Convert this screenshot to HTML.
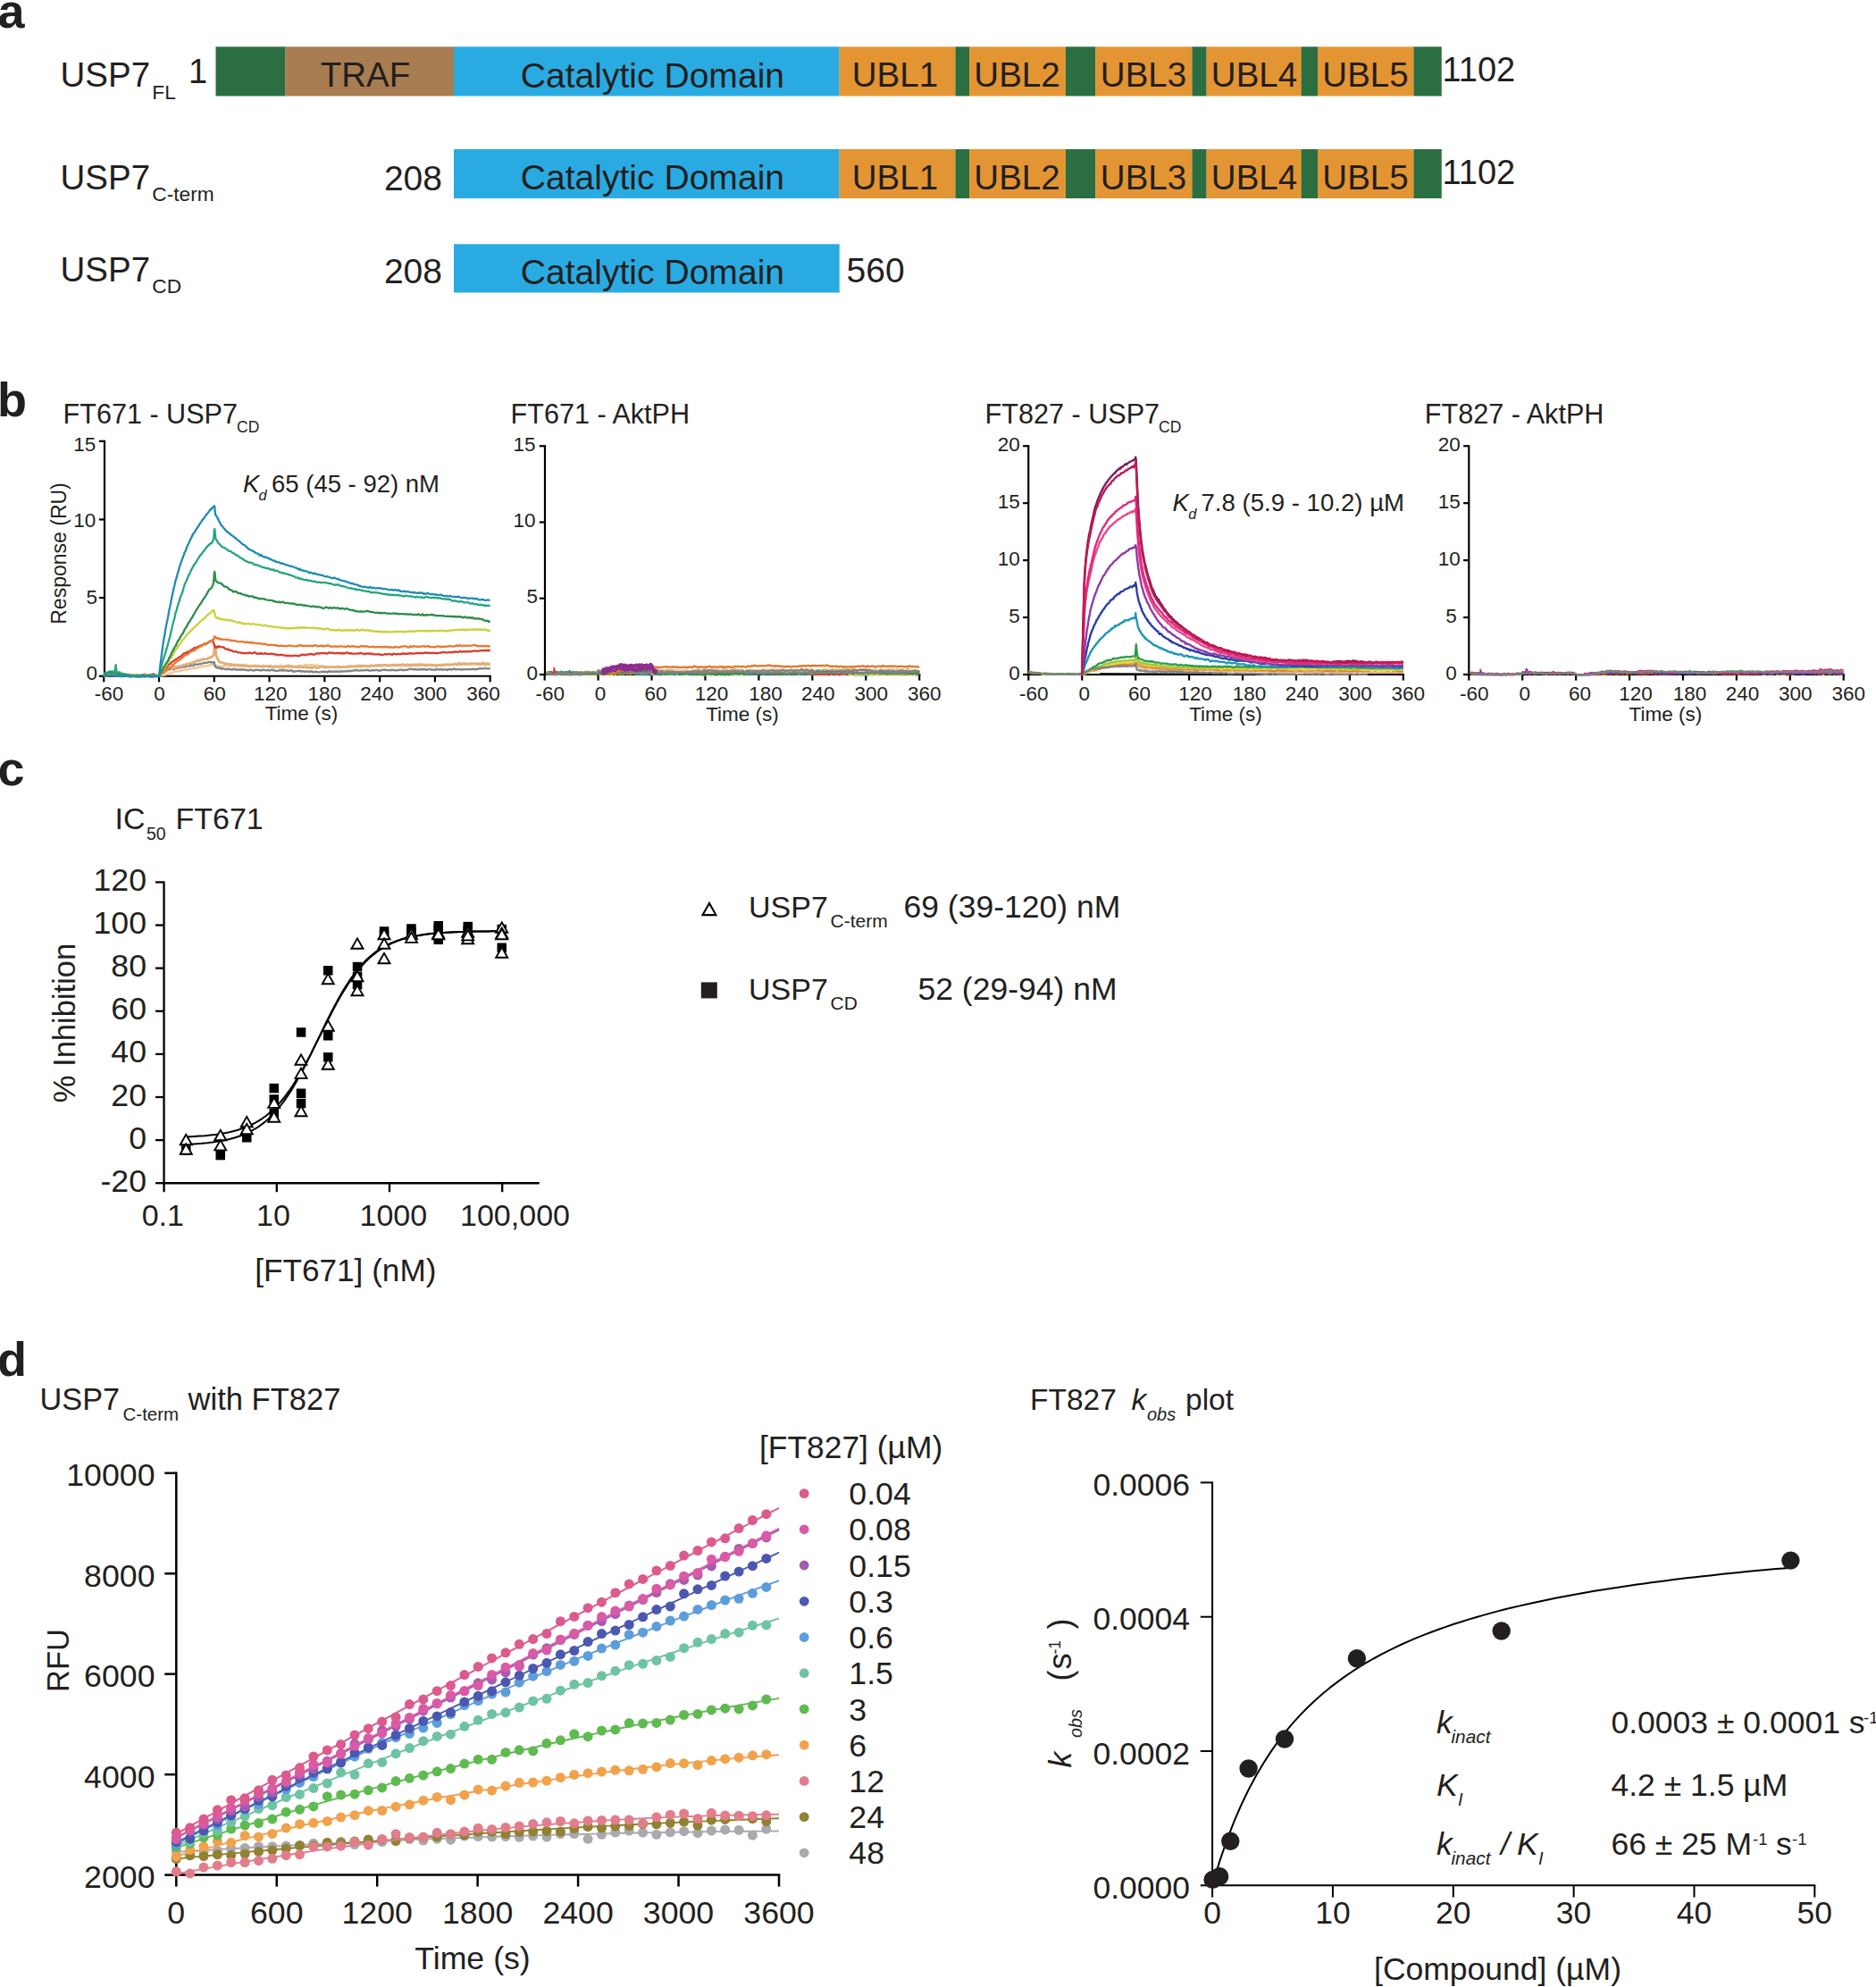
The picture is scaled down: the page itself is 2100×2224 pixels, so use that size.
<!DOCTYPE html>
<html lang="en"><head><meta charset="utf-8"><title>USP7 inhibitor figure</title>
<style>
html,body{margin:0;padding:0;background:#fff;}
body{width:2100px;height:2224px;overflow:hidden;}
svg{display:block;}
svg text{font-family:"Liberation Sans",sans-serif;fill:#231f20;}
</style></head><body>
<svg width="2100" height="2224" viewBox="0 0 2100 2224">
<rect width="2100" height="2224" fill="#fff"/>
<text x="-2.5" y="31.0" font-size="54" font-weight="bold">a</text>
<rect x="241.50" y="52.30" width="77.90" height="55.20" fill="#2b6e41"/>
<rect x="319.20" y="52.30" width="189.00" height="55.20" fill="#a87d51"/>
<rect x="508.00" y="52.30" width="431.70" height="55.20" fill="#29abe2"/>
<rect x="939.50" y="52.30" width="130.20" height="55.20" fill="#e39534"/>
<rect x="1069.50" y="52.30" width="15.70" height="55.20" fill="#2b6e41"/>
<rect x="1085.00" y="52.30" width="108.20" height="55.20" fill="#e39534"/>
<rect x="1193.00" y="52.30" width="33.45" height="55.20" fill="#2b6e41"/>
<rect x="1226.25" y="52.30" width="108.45" height="55.20" fill="#e39534"/>
<rect x="1334.50" y="52.30" width="16.20" height="55.20" fill="#2b6e41"/>
<rect x="1350.50" y="52.30" width="106.45" height="55.20" fill="#e39534"/>
<rect x="1456.75" y="52.30" width="18.45" height="55.20" fill="#2b6e41"/>
<rect x="1475.00" y="52.30" width="107.70" height="55.20" fill="#e39534"/>
<rect x="1582.50" y="52.30" width="31.25" height="55.20" fill="#2b6e41"/>
<text x="1001.9" y="97.0" font-size="38.5" text-anchor="middle">UBL1</text>
<text x="1138.5" y="97.0" font-size="38.5" text-anchor="middle">UBL2</text>
<text x="1280.0" y="97.0" font-size="38.5" text-anchor="middle">UBL3</text>
<text x="1404.0" y="97.0" font-size="38.5" text-anchor="middle">UBL4</text>
<text x="1528.5" y="97.0" font-size="38.5" text-anchor="middle">UBL5</text>
<text x="730.4" y="97.5" font-size="39.1" text-anchor="middle">Catalytic Domain</text>
<text x="409.0" y="97.0" font-size="38.5" text-anchor="middle">TRAF</text>
<text x="67.5" y="97.0" font-size="38.5">USP7</text>
<text x="170.3" y="110.5" font-size="22.7">FL</text>
<text x="211.0" y="92.7" font-size="38">1</text>
<text x="1614.5" y="91.3" font-size="38">1102</text>
<rect x="508.00" y="167.00" width="431.70" height="55.00" fill="#29abe2"/>
<rect x="939.50" y="167.00" width="130.20" height="55.00" fill="#e39534"/>
<rect x="1069.50" y="167.00" width="15.70" height="55.00" fill="#2b6e41"/>
<rect x="1085.00" y="167.00" width="108.20" height="55.00" fill="#e39534"/>
<rect x="1193.00" y="167.00" width="33.45" height="55.00" fill="#2b6e41"/>
<rect x="1226.25" y="167.00" width="108.45" height="55.00" fill="#e39534"/>
<rect x="1334.50" y="167.00" width="16.20" height="55.00" fill="#2b6e41"/>
<rect x="1350.50" y="167.00" width="106.45" height="55.00" fill="#e39534"/>
<rect x="1456.75" y="167.00" width="18.45" height="55.00" fill="#2b6e41"/>
<rect x="1475.00" y="167.00" width="107.70" height="55.00" fill="#e39534"/>
<rect x="1582.50" y="167.00" width="31.25" height="55.00" fill="#2b6e41"/>
<text x="1001.9" y="211.8" font-size="38.5" text-anchor="middle">UBL1</text>
<text x="1138.5" y="211.8" font-size="38.5" text-anchor="middle">UBL2</text>
<text x="1280.0" y="211.8" font-size="38.5" text-anchor="middle">UBL3</text>
<text x="1404.0" y="211.8" font-size="38.5" text-anchor="middle">UBL4</text>
<text x="1528.5" y="211.8" font-size="38.5" text-anchor="middle">UBL5</text>
<text x="730.4" y="212.3" font-size="39.1" text-anchor="middle">Catalytic Domain</text>
<text x="67.5" y="211.7" font-size="38.5">USP7</text>
<text x="170.3" y="224.8" font-size="22.7">C-term</text>
<text x="495.0" y="212.5" font-size="39" text-anchor="end">208</text>
<text x="1614.5" y="206.0" font-size="38">1102</text>
<rect x="508.00" y="273.25" width="431.70" height="54.25" fill="#29abe2"/>
<text x="730.4" y="317.8" font-size="39.1" text-anchor="middle">Catalytic Domain</text>
<text x="67.5" y="315.0" font-size="38.5">USP7</text>
<text x="170.3" y="327.8" font-size="22.7">CD</text>
<text x="495.0" y="317.0" font-size="39" text-anchor="end">208</text>
<text x="947.5" y="316.0" font-size="39">560</text>
<text x="-3.0" y="466.0" font-size="54" font-weight="bold">b</text>
<line x1="117.00" y1="492.65" x2="117.00" y2="757.85" stroke="#000" stroke-width="2.2" stroke-linecap="butt"/>
<line x1="115.90" y1="756.75" x2="549.85" y2="756.75" stroke="#000" stroke-width="2.2" stroke-linecap="butt"/>
<line x1="110.80" y1="756.75" x2="117.00" y2="756.75" stroke="#000" stroke-width="2.2" stroke-linecap="butt"/>
<text x="108.9" y="760.9" font-size="22.5" text-anchor="end">0</text>
<line x1="110.80" y1="669.10" x2="117.00" y2="669.10" stroke="#000" stroke-width="2.2" stroke-linecap="butt"/>
<text x="108.9" y="675.6" font-size="22.5" text-anchor="end">5</text>
<line x1="110.80" y1="581.45" x2="117.00" y2="581.45" stroke="#000" stroke-width="2.2" stroke-linecap="butt"/>
<text x="107.3" y="590.3" font-size="22.5" text-anchor="end">10</text>
<line x1="110.80" y1="493.80" x2="117.00" y2="493.80" stroke="#000" stroke-width="2.2" stroke-linecap="butt"/>
<text x="107.3" y="505.0" font-size="22.5" text-anchor="end">15</text>
<line x1="116.22" y1="756.75" x2="116.22" y2="763.35" stroke="#000" stroke-width="2.2" stroke-linecap="butt"/>
<text x="122.0" y="783.9" font-size="22.5" text-anchor="middle">-60</text>
<line x1="178.00" y1="756.75" x2="178.00" y2="763.35" stroke="#000" stroke-width="2.2" stroke-linecap="butt"/>
<text x="178.4" y="783.9" font-size="22.5" text-anchor="middle">0</text>
<line x1="239.78" y1="756.75" x2="239.78" y2="763.35" stroke="#000" stroke-width="2.2" stroke-linecap="butt"/>
<text x="240.3" y="783.9" font-size="22.5" text-anchor="middle">60</text>
<line x1="301.56" y1="756.75" x2="301.56" y2="763.35" stroke="#000" stroke-width="2.2" stroke-linecap="butt"/>
<text x="302.8" y="783.9" font-size="22.5" text-anchor="middle">120</text>
<line x1="363.34" y1="756.75" x2="363.34" y2="763.35" stroke="#000" stroke-width="2.2" stroke-linecap="butt"/>
<text x="363.2" y="783.9" font-size="22.5" text-anchor="middle">180</text>
<line x1="425.12" y1="756.75" x2="425.12" y2="763.35" stroke="#000" stroke-width="2.2" stroke-linecap="butt"/>
<text x="422.1" y="783.9" font-size="22.5" text-anchor="middle">240</text>
<line x1="486.90" y1="756.75" x2="486.90" y2="763.35" stroke="#000" stroke-width="2.2" stroke-linecap="butt"/>
<text x="481.6" y="783.9" font-size="22.5" text-anchor="middle">300</text>
<line x1="548.68" y1="756.75" x2="548.68" y2="763.35" stroke="#000" stroke-width="2.2" stroke-linecap="butt"/>
<text x="541.0" y="783.9" font-size="22.5" text-anchor="middle">360</text>
<text x="337.5" y="806.0" font-size="22.5" text-anchor="middle">Time (s)</text>
<text x="70.5" y="474.2" font-size="30.6">FT671 - USP7</text>
<text x="265.0" y="484.0" font-size="17.5">CD</text>
<path d="M116.2 755.5l1-.2 1.1-.8 1 .9 1-.7 1.1-.3 1 1 1-.7 1.1-.4 1-.7 1 1 1-.4 1.1 .5 1-.5 1-.5 1.1 .4 1 1.2 1-.1 1.1 .2 1-.2 1 .4 1-1.2 1.1 .8 1-.7 1 1 1.1 0 1 .2 1-.1 1.1 0 1 .1 1 .4 1 .3 1.1-.4 1-.2 1 .2 1.1 .6 1-.6 1 .5 1 .6 1.1-.6 1 .6 1-.9 1.1 .5 1 .4 1 0 1.1-.1 1 .2 1 .2 1-.9 1.1 .9 1 .1 1 .1 1.1-.4 1 .1 1-.1 1.1 .4 1-.7 1 .4 1-.2 1.1-.2 1 0 1-.4 1.1-.5 1 .3 1-.8 1 0 1.1 .1 1 0 1-.8 1.1 0 1-.4 1-.8 1.1 0 1-.8 1 .7 1-.6 1.1-1.6 1 .3 1 0 1.1-.4 1 .6 1-.3 1.1-1 1 .9 1-1.1 1 .8 1.1-1.5 1 .1 1 .1 1.1-.4 1-.2 1 .3 1 0 1.1-.6 1-.5 1 .4 1.1-.6 1-.9 1 .6 1.1-.2 1 .4 1-1.4 1 .5 1.1-.2 1 .1 1-1 1.1 .1 1-.3 1 0 1.1 .1 1-.7 1-.2 1 .2 1.1-.1 1-.4 1 0 1.1-.8 1-.3 1 .9 .5 .2 .6-.5 .5 .4 .5 .2 .5 .2 .5-.2 .5 .2 .5 0 .6-.1 .5 1.2 .5-1 .5 0 .5 .2 .5 .2 .5 .4 .6 .1 1.5-.6 1.5 .5 1.6-1.1 1.5 .4 1.6 .2 1.5-.4 1.6 .3 1.5 .2 1.6-.6 1.5 .5 1.5 .1 1.6-.2 1.5 .1 1.6 0 1.5 .4 1.6 0 1.5-.3 1.6 .2 1.5-.1 1.5 .7 1.6-.3 1.5 .2 1.6-.3 1.5-.1 1.6 .4 1.5-.2 1.6 .1 1.5-.2 1.5 .2 1.6 .2 1.5 .1 1.6 0 1.5-.5 1.6-.1 1.5 .5 1.6 .4 1.5-.2 1.5-.2 1.6 .9 1.5-.4 1.6-.8 1.5 .7 1.6 .4 1.5-.2 1.6 .6 1.5-.6 1.5 0 1.6 0 1.5-.1 1.6-.1 1.5-.5 1.6 .1 1.5 .1 1.6-.3 1.5 .5 1.6-.8 1.5-1 1.5 0 1.6 .1 1.5 .4 1.6-.5 1.5-1 1.6 .8 1.5-.1 1.6-.5 1.5-.2 1.5 .4 1.6-.2 1.5 .9 1.6-.7 1.5 .7 1.6-.1 1.5 1 1.6-.6 1.5 .4 1.5 0 1.6 .6 1.5 .4 1.6-.3 1.5-.2 1.6 .4 1.5 .2 1.6 .1 1.5-.7 1.5 .5 1.6 .4 1.5-1 1.6 .4 1.5-.2 1.6 .6 1.5-.6 1.6-.3 1.5-.3 1.5 0 1.6-.4 1.5 .3 1.6 .1 1.5 .3 1.6-1.1 1.5 .2 1.6-.7 1.5 .1 1.5 .9 1.6-.5 1.5-.1 1.6 0 1.5 .7 1.6-.2 1.5 0 1.6-.6 1.5 .4 1.5 .3 1.6 0 1.5-.3 1.6 .4 1.5-.1 1.6-.3 1.5-.4 1.6 .2 1.5 .1 1.5 .4 1.6-.1 1.5 .3 1.6-.7 1.5 .1 1.6 .2 1.5-1.1 1.6 1 1.5-.5 1.5 .4 1.6-.1 1.5 .6 1.6-.5 1.5-.2 1.6 1.1 1.5-1.3 1.6 .9 1.5-.3 1.5 .1 1.6-.5 1.5 .1 1.6 .4 1.5 0 1.6-.4 1.5 .3 1.6 0 1.5-.1 1.5-.6 1.6 .9 1.5-.1 1.6-.7 1.5 .4 1.6 .2 1.5-.8 1.6 .4 1.5 .1 1.5 .1 1.6-1.1 1.5 .6 1.6-.7 1.5 .3 1.6 .4 1.5-.8 1.6 .4 1.5-.3 1.5 .7 1.6-.1 1.5-.3 1.6 0 1.5-.7 1.6 .1 1.5 .6 1.6-.5 1.5 .9 1.5-.8 1.6-.2 1.5 .5 1.6 0 1.5-.5 1.6 .2 1.5-.7 1.6 1 1.5-.5 1.5-.4 1.6 .1 1.5 .4 1.6 .4 1.5-.1 1.6-.2 1.5 .3 1.6 0 1.5 .3 1.5 .1 1.6-.6 1.5 .3 1.6 1.3" fill="none" stroke="#f2c797" stroke-width="2.3" stroke-linejoin="round" />
<path d="M116.2 755.4l1 .8 1.1-.6 1-.6 1 1.2 1.1-.7 1 .4 1-.7 1.1 .7 1 .1 1-.7 1 .1 1.1 .6 1 .7 1-.1 1.1-.8 1 .1 1 .7 1.1-.9 1 .2 1 .4 1-.1 1.1-.1 1 .4 1-.5 1.1 .4 1 0 1-.4 1.1 .2 1 .7 1-.5 1 .4 1.1-.4 1-.1 1 .7 1.1-.8 1-.3 1 .6 1 .5 1.1-.3 1-.1 1-.1 1.1 0 1 .5 1-.1 1.1-.4 1-.8 1 1 1 .1 1.1-.2 1-.3 1 .5 1.1 .8 1-.5 1 .1 1.1 0 1 0 1-.2 1-.5 1.1 .2 1 .1 1-1.8 1.1-1.9 1-1.6 1-.7 1-.3 1.1-1 1-.2 1 .1 1.1 .5 1-.8 1 .3 1.1-.3 1-.3 1-.3 1-.4 1.1 1.1 1-1.3 1 .3 1.1-.4 1 .1 1-1 1.1 .4 1-.5 1 .4 1-.8 1.1 .1 1 .2 1-.4 1.1-.1 1-.1 1-1 1 .2 1.1 .1 1 .2 1-1.1 1.1 .2 1-.1 1 0 1.1-1.1 1 0 1 .3 1-.1 1.1-.2 1-.3 1-.3 1.1 .3 1-.4 1-.5 1.1-.5 1 0 1 0 1 .2 1.1-.6 1-.2 1-.1 1.1-.2 1 .5 1 .1 .5-.6 .6 .6 .5-.4 .5 .2 .5 2.2 .5 2.1 .5 1 .5 .2 .6 .2 .5 .5 .5-.1 .5 .1 .5-.3 .5 .5 .5 0 .6-.4 1.5 1.6 1.5-.8 1.6 .5 1.5 .3 1.6 .4 1.5-.7 1.6 .4 1.5 .3 1.6 .3 1.5-.7 1.5-.1 1.6 1 1.5-.3 1.6 0 1.5-.2 1.6 .5 1.5-.8 1.6 .8 1.5 .2 1.5 .2 1.6 .2 1.5-.7 1.6 .3 1.5 .4 1.6 .1 1.5-.7 1.6 0 1.5 .2 1.5 .2 1.6 .3 1.5-.6 1.6-.1 1.5 .4 1.6 .2 1.5-.6 1.6 .8 1.5-.4 1.5-.5 1.6 .7 1.5 .1 1.6 .7 1.5-.4 1.6-.3 1.5-.7 1.6 1.1 1.5-1.2 1.5 .8 1.6 .1 1.5-.2 1.6 .7 1.5-.5 1.6-.4 1.5 1.4 1.6-.3 1.5 .2 1.6-.4 1.5 .1 1.5-.5 1.6 1.1 1.5-.7 1.6 .7 1.5-.3 1.6 .2 1.5-.2 1.6 .6 1.5-.7 1.5 .1 1.6 .9 1.5-.4 1.6-.3 1.5 .6 1.6 0 1.5-.2 1.6-.3 1.5-.1 1.5 .5 1.6-.5 1.5 .9 1.6-1.5 1.5 .8 1.6-.6 1.5 .6 1.6-.1 1.5-.3 1.5 0 1.6 .6 1.5-.4 1.6-.2 1.5 0 1.6-.1 1.5 0 1.6-.1 1.5-.5 1.5 .2 1.6-.1 1.5 .1 1.6-.8 1.5 .4 1.6-.7 1.5 .6 1.6 .2 1.5-.3 1.5-.1 1.6 0 1.5-.1 1.6 0 1.5-.4 1.6 .7 1.5 .1 1.6 0 1.5-.8 1.5 .5 1.6-.1 1.5-.4 1.6 .5 1.5 .5 1.6-.6 1.5-.3 1.6-.4 1.5 .3 1.5 .4 1.6 0 1.5 0 1.6 .1 1.5-.7 1.6 .5 1.5 0 1.6 .3 1.5 0 1.5-.5 1.6-.4 1.5 .5 1.6-.2 1.5 .2 1.6-.1 1.5-.1 1.6-.7 1.5-.5 1.5 .3 1.6 .3 1.5 .3 1.6-.6 1.5 .7 1.6 .1 1.5-.9 1.6 .9 1.5-.8 1.5 .4 1.6-.3 1.5 .9 1.6-.7 1.5 0 1.6-.1 1.5 .8 1.6-.4 1.5 .5 1.5-1.1 1.6 .5 1.5 .1 1.6-.4 1.5 .4 1.6-.2 1.5 .2 1.6-.4 1.5 1 1.5-1.2 1.6 .3 1.5 .4 1.6-.8 1.5-.3 1.6 1 1.5-.3 1.6-.1 1.5-.2 1.5 .8 1.6-.6 1.5 .3 1.6-.4 1.5 .4 1.6-.2 1.5 0 1.6 0 1.5-.3 1.5-.1 1.6 .5 1.5-.3 1.6-.2 1.5-.4 1.6-.3 1.5 .5 1.6-.3 1.5-.4 1.5 .2 1.6 .3 1.5-.1 1.6 .2" fill="none" stroke="#808285" stroke-width="2.3" stroke-linejoin="round" />
<path d="M116.2 756.2l1-.9 1.1-.2 1 .2 1-.5 1.1 .8 1-.9 1 .4 1.1 0 1 .3 1 .2 1-.4 1.1-.4 1 .2 1-.1 1.1 .5 1-.1 1 .2 1.1 .5 1-.3 1 .3 1-.3 1.1 .4 1 .1 1-.1 1.1-.1 1 .5 1 0 1.1 0 1-.2 1 .7 1 .1 1.1-1.4 1 1 1-.1 1.1 .8 1-.6 1-.1 1 .1 1.1-.1 1-.1 1-.3 1.1-.2 1 .7 1 0 1.1-.7 1 .1 1 .3 1 .1 1.1-.2 1-.3 1-.3 1.1-.1 1 0 1 .6 1.1-.7 1 .5 1 .3 1 .1 1.1 0 1 .1 1-1.9 1.1-1.9 1-2.5 1 .1 1-1.2 1.1 .7 1-.8 1-.6 1.1-.5 1 .6 1-.9 1.1-.3 1 .5 1-.2 1-.2 1.1 .4 1-1.7 1 .4 1.1 .4 1-.9 1-.2 1.1 0 1-.3 1-.6 1 .3 1.1-.1 1-1.2 1 .2 1.1-.1 1-1 1 1.1 1-.8 1.1-.9 1-.2 1-.3 1.1-.1 1-.3 1-.4 1.1-.4 1-.7 1-.5 1-.2 1.1-.6 1 .8 1-.8 1.1 .1 1-1.2 1 .5 1.1-.5 1 0 1 .1 1-.1 1.1-.8 1-.4 1 .1 1.1-1.2 1 .1 1-.9 .5-.2 .6-.5 .5-.4 .5-7.2 .5-4 .5 1.6 .5 3.3 .5 4 .6 3.4 .5 1.1 .5 1.5 .5 1 .5 .6 .5 .5 .5 1.6 .6 .3 1.5 .2 1.5 .3 1.6 .6 1.5 .6 1.6 0 1.5 .3 1.6 .6 1.5-.6 1.6 1.1 1.5-.3 1.5 .1 1.6 0 1.5-.1 1.6 .7 1.5-.1 1.6-.1 1.5-.3 1.6 1 1.5-.4 1.5 .2 1.6 .5 1.5-.4 1.6 .6 1.5-.3 1.6 0 1.5-.6 1.6 1.1 1.5-.5 1.5 .2 1.6 .1 1.5 .1 1.6-.6 1.5 .7 1.6-.4 1.5 .3 1.6-.3 1.5 0 1.5 .8 1.6-.2 1.5-.3 1.6 0 1.5 .5 1.6-.6 1.5-.2 1.6 .4 1.5-.1 1.5 .5 1.6-.8 1.5-.2 1.6-.3 1.5 1 1.6-.6 1.5 .9 1.6-.2 1.5 .2 1.6 .6 1.5-.2 1.5-.1 1.6 .1 1.5 .2 1.6-.1 1.5-.2 1.6-.1 1.5 1.2 1.6-.6 1.5-.2 1.5 .9 1.6-1 1.5-.3 1.6 .9 1.5 .3 1.6-.6 1.5-.7 1.6-.5 1.5 .8 1.5 .1 1.6 .3 1.5-.6 1.6 .5 1.5-.4 1.6-.3 1.5 .3 1.6 .3 1.5-.5 1.5-.3 1.6 0 1.5 1 1.6-.8 1.5 0 1.6 .2 1.5 .3 1.6-.2 1.5 .1 1.5-1.1 1.6 .6 1.5 .2 1.6-.3 1.5-.4 1.6 .5 1.5-.3 1.6 0 1.5 .4 1.5-.8 1.6 .4 1.5-.4 1.6-.1 1.5 .5 1.6 .1 1.5-.2 1.6-1.1 1.5 .7 1.5 0 1.6-.8 1.5 .7 1.6-1 1.5 .8 1.6-.5 1.5 0 1.6-.1 1.5-.3 1.5 0 1.6 .7 1.5-.1 1.6-.4 1.5-.3 1.6 .3 1.5 .1 1.6 .4 1.5-.9 1.5 .1 1.6 .4 1.5-.3 1.6-.6 1.5 .7 1.6 0 1.5-.6 1.6 .9 1.5-.5 1.5-.1 1.6 .1 1.5-.1 1.6 0 1.5-.2 1.6 .2 1.5-.3 1.6 0 1.5 .3 1.5 .2 1.6 .7 1.5-1.1 1.6 .4 1.5 0 1.6-.2 1.5 .6 1.6 .1 1.5-.5 1.5 1.5 1.6-1.5 1.5 .2 1.6 .5 1.5-.3 1.6-.7 1.5 .6 1.6-.7 1.5 .1 1.5 0 1.6 0 1.5-.1 1.6 0 1.5-.4 1.6-.3 1.5 .9 1.6-1.3 1.5-.3 1.5 1.2 1.6-1 1.5 .4 1.6-.3 1.5 .3 1.6 .3 1.5-.6 1.6 .1 1.5-.1 1.5 .5 1.6-.3 1.5-.4 1.6 .9 1.5-.7 1.6 .7 1.5-.9 1.6-.5 1.5 1.3 1.5-.4 1.6-.3 1.5 .6 1.6-.7" fill="none" stroke="#e3ad78" stroke-width="2.8" stroke-linejoin="round" />
<path d="M116.2 756.9l1-1 1.1-.3 1 .6 1 0 1.1-.5 1 .3 1-.3 1.1-.3 1 .4 1-.3 1 1.2 1.1-1.2 1 .5 1 .2 1.1-.2 1 .4 1 0 1.1 .3 1-.4 1 .2 1-.1 1.1-.6 1 .3 1 .5 1.1-.6 1-.2 1 .4 1.1 0 1 0 1 .3 1-.7 1.1 .2 1 .1 1 0 1.1 0 1-.7 1 .6 1 .4 1.1-.7 1-.3 1 0 1.1 .3 1 .4 1-1.4 1.1 1 1-.5 1 .1 1 .1 1.1-.1 1 .2 1-.1 1.1-.2 1-.2 1-.9 1.1 1.4 1-.2 1 .5 1 .4 1.1 .3 1-.1 1-1.1 1.1-1.4 1-2.3 1-.4 1-1.9 1.1-.5 1-1 1-1.1 1.1-.7 1-1.4 1-1.1 1.1-.3 1-1.2 1-1.2 1-.4 1.1-.4 1-1.3 1-.4 1.1-.6 1-.3 1-1.3 1.1-.3 1-1.1 1 .1 1-1 1.1-1.6 1-.8 1-.1 1.1-.6 1 .3 1-1.5 1-.2 1.1 0 1-.9 1-.5 1.1-1.1 1-.3 1-1.3 1.1-.1 1 0 1-.6 1 .1 1.1-1.2 1 0 1-.6 1.1-.5 1-.3 1-.3 1.1-.8 1-.5 1 .8 1-1.2 1.1-.6 1-.5 1-.9 1.1-.7 1-.1 1-.1 .5 .1 .6 1.6 .5 1.8 .5 1.1 .5 1.7 .5 1.3 .5-.9 .5 .7 .6-.4 .5 .7 .5-1.1 .5 .9 .5-.9 .5-.6 .5 .5 .6 .2 1.5 .5 1.5 .1 1.6 .1 1.5 1.8 1.6 .3 1.5-.1 1.6 1.3 1.5 0 1.6 .6 1.5 .9 1.5 .1 1.6-.2 1.5 1 1.6 .1 1.5 .1 1.6 .6 1.5 0 1.6-.2 1.5 .3 1.5-.1 1.6-.2 1.5-.3 1.6 .6 1.5 .3 1.6-1.3 1.5 .7 1.6 1.1 1.5-.5 1.5 .5 1.6-.8 1.5 .8 1.6-.2 1.5-.7 1.6 .9 1.5-.1 1.6 0 1.5-.1 1.5 .1 1.6 0 1.5 .9 1.6-.3 1.5 1 1.6-.5 1.5 .3 1.6-.6 1.5 .7 1.5 .3 1.6 .1 1.5 .3 1.6 0 1.5 .1 1.6-.2 1.5 .2 1.6-.2 1.5-.4 1.6 .7 1.5-.2 1.5 .1 1.6-1.3 1.5-.1 1.6 .3 1.5 0 1.6 .1 1.5-.9 1.6 .2 1.5-.3 1.5-.1 1.6 .9 1.5-.6 1.6-.6 1.5-.5 1.6 .4 1.5-.5 1.6 .1 1.5 .2 1.5-.6 1.6 .6 1.5 .1 1.6-1.1 1.5 .1 1.6 .5 1.5-.4 1.6 .7 1.5-.1 1.5-.2 1.6 0 1.5-.1 1.6 .7 1.5-.8 1.6 .8 1.5-.4 1.6-.9 1.5 .6 1.5 .6 1.6-.3 1.5 .4 1.6 .1 1.5 0 1.6-.1 1.5-.1 1.6-.2 1.5-.5 1.5 .6 1.6 .2 1.5 .5 1.6-.8 1.5 .4 1.6-.4 1.5 .6 1.6-.5 1.5 .9 1.5 0 1.6 0 1.5 .1 1.6-.2 1.5 .1 1.6 .8 1.5-.3 1.6-.1 1.5-.5 1.5 .3 1.6-.4 1.5 0 1.6 .1 1.5 .8 1.6-1.5 1.5 .5 1.6 .3 1.5-.3 1.5 .2 1.6-.2 1.5 .2 1.6-1.1 1.5 .8 1.6-.3 1.5 .3 1.6-.6 1.5-.2 1.5 .3 1.6 .3 1.5-.4 1.6 .1 1.5-.4 1.6 .1 1.5-.1 1.6 .1 1.5 0 1.5-.2 1.6-.5 1.5 .4 1.6-.2 1.5 .3 1.6-.1 1.5 .2 1.6-.4 1.5 .2 1.5 .5 1.6-.5 1.5 .1 1.6-.4 1.5-.1 1.6-.6 1.5 .4 1.6 .2 1.5-.1 1.5-.1 1.6 0 1.5-.4 1.6 .3 1.5-.4 1.6-.3 1.5 .5 1.6-.3 1.5-.6 1.5 .3 1.6 .3 1.5-.4 1.6 .2 1.5 .1 1.6-.6 1.5 .5 1.6-.2 1.5-.2 1.5-.5 1.6 0 1.5 .4 1.6-.3 1.5 0 1.6-.5 1.5 0 1.6 .3 1.5-.7 1.5 .7 1.6-.5 1.5 .5 1.6-1.2" fill="none" stroke="#d83b2d" stroke-width="2.3" stroke-linejoin="round" />
<path d="M116.2 757.6l1-1 1.1 .2 1-.4 1-.3 1.1-.2 1-.9 1 .7 1.1-.1 1-.1 1-.6 1 .4 1.1-.2 1-.4 1 0 1.1 .6 1-.9 1 .5 1.1-.2 1 .3 1-.4 1 .7 1.1 .2 1-.3 1-.3 1.1 .6 1-.3 1-.2 1.1 1.1 1-.9 1 .1 1 .6 1.1-.1 1 .2 1-.4 1.1 .5 1-.4 1-.3 1 1.1 1.1-.7 1 .1 1 .2 1.1-.3 1 .2 1 .5 1.1-.4 1-.2 1 .3 1 .2 1.1-1.3 1 .3 1 .1 1.1 .4 1 .7 1-.6 1.1-.1 1 .4 1 .1 1 0 1.1 0 1 .2 1-.6 1.1-.6 1-1.8 1-.2 1-.5 1.1-.6 1-.6 1-1 1.1-1.5 1-.1 1-1 1.1-.5 1-1.3 1-.3 1-1.9 1.1-.2 1-1.3 1-.7 1.1-1.3 1-.5 1-.9 1.1 0 1-1 1-.8 1-.9 1.1-.8 1-1.4 1-.4 1.1-.7 1-.4 1-.6 1-.5 1.1-1.5 1-.3 1-.8 1.1-.4 1-.2 1-.9 1.1 .2 1-1.6 1-.3 1-.7 1.1-.5 1-.8 1-.3 1.1-.6 1-.3 1-.8 1.1-.7 1-.8 1-.1 1-.2 1.1-.4 1-1.1 1-.3 1.1-.8 1-.7 1 .3 .5-1 .6-.4 .5 .1 .5-2 .5-1.5 .5 .7 .5 .5 .5-.1 .6 .9 .5 .4 .5-.4 .5 .4 .5 .1 .5-.4 .5 .2 .6 1.2 1.5-.7 1.5 .6 1.6 .1 1.5 0 1.6-.2 1.5 .5 1.6 .4 1.5 0 1.6 .9 1.5-.6 1.5 .3 1.6 .7 1.5 .3 1.6 .1 1.5 .1 1.6-.3 1.5 .4 1.6 .4 1.5 0 1.5-.3 1.6 .7 1.5 .4 1.6-.9 1.5 1.3 1.6-.3 1.5 0 1.6 .4 1.5 .3 1.5-.4 1.6 .6 1.5 0 1.6 .4 1.5-.5 1.6 1 1.5 .3 1.6 0 1.5-.1 1.5 .2 1.6 0 1.5 .4 1.6-.3 1.5 .8 1.6 0 1.5-.2 1.6 .3 1.5 .1 1.5 0 1.6 .1 1.5-.3 1.6-.1 1.5-.2 1.6 .4 1.5 .3 1.6 .1 1.5 0 1.6 .1 1.5-.8 1.5-.5 1.6 .6 1.5-.1 1.6 .8 1.5-.8 1.6 .2 1.5-.2 1.6 .3 1.5 0 1.5 .1 1.6 0 1.5-.9 1.6 .5 1.5 .8 1.6-.4 1.5 .1 1.6-.8 1.5 1.4 1.5-.8 1.6 0 1.5-.5 1.6 .2 1.5 .7 1.6 .5 1.5-.1 1.6-.1 1.5-.1 1.5 .2 1.6 .2 1.5-.6 1.6 .1 1.5 .2 1.6 .1 1.5 .1 1.6 .1 1.5-1.2 1.5 1 1.6 .1 1.5-.7 1.6 .6 1.5-.2 1.6 .5 1.5-.2 1.6 .5 1.5-.8 1.5-.6 1.6 .7 1.5-.1 1.6-.2 1.5 0 1.6 .8 1.5 0 1.6-.1 1.5-.5 1.5 .9 1.6-.1 1.5-.1 1.6 0 1.5 0 1.6 .2 1.5-.5 1.6 .7 1.5-1 1.5 .7 1.6-.2 1.5 .7 1.6-.6 1.5 .5 1.6 .1 1.5-.9 1.6 .2 1.5 .4 1.5 .2 1.6-1 1.5 .2 1.6-.4 1.5-.1 1.6-.1 1.5 1.1 1.6 .3 1.5-1.4 1.5 .9 1.6-1 1.5 .2 1.6 .2 1.5 0 1.6 .6 1.5-.6 1.6 .1 1.5-.2 1.5-.5 1.6 .9 1.5-.4 1.6-.4 1.5 .9 1.6 .1 1.5 0 1.6 .1 1.5 .2 1.5-.8 1.6-.3 1.5 .3 1.6 .4 1.5 0 1.6-.3 1.5 .3 1.6-.3 1.5 0 1.5-.5 1.6 0 1.5 .1 1.6 .3 1.5-.3 1.6-.5 1.5-.5 1.6 .8 1.5-1.2 1.5 1 1.6-.1 1.5-.3 1.6 .4 1.5-.3 1.6 0 1.5 .2 1.6-.1 1.5-.3 1.5-.2 1.6-.3 1.5 .7 1.6 .7 1.5-.3 1.6 .4 1.5-.5 1.6 .3 1.5-.3 1.5 .3 1.6 0 1.5 .3 1.6-.6" fill="none" stroke="#e6792f" stroke-width="2.3" stroke-linejoin="round" />
<path d="M116.2 757.5l1-1.1 1.1-.9 1 .4 1-1.1 1.1 .7 1-.5 1-.3 1.1 .4 1-1.2 1 .7 1-.1 1.1-.3 1-4.9 1 4.9 1.1-.9 1 .7 1 .2 1.1-.2 1 .3 1 .4 1 0 1.1-.2 1-.4 1 .6 1.1 0 1 1.1 1-.6 1.1 0 1-.5 1 .1 1 .6 1.1-.1 1 .3 1 .3 1.1-.3 1 .2 1-.2 1-.1 1.1 .3 1-.4 1 .8 1.1-.4 1 0 1 .7 1.1-.8 1 0 1-.4 1 .6 1.1-.2 1 0 1 .8 1.1-.6 1 .6 1-.6 1.1 0 1 .3 1 .5 1-.4 1.1 .3 1-.1 1-1.2 1.1-1.4 1-2.7 1-.7 1-1.3 1.1-1.5 1-2 1-.7 1.1-1.9 1-1.4 1-2.8 1.1-1.2 1-1.4 1-1.8 1-1.6 1.1-1.7 1-1.7 1-2.3 1.1-.8 1-1.5 1-1.8 1.1-1.9 1-1.1 1-.9 1-1.8 1.1-1.3 1-.9 1-1.5 1.1-1.6 1-.9 1-1.9 1-.7 1.1-.8 1-1.3 1-.7 1.1-1.2 1-1.5 1-.7 1.1-.3 1-1.2 1-1.6 1-.4 1.1-1.2 1-1.4 1-.5 1.1-.9 1-.9 1-1.4 1.1-.3 1-.7 1-1.3 1-1.4 1.1-.5 1-1.2 1-.8 1.1-.3 1-1.4 1-.8 .5-.3 .6-.6 .5 0 .5 1.7 .5 1.5 .5 2.4 .5 1.2 .5 1.6 .6 0 .5 .6 .5-.7 .5 .8 .5-.2 .5 .9 .5-.4 .6 0 1.5 .6 1.5 .3 1.6 .2 1.5 .2 1.6 .3 1.5 .3 1.6-.5 1.5 .6 1.6 .4 1.5 .2 1.5 1 1.6 .5 1.5 .4 1.6-.7 1.5 1 1.6 0 1.5 1.1 1.6-.3 1.5 0 1.5 .4 1.6-.4 1.5 .7 1.6 0 1.5-.3 1.6 0 1.5 .6 1.6 .4 1.5 0 1.5-.4 1.6 1 1.5 .1 1.6 .2 1.5-.6 1.6 .4 1.5 .7 1.6 .2 1.5-.1 1.5 .4 1.6 .4 1.5 .2 1.6-.1 1.5 .4 1.6 0 1.5 .3 1.6 .3 1.5-.2 1.5 .1 1.6 1 1.5-.8 1.6 .4 1.5 .2 1.6-.6 1.5 .1 1.6-.1 1.5 .3 1.6-.9 1.5 .4 1.5 .3 1.6-1 1.5 .9 1.6-.9 1.5 .6 1.6 .1 1.5 0 1.6 .2 1.5 0 1.5-.4 1.6 .3 1.5 .6 1.6-.5 1.5 .8 1.6-.5 1.5 .5 1.6 .2 1.5-.3 1.5 1.3 1.6-1.3 1.5-.1 1.6 .9 1.5 .4 1.6 .5 1.5-.5 1.6 .6 1.5 .1 1.5 .2 1.6-.8 1.5 .2 1.6 .8 1.5-.5 1.6 .5 1.5-.9 1.6 .7 1.5-.4 1.5-.2 1.6 .2 1.5 .4 1.6-.3 1.5 .3 1.6-1 1.5 .1 1.6 1 1.5-.2 1.5-1.1 1.6 .6 1.5 .4 1.6-.3 1.5 .3 1.6 0 1.5 .6 1.6-.6 1.5 .7 1.5 .7 1.6-.3 1.5 .3 1.6-.2 1.5 .2 1.6 .1 1.5 .4 1.6-.3 1.5 .3 1.5-.8 1.6 1 1.5-.3 1.6 .1 1.5 .1 1.6-.5 1.5 0 1.6 0 1.5-.5 1.5 .7 1.6-.4 1.5 .1 1.6 0 1.5 .5 1.6-.1 1.5-.7 1.6 .6 1.5-.8 1.5-.2 1.6 .7 1.5-.4 1.6 .1 1.5-.5 1.6-.3 1.5 .4 1.6-.1 1.5-.1 1.5 .7 1.6-.4 1.5-.3 1.6 .4 1.5-.8 1.6 .9 1.5-.3 1.6-.2 1.5-.2 1.5 .5 1.6-.2 1.5-.4 1.6 .1 1.5-.2 1.6 .4 1.5 .1 1.6 .5 1.5-.6 1.5-.3 1.6 .3 1.5-.4 1.6-.5 1.5 .4 1.6-.6 1.5 0 1.6 .2 1.5-.3 1.5-.1 1.6 .7 1.5-1.1 1.6 1.2 1.5-.8 1.6 .2 1.5 0 1.6-.3 1.5 .1 1.5-.1 1.6-.1 1.5 .3 1.6-.4 1.5 .4 1.6-.6 1.5 .7 1.6-.4 1.5 .5 1.5-.3 1.6 1.2 1.5-.3 1.6 .9" fill="none" stroke="#c9d13d" stroke-width="2.3" stroke-linejoin="round" />
<path d="M116.2 756.8l1-3.4 1.1 .2 1 .5 1-.4 1.1-.6 1 .1 1-.5 1.1 1 1-1.4 1 0 1 1.3 1.1-.4 1 .3 1 .1 1.1-.3 1 .7 1 .4 1.1-.3 1 .1 1 .9 1 0 1.1 .9 1-.7 1-.2 1.1 .8 1 .5 1 .9 1.1-.5 1 .8 1-.9 1-.3 1.1 .2 1 .5 1-.1 1.1 .4 1-.3 1 0 1 0 1.1 .5 1-.7 1-.1 1.1 .4 1-.5 1-.2 1.1 1 1-1.2 1 .5 1 .2 1.1-.5 1 .3 1-.2 1.1 .2 1-.2 1 .2 1.1-.2 1 .1 1 .1 1-.3 1.1 .2 1-.1 1-1.7 1.1-1.8 1-1.9 1-1.4 1-2.4 1.1-1.7 1-2.1 1-1.4 1.1-1.8 1-1.2 1-2.9 1.1-1.2 1-2.4 1-2.4 1-1.9 1.1-2 1-2.1 1-1.1 1.1-2.5 1-2.3 1-1.8 1.1-.8 1-2.7 1-1.5 1-1.3 1.1-1.6 1-2.2 1-2.3 1.1-1.4 1-1.2 1-2.2 1-2.1 1.1-1.3 1-1.6 1-2.1 1.1-.9 1-2.6 1-1.1 1.1-2.2 1-1.8 1-1.5 1-1.5 1.1-1.7 1-2 1-.8 1.1-1.7 1-2 1-1.7 1.1-1.2 1-1.4 1-2 1-1.2 1.1-2.5 1-1.4 1-1.8 1.1-.1 1-1.4 1-1.8 .5-.8 .6-1.8 .5-3.4 .5-8 .5-2.2 .5 5 .5 4.6 .5 .6 .6 .8 .5 .6 .5 .3 .5 0 .5 .6 .5-.1 .5 .4 .6 .1 1.5 .2 1.5 1.4 1.6 1.8 1.5 .6 1.6 .3 1.5 1 1.6 2 1.5 .2 1.6 .9 1.5 1.5 1.5-.4 1.6-.1 1.5 1.6 1.6 .3 1.5 0 1.6 1 1.5 .5 1.6 .1 1.5 1.1 1.5-.3 1.6 1.1 1.5-.1 1.6 0 1.5 .1 1.6 1.3 1.5-.1 1.6 .4 1.5 1.1 1.5-.3 1.6 .2 1.5 .2 1.6-.2 1.5 .9 1.6 .4 1.5 .2 1.6 .3 1.5 0 1.5-.1 1.6 1.2 1.5-.2 1.6 1.1 1.5 0 1.6-.4 1.5 1 1.6-.7 1.5-.1 1.5 1 1.6 .1 1.5 0 1.6 .4 1.5 .1 1.6 .4 1.5-.3 1.6 .4 1.5 .4 1.6 1 1.5-.3 1.5-.1 1.6 0 1.5 .8 1.6-.3 1.5 .2 1.6 .7 1.5-.2 1.6 .5 1.5 .5 1.5-.2 1.6-.3 1.5 .5 1.6 .3 1.5-.2 1.6 .2 1.5 .3 1.6 .8 1.5 .4 1.5-.2 1.6-1.1 1.5 .4 1.6 .9 1.5-.8 1.6 .9 1.5-.5 1.6-.2 1.5 .5 1.5-.3 1.6 .1 1.5 1 1.6-.5 1.5-.1 1.6 .5 1.5 .4 1.6-.8 1.5 .7 1.5 .7 1.6 .5 1.5 .1 1.6 0 1.5 1 1.6 0 1.5 .3 1.6 .3 1.5-.1 1.5-.1 1.6 .2 1.5 .1 1.6-.7 1.5-.2 1.6 .4 1.5 .7 1.6-.1 1.5 .4 1.5 .5 1.6 .1 1.5 0 1.6-.2 1.5 .8 1.6-.6 1.5 .5 1.6-.3 1.5 .2 1.5 .4 1.6 .1 1.5 0 1.6 .1 1.5-.1 1.6-.3 1.5 .5 1.6-.3 1.5 .3 1.5 .5 1.6-.3 1.5 0 1.6 0 1.5 .4 1.6-.4 1.5 .6 1.6-.1 1.5-.2 1.5 .2 1.6 .4 1.5 .2 1.6-.2 1.5 .2 1.6-1 1.5 1.2 1.6 .2 1.5-1.2 1.5 1.4 1.6-.3 1.5-.3 1.6 .2 1.5 0 1.6-.4 1.5-.2 1.6 .9 1.5 0 1.5 .3 1.6 .2 1.5 0 1.6-.1 1.5 .3 1.6-.2 1.5 .4 1.6 .3 1.5-.2 1.5 .1 1.6 .1 1.5 .1 1.6-.2 1.5 .7 1.6-.6 1.5 .6 1.6-.1 1.5-.3 1.5 .2 1.6 1.1 1.5-.7 1.6-.2 1.5 .9 1.6 0 1.5-.5 1.6 1 1.5-.9 1.5 1.3 1.6-.1 1.5 .1 1.6 .2 1.5-.1 1.6 .4 1.5 .4 1.6 .4 1.5 1.1 1.5 .1 1.6-.2 1.5 1.3 1.6-.5" fill="none" stroke="#2d8c4c" stroke-width="2.3" stroke-linejoin="round" />
<path d="M116.2 757.3l1-3.1 1.1-1.2 1-.4 1 .1 1.1-.5 1-.7 1 .1 1.1 0 1-.1 1 .5 1-.6 1.1 1 1-8.2 1 8.1 1.1 .6 1-.3 1-.4 1.1 1 1 .6 1 0 1 0 1.1 .5 1 .3 1 .8 1.1-.4 1 .2 1 0 1.1 .1 1 .4 1 1 1 0 1.1 0 1-.4 1 .4 1.1-.7 1 .4 1-.1 1-.1 1.1 .1 1 .6 1-1.4 1.1 .3 1 0 1 .7 1.1 .4 1-.2 1-.1 1-.8 1.1 0 1-.2 1-.3 1.1 .6 1 0 1 .3 1.1 0 1 .3 1-.2 1 .2 1.1 .1 1 .1 1-4.1 1.1-4.1 1-4.1 1-3.8 1-3.4 1.1-3.6 1-3.4 1-3.3 1.1-3.3 1-3.8 1-4.1 1.1-3.3 1-5.2 1-4 1-4.5 1.1-3.8 1-3.9 1-4.9 1.1-2.9 1-4.1 1-3.1 1.1-3.3 1-3.6 1-2.6 1-2 1.1-3.6 1-3.9 1-3.2 1.1-2 1-2.3 1-2.2 1-3 1.1-1.4 1-2.3 1-2.5 1.1-1.9 1-1.7 1-2.3 1.1-.9 1-1.6 1-1.9 1-1.7 1.1-1.4 1-2.3 1-.5 1.1-1.8 1-1 1-1.6 1.1-1.1 1-1.2 1-2 1-.5 1.1-1.9 1-.4 1-1.2 1.1-1.3 1 .4 1-1.4 .5-1.4 .6-1.3 .5-2.4 .5-8.3 .5-1.5 .5 4.9 .5 5 .5 2.1 .6 .6 .5 .3 .5 1.3 .5 1.2 .5 .4 .5 .6 .5 .3 .6 .4 1.5 2.1 1.5 1.1 1.6 .5 1.5 1 1.6 .7 1.5 1.8 1.6 .6 1.5 .1 1.6 1.6 1.5 .5 1.5 1.1 1.6 1.3 1.5 .2 1.6 1.5 1.5 1.1 1.6 .8 1.5 .7 1.6 1.5 1.5 .5 1.5 .9 1.6 1 1.5-.4 1.6 .5 1.5 .7 1.6 1.6 1.5-.2 1.6 .4 1.5 1 1.5 0 1.6 1.1 1.5 .4 1.6 .4 1.5 .4 1.6 .5 1.5-.2 1.6 1.1 1.5 .3 1.5 .5 1.6-.5 1.5 1.6 1.6-.1 1.5 0 1.6 1.6 1.5 .3 1.6 .3 1.5 .8 1.5-.4 1.6 1 1.5 0 1.6 .7 1.5 .7 1.6 .1 1.5 1 1.6 .1 1.5 1.4 1.6 .3 1.5-.2 1.5 1.6 1.6-.5 1.5 .8 1.6 .4 1.5 .4 1.6-.3 1.5 1.3 1.6-.6 1.5 .5 1.5 .5 1.6 .2 1.5-.1 1.6 .7 1.5 .5 1.6-.4 1.5 .6 1.6 0 1.5 .1 1.5-.1 1.6-.1 1.5 .7 1.6 .3 1.5 0 1.6 .4 1.5 1 1.6-.1 1.5 .5 1.5-.4 1.6 .1 1.5 .7 1.6 .8 1.5-.3 1.6 1 1.5-.1 1.6 .9 1.5 .5 1.5 .4 1.6-.2 1.5 .7 1.6 0 1.5 .9 1.6-.3 1.5 .8 1.6-.4 1.5 .4 1.5 .7 1.6 .2 1.5 .2 1.6 .2 1.5 .5 1.6-.2 1.5 .7 1.6 .8 1.5-.6 1.5 .4 1.6-.1 1.5 .3 1.6 .3 1.5 .3 1.6 .1 1.5 .5 1.6 .4 1.5 0 1.5 0 1.6 .9 1.5-.5 1.6 .4 1.5-.2 1.6 .5 1.5-.2 1.6 .3 1.5-.4 1.5 .7 1.6 .1 1.5 .1 1.6 .8 1.5-.2 1.6-.7 1.5 .5 1.6 .3 1.5-.2 1.5 .5 1.6 .2 1.5 .2 1.6 .6 1.5-.9 1.6 .5 1.5 0 1.6 .2 1.5 .1 1.5 .7 1.6-.8 1.5-.7 1.6 .5 1.5 .5 1.6 .3 1.5-.3 1.6 0 1.5 .3 1.5-.2 1.6 .8 1.5-.5 1.6 .5 1.5 .5 1.6 .1 1.5 0 1.6 .1 1.5 .5 1.5 .1 1.6-.4 1.5 1.7 1.6 .4 1.5-.5 1.6 .7 1.5-.1 1.6 .8 1.5-.3 1.5-.2 1.6 .3 1.5 1.1 1.6-.1 1.5-.2 1.6 0 1.5 1.2 1.6 .2 1.5-.5 1.5 .8 1.6 .4 1.5-.5 1.6 1.2 1.5-.1 1.6-.3 1.5 .8 1.6-.3 1.5 .9 1.5-.4 1.6 .3 1.5-.2 1.6 .9" fill="none" stroke="#27a480" stroke-width="2.3" stroke-linejoin="round" />
<path d="M116.2 756.7l1-.5 1.1-.2 1 .1 1 .6 1.1-.7 1 .1 1 0 1.1 0 1-.1 1-.4 1 1 1.1-.2 1-.6 1 1.1 1.1-.5 1 .4 1-.3 1.1-.1 1 .8 1-.3 1 .2 1.1-.4 1 .2 1-.8 1.1 .8 1-.8 1 .7 1.1-.2 1 .1 1 .1 1 .4 1.1-.5 1 0 1 .1 1.1-.1 1 .5 1-.2 1 .2 1.1 .4 1-.7 1 .4 1.1-.2 1-.8 1 .8 1.1 0 1-.3 1 0 1-.2 1.1 .8 1-.8 1 .7 1.1 .3 1 0 1-.7 1.1 .1 1-.2 1 .4 1-.2 1.1-.1 1 .1 1-9.1 1.1-8.6 1-8 1-6.9 1-7.5 1.1-5.7 1-6.2 1-5.7 1.1-4.9 1-5.1 1-5.8 1.1-4.9 1-5 1-5.5 1-4.6 1.1-4.9 1-3.8 1-4.7 1.1-3.4 1-4 1-3 1.1-4.5 1-2.9 1-3.2 1-2.1 1.1-3.5 1-2.4 1-3.2 1.1-1.5 1-3.2 1-2.6 1-1.6 1.1-2.8 1-1.8 1-2.4 1.1-2.1 1-2.1 1-1.3 1.1-1.3 1-2 1-1.3 1-2 1.1-1 1-2.2 1-1.2 1.1-1.6 1-1.8 1-.9 1.1-1.4 1-1.8 1-1.2 1-1.3 1.1-1.2 1-1.2 1-1.6 1.1-1.5 1 .2 1-2.1 .5-.2 .6-.8 .5-.3 .5-.6 .5 .7 .5 7.2 .5 2.6 .5 .2 .6 .6 .5 1.1 .5 .8 .5 1.7 .5 .1 .5 1.5 .5 1 .6 .8 1.5 3.4 1.5 1.2 1.6 2.2 1.5 1.6 1.6 1.7 1.5 1.5 1.6 .7 1.5 1.6 1.6 1 1.5 1.2 1.5 1 1.6 1.5 1.5 1.4 1.6 .8 1.5 1.7 1.6 1.4 1.5 1.2 1.6 .4 1.5 1.7 1.5 1.3 1.6 1.6 1.5 .8 1.6 .5 1.5 .9 1.6 .5 1.5 1.7 1.6 .4 1.5 .5 1.5 2 1.6-1 1.5 1.9 1.6 .7 1.5-.1 1.6 .8 1.5 .4 1.6 .8 1.5 .7 1.5 .7 1.6 .9 1.5 0 1.6 1.5 1.5-.1 1.6 .2 1.5 1.2 1.6-.2 1.5 .5 1.5 .8 1.6 .6 1.5 .3 1.6 .5 1.5 .8 1.6-.2 1.5 .7 1.6 .7 1.5 .4 1.6 .6 1.5 1.4 1.5-.9 1.6 1.9 1.5-.1 1.6 .9 1.5-.2 1.6 .5 1.5 .5 1.6 1.5 1.5-.9 1.5 .6 1.6 1.2 1.5-.9 1.6 1 1.5 .6 1.6-.1 1.5 .7 1.6 .1 1.5 .6 1.5 .6 1.6 .5 1.5-.4 1.6 .7 1.5 .6 1.6 .4 1.5 .4 1.6-.7 1.5 1 1.5 .5 1.6-.1 1.5 1.2 1.6 .6 1.5 .2 1.6 .2 1.5 .6 1.6 .6 1.5 .3 1.5 .7 1.6 .7 1.5-.1 1.6 .8 1.5 .5 1.6 .2 1.5 .4 1.6 1 1.5 .2 1.5 .6 1.6 .2 1.5-.2 1.6 .5 1.5 .4 1.6 .3 1.5-.7 1.6 .8 1.5-.1 1.5 .2 1.6 .5 1.5-.4 1.6 .3 1.5-.3 1.6 .4 1.5 .8 1.6-.3 1.5 .2 1.5 .2 1.6 .6 1.5 .4 1.6-.4 1.5 0 1.6 .8 1.5-.9 1.6 .6 1.5 .6 1.5-.7 1.6 1.5 1.5 0 1.6 .2 1.5-.6 1.6 .9 1.5-.4 1.6 .4 1.5 .5 1.5-.1 1.6 .6 1.5-.5 1.6 .8 1.5 .1 1.6-.4 1.5 .6 1.6-.7 1.5 .3 1.5 1.2 1.6-.5 1.5 .2 1.6-.6 1.5 1 1.6 .2 1.5 0 1.6 .1 1.5 .4 1.5-.2 1.6 .4 1.5 .3 1.6-.6 1.5 .6 1.6 .7 1.5 .3 1.6-.2 1.5 .5 1.5 .2 1.6-.7 1.5 .6 1.6 .4 1.5-.1 1.6 .4 1.5 0 1.6-.5 1.5 .8 1.5 .4 1.6 .3 1.5-.4 1.6 .4 1.5 0 1.6 .8 1.5-.3 1.6 0 1.5 0 1.5 .3 1.6 .3 1.5-.4 1.6 .7 1.5 .8 1.6-.1 1.5-.3 1.6 .1 1.5 .7 1.5 .1 1.6-.4 1.5 .2 1.6 .1" fill="none" stroke="#1f8bb2" stroke-width="2.3" stroke-linejoin="round" />
<text x="74.3" y="619.5" font-size="23" text-anchor="middle" transform="rotate(-90 74.3 619.5)">Response (RU)</text>
<text x="272.0" y="551.3" font-size="27.5" font-style="italic">K</text>
<text x="289.6" y="560.0" font-size="16.5" font-style="italic">d</text>
<text x="304.0" y="551.3" font-size="27.5">65 (45 - 92) nM</text>
<line x1="610.00" y1="498.15" x2="610.00" y2="756.10" stroke="#000" stroke-width="2.2" stroke-linecap="butt"/>
<line x1="608.90" y1="755.00" x2="1030.35" y2="755.00" stroke="#000" stroke-width="2.2" stroke-linecap="butt"/>
<line x1="603.80" y1="755.00" x2="610.00" y2="755.00" stroke="#000" stroke-width="2.2" stroke-linecap="butt"/>
<text x="602.1" y="760.6" font-size="22.5" text-anchor="end">0</text>
<line x1="603.80" y1="669.75" x2="610.00" y2="669.75" stroke="#000" stroke-width="2.2" stroke-linecap="butt"/>
<text x="602.1" y="675.4" font-size="22.5" text-anchor="end">5</text>
<line x1="603.80" y1="584.50" x2="610.00" y2="584.50" stroke="#000" stroke-width="2.2" stroke-linecap="butt"/>
<text x="599.6" y="590.1" font-size="22.5" text-anchor="end">10</text>
<line x1="603.80" y1="499.25" x2="610.00" y2="499.25" stroke="#000" stroke-width="2.2" stroke-linecap="butt"/>
<text x="599.6" y="504.9" font-size="22.5" text-anchor="end">15</text>
<line x1="609.67" y1="755.00" x2="609.67" y2="761.60" stroke="#000" stroke-width="2.2" stroke-linecap="butt"/>
<text x="615.7" y="783.9" font-size="22.5" text-anchor="middle">-60</text>
<line x1="669.60" y1="755.00" x2="669.60" y2="761.60" stroke="#000" stroke-width="2.2" stroke-linecap="butt"/>
<text x="672.1" y="783.9" font-size="22.5" text-anchor="middle">0</text>
<line x1="729.53" y1="755.00" x2="729.53" y2="761.60" stroke="#000" stroke-width="2.2" stroke-linecap="butt"/>
<text x="733.9" y="783.9" font-size="22.5" text-anchor="middle">60</text>
<line x1="789.46" y1="755.00" x2="789.46" y2="761.60" stroke="#000" stroke-width="2.2" stroke-linecap="butt"/>
<text x="796.5" y="783.9" font-size="22.5" text-anchor="middle">120</text>
<line x1="849.39" y1="755.00" x2="849.39" y2="761.60" stroke="#000" stroke-width="2.2" stroke-linecap="butt"/>
<text x="856.9" y="783.9" font-size="22.5" text-anchor="middle">180</text>
<line x1="909.32" y1="755.00" x2="909.32" y2="761.60" stroke="#000" stroke-width="2.2" stroke-linecap="butt"/>
<text x="915.8" y="783.9" font-size="22.5" text-anchor="middle">240</text>
<line x1="969.25" y1="755.00" x2="969.25" y2="761.60" stroke="#000" stroke-width="2.2" stroke-linecap="butt"/>
<text x="975.2" y="783.9" font-size="22.5" text-anchor="middle">300</text>
<line x1="1029.18" y1="755.00" x2="1029.18" y2="761.60" stroke="#000" stroke-width="2.2" stroke-linecap="butt"/>
<text x="1034.7" y="783.9" font-size="22.5" text-anchor="middle">360</text>
<text x="831.0" y="806.5" font-size="22.5" text-anchor="middle">Time (s)</text>
<text x="571.5" y="474.2" font-size="30.6">FT671 - AktPH</text>
<path d="M611.7 754.1l1 .3 1-.2 1-.5 1-.5 1 .1 1 .2 1 .5 1-.5 1-.1 1-1.1 1 1.6 1-1.4 1 .4 1-.6 1 1.2 .9-.9 1-.5 1 .2 1-.4 1 .2 1 .1 1 .8 1-.5 1 .2 1-.2 1-1.7 1 1.8 1-.4 1 .1 1 0 1 .1 1 1.6 1-1 1 .9 1 .1 1-1.3 1 .7 1 .7 1 .1 1-.7 1 1.1 1-1.7 1 .4 1-.1 1-.2 1 .2 1-.3 1 .9 1-.3 1 .5 1-1.5 1 .8 1-.2 1 .6 1-.2 1-.1 1 .2 1-.1 1.5-1.2 1.5 .8 1.5-.5 1.5 .1 1.5 .3 1.5-.1 1.5-.6 1.5 .4 1.5 .6 1.5-.1 1.5-.1 1.5 .3 1.5-1.2 1.5 .7 1.5-.8 1.5 1.3 1.5 0 1.5-1.5 1.5 2 1.5-.3 1.5 .2 1.5-.3 1.5-.2 1.5-.2 1.5 0 1.5 1 1.5-.2 1.5 1 1.4-.9 1.5 1.2 1.5-1.5 1.5 1.6 1.5-1 1.5 .3 1.5 .6 1.5-1.6 1.5 1.3 1.5-1.5 1.5 1.1 1.5 .7 1.5 .1 1.5 0 1.5-.5 1.5 .4 1.5-.2 1.5 .1 1.5-.6 1.5 .2 1.5-1.8 1.5 1.8 1.5-.4 1.5-.2 1.5 .3 1.5-.3 1.5 .9 1.5-.1 1.5 .2 1.5 .2 1.5-1.2 1.5 .5 1.5 .7 1.5-.5 1.5-.8 1.5 .8 1.5-.4 1.5 0 1.5 .1 1.5 .6 1.5-.2 1.5-.2 1.5-.8 1.5 .6 1.5 .8 1.5-1.4 1.5 .6 1.5-.1 1.5 0 1.5-.8 1.5 .7 1.5 .1 1.5-.6 1.5 .6 1.5 .6 1.5 .3 1.5-.8 1.4-.7 1.5 1.5 1.5 0 1.5 0 1.5-.5 1.5 .2 1.5 .3 1.5 0 1.5-.8 1.5 .8 1.5-.8 1.5 .8 1.5 0 1.5-.6 1.5 .3 1.5 .3 1.5-.9 1.5 .3 1.5-.6 1.5 1.2 1.5-1.2 1.5 .6 1.5-1.1 1.5 1.7 1.5-.2 1.5-.3 1.5 .4 1.5-1 1.5 .2 1.5 .9 1.5-.5 1.5-.5 1.5 .1 1.5 .6 1.5-.6 1.5 .1 1.5 .2 1.5-.3 1.5 .5 1.5-.9 1.5 .7 1.5-.9 1.5 1.5 1.5-.8 1.5-.1 1.5-.1 1.5 .5 1.5-.9 1.5 .5 1.5 .1 1.5-.6 1.5 0 1.5 .3 1.5 .3 1.5 0 1.5-.5 1.5 .3 1.4 .7 1.5-.7 1.5 1 1.5-.6 1.5 0 1.5-.1 1.5 .3 1.5 .2 1.5-1.3 1.5 1.5 1.5-.4 1.5-.6 1.5 .8 1.5-.3 1.5-.7 1.5 .3 1.5 .4 1.5 .1 1.5-.3 1.5-1.4 1.5 1.5 1.5-.3 1.5-.8 1.5 1.2 1.5-.3 1.5-.1 1.5-.2 1.5 .4 1.5-1.3 1.5 .9 1.5-.2 1.5 .4 1.5-.9 1.5 1.7 1.5 .1 1.5-.7 1.5 .4 1.5-.3 1.5 .1 1.5-.1 1.5 .6 1.5-.3 1.5-.2 1.5 .5 1.5-.1 1.5-.2 1.5-.6 1.5 .5 1.5 .4 1.5 0 1.5 0 1.5 0 1.5-.3 1.5 .3 1.5-.1 1.5 .1 1.5 0 1.4 0 1.5 0 1.5-.1 1.5-.6 1.5-.3 1.5 .8 1.5-1.2 1.5 .7 1.5-.7 1.5 1.3 1.5-1 1.5 .2 1.5-.3 1.5-.2 1.5-.4 1.5 .3 1.5 .5 1.5-.4 1.5 .5 1.5-.1 1.5-1.9 1.5 1.2 1.5-.7 1.5 .2 1.5-.2 1.5 1.4 1.5-1.3 1.5-.5 1.5 .2 1.5 .6 1.5-.4 1.5 1 1.5-1.2 1.5 1.3 1.5 .6 1.5-.8 1.5 .6 1.5-.8 1.5 .3 1.5 .4 1.5-.2" fill="none" stroke="#1f8bb2" stroke-width="2.2" stroke-linejoin="round" />
<path d="M611.7 751.9l1 1.3 1 .7 1-.7 1-1.3 1 .7 1 .3 1-.3 1-.1 1-.3 1 .4 1-.6 1 .9 1-.3 1 .3 1-.3 .9-1.1 1 2 1-.1 1-.5 1-.9 1 .5 1 .5 1-.4 1 .7 1-.1 1-.2 1-.6 1 .5 1-.2 1-.6 1 .9 1-.8 1 1.2 1-1.6 1 2 1 .4 1-1.2 1 .3 1-.5 1 0 1 1.3 1-.8 1-1.3 1 1.6 1-1.1 1 .9 1 .3 1 .4 1-.2 1 .5 1-1.6 1 .9 1 .3 1-.8 1 1.1 1-.8 1-.1 1-.6 1.5 .4 1.5-.5 1.5 .8 1.5-.4 1.5-.3 1.5 .5 1.5-.4 1.5 1.9 1.5-1.7 1.5 .1 1.5 .4 1.5-.7 1.5-.5 1.5 .7 1.5-.1 1.5 .7 1.5 .1 1.5-.3 1.5 .6 1.5-.6 1.5-.5 1.5 .5 1.5 0 1.5 .2 1.5-1.1 1.5 .5 1.5-.2 1.5-.2 1.4-.5 1.5 1 1.5-.4 1.5-.9 1.5 .8 1.5-.5 1.5-1.2 1.5 2 1.5-.7 1.5-.3 1.5-.4 1.5 1.5 1.5 .7 1.5-.1 1.5-.5 1.5 .8 1.5-1.9 1.5 1.6 1.5-1.2 1.5 .4 1.5 .3 1.5-.2 1.5 .9 1.5-.5 1.5-.4 1.5 .2 1.5-.2 1.5 .1 1.5-.5 1.5 1.1 1.5-.5 1.5-.4 1.5 .7 1.5 .2 1.5-.7 1.5 0 1.5 .9 1.5 .2 1.5-.6 1.5-.2 1.5 1 1.5 .2 1.5-.6 1.5-1 1.5 1.7 1.5 .2 1.5 .4 1.5-1 1.5 .8 1.5 .3 1.5 0 1.5 0 1.5-.2 1.5-.4 1.5-.5 1.5 .7 1.5-1 1.4 .8 1.5-1.2 1.5 0 1.5-.3 1.5 .8 1.5-.5 1.5-.5 1.5-.8 1.5 .5 1.5-.2 1.5 .3 1.5-.2 1.5 .6 1.5-.6 1.5 .7 1.5 .4 1.5-.6 1.5 .2 1.5 .8 1.5-.6 1.5 1.1 1.5-.8 1.5 1.2 1.5-1.2 1.5 .9 1.5-.7 1.5-.1 1.5 .1 1.5 .8 1.5-.7 1.5-.2 1.5-.4 1.5 .3 1.5 .1 1.5-1 1.5 .7 1.5-.5 1.5 1.7 1.5-.6 1.5-.3 1.5 .3 1.5 0 1.5-.6 1.5-.3 1.5 .9 1.5 .6 1.5 .5 1.5-.2 1.5-1.4 1.5 1.4 1.5 .2 1.5-.3 1.5-.8 1.5 .8 1.5-1.1 1.5 .8 1.5 .2 1.4-.2 1.5-.2 1.5 0 1.5 .2 1.5-1 1.5-.4 1.5 .3 1.5 .3 1.5-.8 1.5 .2 1.5 .2 1.5-.6 1.5-.3 1.5 1 1.5 .1 1.5-1.1 1.5 .6 1.5-1 1.5 .6 1.5 .2 1.5 .5 1.5 .2 1.5-1.1 1.5 .4 1.5 .4 1.5 .1 1.5-.2 1.5 .4 1.5-.3 1.5 .4 1.5-.8 1.5 .5 1.5 .7 1.5 0 1.5-.9 1.5 .4 1.5 .1 1.5 1.1 1.5-.7 1.5 .2 1.5-.5 1.5-.2 1.5-.1 1.5-.1 1.5 1.3 1.5-1.4 1.5 1 1.5-1.3 1.5 0 1.5 1.4 1.5-.8 1.5 .1 1.5 .1 1.5-.4 1.5 .2 1.5 1.4 1.5-1.1 1.4 0 1.5-.4 1.5-.6 1.5 .2 1.5 .4 1.5 .1 1.5-.1 1.5 1.5 1.5-.8 1.5-.9 1.5 .1 1.5-.1 1.5 .3 1.5-.4 1.5 .3 1.5-.1 1.5 .8 1.5-.1 1.5-.4 1.5 .3 1.5-1.4 1.5 .6 1.5 .4 1.5-.8 1.5 .2 1.5 1.2 1.5-.8 1.5-.1 1.5-.1 1.5 0 1.5 1 1.5-.1 1.5-.1 1.5-.7 1.5 .2 1.5 .1 1.5-.1 1.5 1.7 1.5 0 1.5-.3 1.5 .3" fill="none" stroke="#27a480" stroke-width="2.2" stroke-linejoin="round" />
<path d="M611.7 752.7l1 1.4 1 .4 1-.3 1 .6 1-1.3 1 .5 1 .2 1-.2 1 1.1 1 .2 1-.5 1 .1 1 .4 1-.3 1-.5 .9 .8 1 0 1 0 1-.1 1-.2 1 .2 1-.4 1 .5 1 0 1-.2 1 .2 1 0 1 0 1-.2 1 .2 1-.4 1-.5 1 .9 1 0 1-.7 1 .7 1-1.2 1-.8 1 1.5 1 .1 1-.2 1-.2 1 .1 1 .5 1-.7 1 .9 1-.9 1 .2 1-.6 1 .6 1-.2 1 .7 1-.5 1-.3 1-.1 1 .4 1-.7 1 0 1.5 1 1.5 .4 1.5-.2 1.5-.6 1.5 0 1.5 .2 1.5 .1 1.5-.6 1.5 .6 1.5 .5 1.5-.7 1.5-.7 1.5 .9 1.5-.8 1.5 0 1.5 .3 1.5-.3 1.5 .6 1.5-.5 1.5-.8 1.5 .8 1.5 .4 1.5-1.4 1.5 1.4 1.5-1.6 1.5 .7 1.5-.4 1.5 .1 1.4 .1 1.5-.7 1.5 .6 1.5 .3 1.5-.5 1.5 .9 1.5-.8 1.5 .8 1.5-.9 1.5-.3 1.5 0 1.5 1.5 1.5 1 1.5-.8 1.5-.9 1.5 1 1.5-.6 1.5 .6 1.5-1.1 1.5 1.8 1.5-.8 1.5 0 1.5-.5 1.5 .3 1.5-.1 1.5 1.1 1.5-2 1.5 .9 1.5 .4 1.5-1 1.5 1.3 1.5-.8 1.5-.3 1.5 .1 1.5 .3 1.5 .1 1.5 .5 1.5-.6 1.5 .9 1.5-1.1 1.5 .2 1.5 .5 1.5 .6 1.5-.7 1.5 .1 1.5 .6 1.5 0 1.5 0 1.5-.2 1.5 .2 1.5 0 1.5 0 1.5 0 1.5-.8 1.5-.1 1.5 .9 1.5 0 1.4-1 1.5 .1 1.5-.4 1.5 .3 1.5 .3 1.5 .1 1.5-.6 1.5 .4 1.5 .8 1.5-.7 1.5 .7 1.5-1 1.5 .2 1.5 .2 1.5-.2 1.5 .8 1.5-.4 1.5 0 1.5-.4 1.5 .2 1.5-.2 1.5-.1 1.5 .8 1.5-.1 1.5-1.3 1.5 .9 1.5-.4 1.5-.6 1.5 .4 1.5-1.4 1.5 1.4 1.5-.3 1.5 .6 1.5-1.6 1.5 .6 1.5-.6 1.5 0 1.5-1 1.5 1 1.5 .5 1.5 0 1.5-.6 1.5 1.4 1.5-.6 1.5 .5 1.5-.2 1.5-1.1 1.5 1.1 1.5-.1 1.5-.7 1.5 1.3 1.5-.8 1.5 .7 1.5-.6 1.5 .4 1.5-.7 1.5 .7 1.4-.2 1.5-.4 1.5 .9 1.5-.7 1.5 .4 1.5 0 1.5 .9 1.5-.4 1.5 0 1.5-.3 1.5-.2 1.5 .1 1.5 .1 1.5 .5 1.5 0 1.5-.6 1.5 .8 1.5-.5 1.5-.2 1.5-.4 1.5-.1 1.5 .8 1.5-.9 1.5 1.3 1.5-.7 1.5-.8 1.5 .7 1.5-.4 1.5-1 1.5 1.4 1.5 0 1.5 1.1 1.5-1.2 1.5-.5 1.5 .6 1.5 .1 1.5-1.4 1.5 1.5 1.5 0 1.5 .1 1.5 .6 1.5-.9 1.5-.3 1.5 .2 1.5 .1 1.5 .8 1.5-.1 1.5-1.6 1.5 2.1 1.5 0 1.5-.6 1.5 .6 1.5 0 1.5 0 1.5 0 1.5-.5 1.5-.5 1.4 .3 1.5-.3 1.5 .6 1.5 .4 1.5-.2 1.5 .2 1.5-.7 1.5-.1 1.5 .5 1.5-.2 1.5-.4 1.5-.3 1.5 1 1.5-.8 1.5 .8 1.5-.6 1.5 .8 1.5 0 1.5-.3 1.5 .3 1.5 0 1.5 0 1.5 0 1.5 0 1.5 0 1.5 0 1.5 0 1.5 0 1.5 0 1.5-.2 1.5 .2 1.5-1 1.5 1 1.5-.3 1.5-.3 1.5 0 1.5 .4 1.5-.2 1.5-1 1.5-.4 1.5-1" fill="none" stroke="#c9d13d" stroke-width="2.2" stroke-linejoin="round" />
<path d="M611.7 752.9l1 0 1-.5 1-.2 1 1.4 1-1.5 1 .8 1 1 1 .1 1-.3 1 .3 1 .6 1 .3 1-1.3 1 1 1-1.3 .9-.3 1 1.4 1-.9 1 1 1-1.3 1 .7 1 1.3 1-.6 1-.2 1-.4 1-.6 1 1.7 1-1 1-1.7 1 1.7 1 .1 1-.6 1 .7 1-1.2 1 .2 1-.5 1-.2 1-.5 1 1.2 1-.5 1 1.1 1-1.5 1 .4 1-.1 1 .4 1-.1 1-.6 1 .7 1 0 1 .2 1 0 1-.3 1 .8 1 0 1 .3 1-.1 1-.1 1-.3 1.5 0 1.5-.4 1.5 .8 1.5 .1 1.5-.8 1.5 .6 1.5-.3 1.5 .8 1.5-.5 1.5-1.5 1.5 .8 1.5 .2 1.5-.2 1.5 .6 1.5-.2 1.5-.4 1.5-.5 1.5 1.4 1.5-2.3 1.5 1.6 1.5-.3 1.5 1.1 1.5-.6 1.5-.7 1.5-.2 1.5 .9 1.5 .1 1.5-.2 1.4-1.3 1.5 1 1.5-.8 1.5 .4 1.5-.7 1.5 .5 1.5 .6 1.5 .1 1.5-1 1.5 .4 1.5-.1 1.5-.1 1.5 .5 1.5-.2 1.5 .6 1.5 .2 1.5 0 1.5-.3 1.5-1 1.5 .5 1.5 .2 1.5 .5 1.5-.5 1.5-.9 1.5 .3 1.5 .5 1.5 .1 1.5-.4 1.5 .3 1.5-.4 1.5 0 1.5-.1 1.5 .8 1.5 .3 1.5-1.4 1.5 1.4 1.5-.1 1.5-.4 1.5-.4 1.5 .3 1.5-.7 1.5 1.1 1.5-.1 1.5-.3 1.5-.7 1.5 0 1.5 .4 1.5-.7 1.5 .2 1.5 .2 1.5 .3 1.5-.5 1.5 .4 1.5-.2 1.5 .4 1.5-.1 1.5-.2 1.4 .2 1.5-.4 1.5 .2 1.5 .2 1.5-.5 1.5 1.1 1.5-1.2 1.5 1.5 1.5-1.4 1.5 0 1.5-.1 1.5 .6 1.5-.1 1.5 0 1.5 .4 1.5-.1 1.5-.2 1.5 .4 1.5 .2 1.5-.1 1.5 0 1.5-.5 1.5 1.1 1.5-.1 1.5-.7 1.5 .7 1.5 .2 1.5-.5 1.5-.2 1.5-.3 1.5 1.1 1.5-.3 1.5-.2 1.5-.1 1.5-.2 1.5 .2 1.5 .3 1.5 .5 1.5-.4 1.5-1 1.5 .1 1.5 .5 1.5 .8 1.5-.2 1.5-.6 1.5 1.3 1.5-.3 1.5-.6 1.5 1.2 1.5-1.3 1.5 .6 1.5-1.3 1.5 1.1 1.5-.4 1.5 .1 1.5-.6 1.5 .8 1.4-.3 1.5 .5 1.5 .5 1.5-.8 1.5-.1 1.5 .3 1.5 .1 1.5-.6 1.5 .1 1.5 .1 1.5-1.4 1.5 1.4 1.5-.6 1.5 1.2 1.5-1.3 1.5 1.1 1.5 .3 1.5 0 1.5-.1 1.5 .4 1.5 .3 1.5-.4 1.5 .5 1.5-.4 1.5 0 1.5 .4 1.5-.6 1.5 .2 1.5 0 1.5 .4 1.5 .2 1.5-1.9 1.5 .9 1.5 .4 1.5-.4 1.5 .2 1.5 .1 1.5 .7 1.5-.1 1.5-1 1.5-.3 1.5-.2 1.5 1.2 1.5-1.3 1.5-1 1.5 .8 1.5-.2 1.5 0 1.5 1 1.5-1.5 1.5-.2 1.5 .4 1.5 .3 1.5-.2 1.5-.3 1.5-.4 1.5 .5 1.4-.1 1.5 .1 1.5 .3 1.5 .2 1.5-.6 1.5 .3 1.5-.2 1.5-1.1 1.5 .8 1.5 1 1.5-.9 1.5 .2 1.5-1 1.5 .7 1.5-.4 1.5 .3 1.5 .1 1.5 1.2 1.5-1.4 1.5-.5 1.5 1.2 1.5-1.1 1.5 1.6 1.5-.8 1.5-.1 1.5-.4 1.5 .1 1.5 .7 1.5-1.2 1.5 1.7 1.5-.3 1.5 0 1.5 .9 1.5-.5 1.5-.5 1.5-.9 1.5 .3 1.5 .9 1.5-.2 1.5 1.7 1.5-1.4" fill="none" stroke="#d83b2d" stroke-width="2.2" stroke-linejoin="round" />
<path d="M611.7 753.3l1 .4 1-1.1 1 .6 1 .5 1 .4 1 0 1-.6 1 1.1 1-1.1 1 .7 1-.2 1-.3 1-.8 1 .3 1-.7 .9 .4 1 .9 1-.6 1 .5 1-1.6 1 1.6 1-.7 1 .7 1-.7 1-.6 1 .3 1-.1 1-.2 1 .9 1 0 1-.1 1-.4 1 .4 1 .5 1-1.1 1 .5 1-.9 1 .6 1 .4 1-1.2 1-.2 1 .6 1 .2 1 .5 1-1.5 1 1.4 1-.9 1-.7 1 1.1 1 1 1-1.4 1 .2 1-.6 1 1.5 1-.9 1 1.4 1-1 1-2.7 1.5 .2 1.5 .8 1.5 .2 1.5-.2 1.5 .3 1.5-.2 1.5 0 1.5 .6 1.5-.3 1.5-.5 1.5 .9 1.5-1.1 1.5-.1 1.5 .9 1.5-.5 1.5 .2 1.5 1 1.5-1.5 1.5 .2 1.5 .9 1.5-.3 1.5 .2 1.5-.9 1.5 .9 1.5-.6 1.5 .4 1.5 1.1 1.5-1.3 1.4 .7 1.5-.5 1.5-.5 1.5 .7 1.5 .4 1.5-.2 1.5 .3 1.5-.7 1.5-.2 1.5 2 1.5-1 1.5-1.9 1.5-.9 1.5 .6 1.5-.8 1.5 0 1.5 1.2 1.5-.5 1.5-.2 1.5 .6 1.5-.2 1.5 .3 1.5-.8 1.5 .6 1.5-.7 1.5 .1 1.5 .4 1.5 0 1.5 .7 1.5-1 1.5 .6 1.5 .7 1.5 .5 1.5-.2 1.5 .3 1.5-1 1.5 .7 1.5 .7 1.5-.3 1.5 .2 1.5-.8 1.5-.6 1.5-.2 1.5 .1 1.5-.4 1.5-.7 1.5 .3 1.5 .2 1.5 .9 1.5-.8 1.5-.3 1.5-.9 1.5 1.4 1.5-.6 1.5 .7 1.5 .3 1.5-1.4 1.4 1.1 1.5-.8 1.5 .5 1.5 .9 1.5-1.5 1.5 .7 1.5 1 1.5-2 1.5-.7 1.5 1.5 1.5-.2 1.5 .1 1.5 .5 1.5-.8 1.5 1.2 1.5-.5 1.5-1.3 1.5 .6 1.5 .3 1.5-.2 1.5 .4 1.5 .4 1.5-.2 1.5 .6 1.5 .4 1.5-1.1 1.5 .6 1.5-.7 1.5-.4 1.5 .5 1.5 0 1.5 .5 1.5-.1 1.5-.1 1.5 0 1.5-.5 1.5 .7 1.5-1.1 1.5 .8 1.5-.4 1.5-.2 1.5 .4 1.5-.4 1.5 .7 1.5-1 1.5-.1 1.5 .2 1.5 .5 1.5-.9 1.5 1.3 1.5-.6 1.5-.1 1.5-.5 1.5 1 1.5-.2 1.5 .1 1.5 .6 1.4 0 1.5-1.2 1.5 .3 1.5 .3 1.5-.5 1.5 .3 1.5 .5 1.5 .2 1.5-.8 1.5 1 1.5-1 1.5 0 1.5-.8 1.5 0 1.5 1.1 1.5-.2 1.5-.9 1.5 .8 1.5 1 1.5-.2 1.5-.7 1.5 .6 1.5-.1 1.5-.4 1.5 .1 1.5-.5 1.5-.5 1.5 .9 1.5-.3 1.5 .6 1.5-.8 1.5 .9 1.5-.9 1.5-.5 1.5 .6 1.5 .2 1.5-.4 1.5 .1 1.5 .6 1.5-.6 1.5-1.1 1.5 .5 1.5 .3 1.5 .4 1.5-.4 1.5 .9 1.5-1.6 1.5 .4 1.5 .8 1.5-.3 1.5 .7 1.5 .2 1.5-.4 1.5-.5 1.5 .1 1.5 .2 1.5 .4 1.4-.8 1.5-.8 1.5 1.4 1.5-.1 1.5 .2 1.5-.1 1.5 .8 1.5-1.2 1.5 .9 1.5 .3 1.5-.9 1.5-.6 1.5 .7 1.5 1 1.5-1.2 1.5-.3 1.5 .8 1.5-.9 1.5 .5 1.5-.5 1.5-.1 1.5 .8 1.5-.1 1.5-.2 1.5-.2 1.5 .8 1.5-.2 1.5-.6 1.5-.2 1.5 1.6 1.5-1 1.5-.6 1.5-.3 1.5 1.7 1.5 0 1.5-.2 1.5-.3 1.5 .1 1.5 .3 1.5 .3 1.5 .1" fill="none" stroke="#e3ad78" stroke-width="2.2" stroke-linejoin="round" />
<path d="M611.7 754.5l1-1.1 1 0 1 .7 1 .1 1 .2 1-.3 1-.2 1 .5 1-.7 1 .6 1-.3 1 1.3 1-1.9 1 1.2 1-.6 .9 .9 1-1.6 1 1.3 1 .7 1-.4 1-.5 1 .6 1-1 1 .4 1 .9 1-.3 1-.3 1-.4 1-.1 1 .3 1 .2 1-.4 1-.8 1 .6 1 .2 1-.3 1-1.1 1 .6 1 1.3 1-1.7 1 .1 1 .4 1 .4 1-.6 1 1.7 1-2 1 .8 1-.2 1-.7 1 .5 1 .4 1 .4 1-.9 1 .8 1-.4 1 .4 1-.7 1-.7 1.5-1 1.5 1.6 1.5-.7 1.5 .6 1.5-.5 1.5-.3 1.5 .6 1.5-1 1.5 .3 1.5-.1 1.5 .5 1.5-.1 1.5-.2 1.5 0 1.5 .8 1.5-.2 1.5-1 1.5 .6 1.5-.6 1.5 .2 1.5-.4 1.5 .5 1.5 .4 1.5-.8 1.5 0 1.5 .5 1.5 .1 1.5-.8 1.4 1.3 1.5-.5 1.5-.1 1.5 .1 1.5-.2 1.5-.1 1.5 .7 1.5-.1 1.5-.6 1.5 0 1.5 .2 1.5-.5 1.5-.5 1.5 0 1.5-.5 1.5 .6 1.5-.2 1.5-.7 1.5-.3 1.5 1.1 1.5-.2 1.5-.6 1.5 1.7 1.5-1.5 1.5 .1 1.5-.2 1.5 .6 1.5-.6 1.5 .4 1.5 .2 1.5-1.3 1.5 0 1.5 .6 1.5-.5 1.5 1.2 1.5-1.3 1.5-.5 1.5 .5 1.5 .6 1.5 .5 1.5 .1 1.5 .6 1.5-.1 1.5-.4 1.5 .4 1.5 .7 1.5-.2 1.5-.8 1.5 .7 1.5 .2 1.5 0 1.5 .3 1.5 0 1.5 .2 1.5-1.9 1.5 .9 1.5 .4 1.4-.9 1.5-1 1.5 1.1 1.5 0 1.5-.3 1.5-1.1 1.5-.1 1.5-.7 1.5 1.1 1.5 0 1.5 0 1.5-.1 1.5-.3 1.5 .7 1.5 .9 1.5-.4 1.5 .5 1.5-.6 1.5-.1 1.5 .6 1.5-.6 1.5 .1 1.5 .9 1.5 .2 1.5-1.6 1.5 .8 1.5-.9 1.5 1.1 1.5 .3 1.5-.6 1.5 .6 1.5-.1 1.5-.1 1.5-1 1.5 1.1 1.5-1.3 1.5 1.3 1.5-.2 1.5-.5 1.5-.4 1.5 1.2 1.5-.1 1.5 .1 1.5-.7 1.5 1.2 1.5-.1 1.5-1.4 1.5 .4 1.5 .8 1.5 .3 1.5 .1 1.5 .3 1.5 .2 1.5-.3 1.5-.8 1.5-.1 1.5-.6 1.4 .7 1.5 .3 1.5-1 1.5-.5 1.5 1.4 1.5-1.1 1.5-.7 1.5 .6 1.5 .8 1.5-1.7 1.5 1.9 1.5-.9 1.5-.8 1.5 1 1.5-1.4 1.5 .8 1.5 .5 1.5 .8 1.5-1.2 1.5 .5 1.5-.7 1.5 1.6 1.5-1.5 1.5 .5 1.5 .6 1.5-.7 1.5 .5 1.5 .6 1.5-.8 1.5-.9 1.5 2.1 1.5-1.2 1.5 0 1.5 .2 1.5-.8 1.5 .7 1.5-.5 1.5 .5 1.5-.3 1.5-.1 1.5 .6 1.5 .2 1.5-.4 1.5-.3 1.5 .6 1.5 .1 1.5-.7 1.5 0 1.5 1.1 1.5-.5 1.5-.1 1.5-.3 1.5 .9 1.5 .4 1.5-1.2 1.5 .4 1.5-.2 1.4-.2 1.5-.3 1.5 0 1.5 .4 1.5-.8 1.5 .3 1.5-1 1.5 .6 1.5-.1 1.5 .3 1.5-.2 1.5-.7 1.5 .1 1.5-.2 1.5 .6 1.5-.4 1.5 1 1.5-1 1.5 .5 1.5 .2 1.5 1.2 1.5-2 1.5 1.9 1.5-.4 1.5-.3 1.5 1.1 1.5-1.2 1.5 0 1.5 0 1.5 1.1 1.5-1.4 1.5-.3 1.5 .5 1.5-.3 1.5 .7 1.5-.3 1.5 1.9 1.5-1.6 1.5-.5 1.5 1 1.5-1.6" fill="none" stroke="#f2c797" stroke-width="2.2" stroke-linejoin="round" />
<path d="M611.7 754.3l1 .4 1-.7 1 .4 1 .4 1 .2 1 .3 1 0 1-.5 1-.6 1 .9 1 .2 1-.3 1-.5 1-.1 1-.8 .9 1.5 1-.7 1 .3 1 .5 1-1 1 .7 1 .1 1-.4 1 .6 1-.6 1-.1 1 .2 1 .6 1-.2 1-1.2 1 1.1 1 .2 1-.9 1 0 1 .6 1 .3 1 .1 1 0 1 0 1-.9 1 .3 1 0 1-.2 1-.1 1-.5 1 .5 1-.4 1-.2 1 .8 1-.5 1-.1 1 .1 1-.9 1 .6 1 .4 1 0 1 .1 1-2.5 1.5 .1 1.5-.2 1.5-.7 1.5 .5 1.5 .9 1.5-.9 1.5 .4 1.5 .6 1.5 0 1.5-1 1.5 .3 1.5 .6 1.5-.4 1.5-.2 1.5 .8 1.5-.2 1.5 1 1.5-.8 1.5 .4 1.5-.8 1.5 .5 1.5-.8 1.5 1 1.5-.1 1.5-.3 1.5-.4 1.5-.1 1.5 .2 1.4 .6 1.5-.9 1.5-.3 1.5 .6 1.5 1.1 1.5-1.8 1.5 .5 1.5-.1 1.5 .8 1.5-.2 1.5-.4 1.5 .1 1.5-.7 1.5 0 1.5-.7 1.5 .4 1.5 .4 1.5-.2 1.5-.4 1.5 .4 1.5 1.4 1.5-1 1.5 0 1.5-.4 1.5 .3 1.5 .3 1.5-.6 1.5 .4 1.5 .4 1.5 0 1.5-.2 1.5 1 1.5-.4 1.5 .6 1.5-.1 1.5-.2 1.5-.7 1.5-.3 1.5-.2 1.5 .1 1.5 .4 1.5 .3 1.5-1.5 1.5 .8 1.5-.6 1.5 .8 1.5-1.5 1.5 1.8 1.5-.3 1.5-.8 1.5-1 1.5 .8 1.5-.3 1.5 .5 1.5-1.2 1.5 .4 1.5 0 1.4 .9 1.5-.7 1.5 .5 1.5-.2 1.5 .5 1.5 .6 1.5-.3 1.5-.4 1.5 .4 1.5-.4 1.5-.4 1.5 .6 1.5-.2 1.5 .2 1.5-.6 1.5-.8 1.5 .9 1.5 1 1.5-1 1.5 .4 1.5-.1 1.5 .4 1.5-1 1.5 1.3 1.5-.2 1.5-1.1 1.5 .5 1.5-.3 1.5 .4 1.5 .5 1.5-.5 1.5-.1 1.5 0 1.5-.1 1.5 .4 1.5-.1 1.5-.4 1.5-.3 1.5-.5 1.5 1.6 1.5-.3 1.5-.4 1.5-.2 1.5-.4 1.5-.3 1.5 .8 1.5 .1 1.5 .1 1.5 .3 1.5-.9 1.5 .1 1.5 0 1.5-.8 1.5 .4 1.5 1.3 1.5-.9 1.5-.1 1.4 0 1.5-.6 1.5 .3 1.5 .6 1.5-.4 1.5 .1 1.5-.5 1.5 .6 1.5-.1 1.5-2 1.5 1.6 1.5 .7 1.5-1 1.5 .3 1.5-.1 1.5 1 1.5 .3 1.5-1.5 1.5 1.2 1.5 1.4 1.5-1.1 1.5-.8 1.5 0 1.5 1 1.5 .2 1.5-.8 1.5 .9 1.5-.3 1.5-.6 1.5 .1 1.5 .6 1.5-.6 1.5-.2 1.5 .9 1.5-.2 1.5-1 1.5 1.4 1.5-.5 1.5-.7 1.5 .5 1.5-.4 1.5 .2 1.5 .3 1.5-1.3 1.5 .2 1.5 .3 1.5 .9 1.5-.4 1.5-1.5 1.5 .5 1.5 .2 1.5 0 1.5-.5 1.5 .1 1.5 .3 1.5-.9 1.5 .7 1.4-.4 1.5 2 1.5-.9 1.5-1.2 1.5 1.6 1.5-.2 1.5 .5 1.5-.1 1.5 .1 1.5 .8 1.5-1.2 1.5-.6 1.5 0 1.5 .8 1.5 .1 1.5-.5 1.5 .7 1.5-1.1 1.5 1.7 1.5-.9 1.5 0 1.5-.2 1.5 1 1.5-.2 1.5-.7 1.5 1 1.5-1.7 1.5 .2 1.5 .4 1.5 1.3 1.5-1.4 1.5 .5 1.5 .2 1.5 .2 1.5-.3 1.5-.7 1.5 1 1.5-1.6 1.5 1.5 1.5 .7 1.5-1.7" fill="none" stroke="#808285" stroke-width="2.2" stroke-linejoin="round" />
<path d="M611.7 753.9l1 1 1-1 1 .4 1 0 1-.9 1 .7 1-.9 1 .6 1-1.6 1 .4 1 .2 1 .1 1 .5 1-.5 1 .9 .9-.6 1 1 1-1.5 1 .6 1 .1 1 0 1-1.1 1 0 1 .6 1-.8 1 .3 1 .9 1-.3 1-.3 1 1.1 1-.5 1-.3 1 .9 1-.4 1-.1 1 0 1-.3 1 .1 1-.2 1 .5 1 .4 1 .1 1 .1 1-.9 1 1.2 1-.9 1-.1 1-.1 1-.2 1 .3 1 .6 1 .3 1-.3 1-.4 1-.6 1 0 1 .2 1-.9 1.5 .8 1.5 1 1.5-.4 1.5-.9 1.5 .5 1.5 0 1.5 .5 1.5-.4 1.5-.3 1.5 .2 1.5-.5 1.5-.3 1.5 .2 1.5-.3 1.5 .4 1.5-1 1.5 .6 1.5 .4 1.5-.2 1.5 .1 1.5-.3 1.5-.3 1.5-.6 1.5 1 1.5 .1 1.5-1.2 1.5 1 1.5 .3 1.4-1.3 1.5 2 1.5-1.3 1.5-.4 1.5 0 1.5-.2 1.5 .4 1.5 .2 1.5 1 1.5-1.6 1.5 .7 1.5 .5 1.5 .7 1.5 .7 1.5-.9 1.5 1 1.5-.2 1.5 .4 1.5 .9 1.5-1.1 1.5-.5 1.5 .8 1.5 .1 1.5-1.7 1.5 1 1.5 .3 1.5-.6 1.5 0 1.5 .5 1.5-.4 1.5-.6 1.5 .6 1.5 .7 1.5-.7 1.5-.3 1.5 .6 1.5-.2 1.5 .2 1.5-.2 1.5 1.2 1.5-.6 1.5 .9 1.5-1.2 1.5 1.1 1.5-.7 1.5 .6 1.5-1.4 1.5 .7 1.5 .5 1.5-.2 1.5 .5 1.5-.3 1.5-.8 1.5-.2 1.5 .2 1.5 .3 1.5 .1 1.4 .2 1.5-.7 1.5 .7 1.5 .3 1.5-.5 1.5 .4 1.5-1 1.5 0 1.5 1.2 1.5-.3 1.5-.1 1.5-.2 1.5 .5 1.5-.3 1.5-.9 1.5 .2 1.5 0 1.5-.3 1.5 .6 1.5-.8 1.5 .5 1.5-1.5 1.5 1.1 1.5 1.2 1.5-1.7 1.5 1.7 1.5-1.9 1.5 .8 1.5 .4 1.5-.8 1.5-.2 1.5 .5 1.5 0 1.5 .9 1.5-.6 1.5-.3 1.5-.4 1.5 0 1.5 .5 1.5-.5 1.5 1 1.5 .5 1.5-.9 1.5-.3 1.5 .9 1.5-.8 1.5-.1 1.5 1.1 1.5-1 1.5-.1 1.5 .6 1.5 .1 1.5 .2 1.5 .1 1.5-.5 1.5 .5 1.5 .2 1.4-.2 1.5 .2 1.5-1.3 1.5 .1 1.5 .6 1.5 .9 1.5-.8 1.5-.3 1.5 0 1.5 0 1.5 0 1.5 .8 1.5 .1 1.5-1 1.5 .5 1.5-1.1 1.5-.3 1.5 0 1.5-.2 1.5 1.5 1.5-1 1.5-1.2 1.5 .8 1.5 .4 1.5-1.1 1.5 .1 1.5-.2 1.5 .6 1.5-.1 1.5-.7 1.5 1.8 1.5-1.2 1.5 .1 1.5-.5 1.5 1.2 1.5-.7 1.5-.2 1.5-.5 1.5 .9 1.5-.8 1.5 .1 1.5-.2 1.5 .8 1.5 .9 1.5-.6 1.5-.1 1.5 .1 1.5 0 1.5-.4 1.5 .5 1.5-.3 1.5 .7 1.5 .3 1.5 .1 1.5-.5 1.5 .5 1.5-.8 1.4-.1 1.5 .6 1.5-.2 1.5 .1 1.5-.4 1.5-.9 1.5 1.8 1.5-.7 1.5-.9 1.5 .1 1.5-.6 1.5 1.5 1.5 0 1.5 .3 1.5-.2 1.5-.1 1.5 1 1.5 .1 1.5-1.2 1.5 .8 1.5-.5 1.5 .6 1.5-1.3 1.5 1.2 1.5 .2 1.5-.7 1.5 .6 1.5-.9 1.5 1.3 1.5-.8 1.5 .9 1.5-.9 1.5-.8 1.5 1.3 1.5-.7 1.5 1 1.5-1.3 1.5-.2 1.5 .9 1.5-.6 1.5 .4" fill="none" stroke="#2d8c4c" stroke-width="2.2" stroke-linejoin="round" />
<path d="M611.7 753.2l1 .7 1 0 1-1 1 .7 1 .1 1-.6 1 1.3 1-1 1 .5 1-1.2 1 .8 1 .6 1-1.6 1 .6 1 0 .9 1.2 1-.1 1-1.1 1 0 1 .9 1-.9 1 .6 1-.5 1-.6 1 1.9 1 0 1-.5 1-.4 1-.1 1 .4 1-.7 1 .8 1-.3 1-.9 1 .6 1-.1 1 .8 1-1.6 1 .2 1 1.1 1-.5 1 .5 1-.2 1-1.1 1 .4 1-.7 1 .7 1-.3 1 .6 1-.2 1-.6 1 .6 1-.6 1 .2 1 .4 1-.5 1 .4 1-2.5 1.5 1.2 1.5 .1 1.5-.2 1.5 .2 1.5 0 1.5-.7 1.5 .2 1.5-.1 1.5-.1 1.5 1.1 1.5 .6 1.5-1.6 1.5-.1 1.5 1.1 1.5-.1 1.5-.9 1.5-.1 1.5 .7 1.5-.3 1.5 .2 1.5 .4 1.5-1.5 1.5 1.1 1.5 .8 1.5 .2 1.5-.8 1.5 .1 1.5 .4 1.4 .5 1.5-.4 1.5-.4 1.5 1.3 1.5-.2 1.5-.3 1.5 1.1 1.5-.9 1.5 .3 1.5-.4 1.5-.1 1.5 .3 1.5 .3 1.5-.1 1.5 0 1.5 0 1.5-.6 1.5 .4 1.5 .1 1.5-.9 1.5 .8 1.5-.2 1.5 .7 1.5 .1 1.5-1.5 1.5 .3 1.5 .6 1.5-.5 1.5 .6 1.5 0 1.5-.8 1.5-.2 1.5 1 1.5-1 1.5 .1 1.5 .4 1.5-.1 1.5 .4 1.5-.8 1.5 .6 1.5-.3 1.5-.2 1.5 .7 1.5 .3 1.5 0 1.5-.4 1.5 .1 1.5-.8 1.5 .4 1.5 1.6 1.5-1.7 1.5 .6 1.5-.4 1.5 1 1.5-.7 1.5-.5 1.5-.1 1.4 .8 1.5-.6 1.5-.6 1.5-.5 1.5 .3 1.5 .7 1.5-.6 1.5-.5 1.5 .9 1.5-.2 1.5-.2 1.5-.7 1.5 1.5 1.5 .4 1.5-1 1.5 .9 1.5-1.4 1.5 .1 1.5 1.6 1.5-1.1 1.5 0 1.5-.1 1.5-.7 1.5 .9 1.5-.1 1.5 .9 1.5 .4 1.5-.8 1.5 .3 1.5-.7 1.5-.1 1.5 0 1.5 .1 1.5 .7 1.5-.3 1.5-.8 1.5 1.7 1.5-.5 1.5 .4 1.5-.8 1.5 .3 1.5-.3 1.5 .2 1.5 .3 1.5-.3 1.5 0 1.5-.1 1.5 0 1.5-.3 1.5 .3 1.5-.5 1.5 .3 1.5 .1 1.5 .3 1.5 .9 1.5-.1 1.5-.4 1.4-.5 1.5 .3 1.5-.7 1.5-.1 1.5 .6 1.5-.8 1.5 1 1.5 1 1.5-1 1.5-.5 1.5 .7 1.5-.4 1.5-.6 1.5 .9 1.5-1.1 1.5 1.6 1.5-.7 1.5 .3 1.5 .3 1.5-.2 1.5-.3 1.5 .2 1.5 .1 1.5-.3 1.5-.5 1.5 0 1.5 .2 1.5 .8 1.5-.8 1.5-.6 1.5-.3 1.5 .8 1.5 0 1.5 0 1.5-.3 1.5 .8 1.5-.9 1.5 .4 1.5-.3 1.5-.7 1.5 1.4 1.5-1.1 1.5 1.5 1.5-1.3 1.5 .1 1.5 .7 1.5-.2 1.5 1 1.5-.3 1.5-.7 1.5-.6 1.5 .2 1.5 .5 1.5 .6 1.5-.6 1.5 .7 1.5-.9 1.4 .2 1.5-.3 1.5 0 1.5 .3 1.5-.3 1.5-.9 1.5 1.3 1.5-1.1 1.5-.4 1.5 1.3 1.5-1.3 1.5 .8 1.5 .5 1.5-.8 1.5-.3 1.5 .7 1.5 .3 1.5 .6 1.5-1.2 1.5 .4 1.5 .6 1.5 .3 1.5-.3 1.5-.3 1.5 .9 1.5-.5 1.5-.6 1.5 1.3 1.5-.1 1.5-.7 1.5 .3 1.5-.4 1.5-.4 1.5-1.3 1.5 1.5 1.5-.4 1.5-1.1 1.5 .3 1.5 .6 1.5-1.3 1.5 1.8" fill="none" stroke="#808285" stroke-width="2.2" stroke-linejoin="round" />
<path d="M681.6 755l1.5-.7 1.5-.4 1.5-.1 1.5-1.3 1.5-.7 1.5-.4 1.5 0 1.5-.8 1.5 .4 1.5-.7 1.5-.5 1.5-.2 1.5-.1 1.5-.2 1.5-.4 1.5-.2 1.5 .2 1.5-1.2 1.5 .1 1.5-.1 1.4 .1 1.5-.1 1.5 0 1.5 0 1.5-.2 1.5-.7 1.5 .7 1.5-.3 1.5 .6 1.5-.2 1.5-.3 1.5 .1 1.5 .1 1.5-1.1 1.5 .2 1.5 .4 1.5-.2 1.5 .3 1.5-.5 1.5 0 1.5 .1 1.5-.4 1.5-.1 1.5 .5 1.5-.1 1.5 .1 1.5-.2 1.5-.1 1.5 .1 1.5 .3 1.5-.4 1.5 .6 1.5 .2 1.5-.1 1.5-.5 1.5 .1 1.5 .1 1.5-.2 1.5 .6 1.5-.9 1.5 .3 1.5 .5 1.5-.9 1.5-.7 1.5 .9 1.5-.1 1.5 .9 1.5-.8 1.5-.2 1.5 .8 1.5-.7 1.5 .6 1.5-.6 1.5 .3 1.5-1 1.5 .9 1.5 .3 1.4-.5 1.5 0 1.5 .7 1.5-.3 1.5-.4 1.5 .1 1.5-.2 1.5 .3 1.5-.1 1.5 .3 1.5-.4 1.5 .4 1.5-.6 1.5 .5 1.5 .7 1.5-.8 1.5-.6 1.5 .5 1.5-.6 1.5 .1 1.5 .4 1.5 0 1.5-.5 1.5 .4 1.5 .3 1.5-.1 1.5-1 1.5 .5 1.5 0 1.5-1.1 1.5 .9 1.5-1 1.5 .7 1.5 .3 1.5-.2 1.5-.5 1.5 .5 1.5-.2 1.5 0 1.5-.1 1.5-.2 1.5 0 1.5-.6 1.5 .9 1.5 .1 1.5-.1 1.5 .5 1.5-.7 1.5 .4 1.5 .1 1.5-.2 1.5 .9 1.5-.6 1.5 .8 1.5-.1 1.5-.8 1.5 .4 1.4 .1 1.5 .5 1.5-.4 1.5-.3 1.5 0 1.5 .2 1.5-.1 1.5-.6 1.5 .1 1.5 .1 1.5-.4 1.5 0 1.5 .3 1.5-.4 1.5 .1 1.5 0 1.5 .4 1.5-.7 1.5 .1 1.5-.1 1.5 .3 1.5 0 1.5-.2 1.5-.1 1.5 .4 1.5-.6 1.5 .8 1.5-.7 1.5-.4 1.5 .9 1.5 .4 1.5 .4 1.5-.5 1.5 .5 1.5-.5 1.5 .4 1.5-.2 1.5 .8 1.5-.8 1.5 .1 1.5 .4 1.5 .1 1.5-.3 1.5 .6 1.5-.4 1.5-.1 1.5 .1 1.5 .2 1.5-.7 1.5 .8 1.5-.6 1.5-.5 1.5 .5 1.5 0 1.5-.5 1.5-.3 1.5 .6 1.4 .5 1.5-1.1 1.5 .8 1.5 .2 1.5-.6 1.5-.1 1.5 .4 1.5 .9 1.5-.8 1.5-.4 1.5 .1 1.5-.1 1.5 .7 1.5-1.4 1.5 .9 1.5 .1 1.5 0 1.5-.3 1.5 .2 1.5-.3 1.5 .4 1.5-.4 1.5 .2 1.5 .4 1.5-.2 1.5 .1 1.5-.4 1.5 .6 1.5-.2 1.5 .4 1.5-.4 1.5 .6 1.5-1.1 1.5 .1 1.5 .7 1.5-.3 1.5 0 1.5 .5 1.5-.5 1.5 .6 1.5-.5" fill="none" stroke="#e0762c" stroke-width="2.3" stroke-linejoin="round" />
<path d="M673.6 754.9l.5-.8 .5-1.3 .5 2.1 .5-2.3 .5 .3 .5 .5 .5-1.2 .5 .5 .5-.7 .5 1.7 .5-2.7 .5 .5 .5-.2 .5 .1 .5-.3 .5 0 .5-.2 .5-.4 .5 .9 .5-1.3 .5-.2 .5 0 .5 .8 .5 .1 .5 .3 .5-.4 .5 .2 .5-.3 .5-.2 .5 .4 .5-.2 .5-.7 .5-1.7 .5 1.3 .5-2 .5 .9 .5 .2 .5-.5 .5-1.4 .5 1.9 .5-.2 .5-.1 .5 1.1 .5-1 .5 1 .5-.2 .5-1.7 .5 .6 .5 1.6 .5-.9 .5 .4 .5 1.6 .5-2.5 .5 1.6 .5-.6 .5 .3 .5 0 .5 .8 .5-.2 .5-.5 .5-1.7 .5 1.2 .5-.4 .5 .9 .5-1.6 .5 1 .5 .5 .5 .3 .5-.8 .5 1.1 .5-.2 .5-.6 .5-.4 .5-.2 .5 2.4 .5-.9 .5-.4 .4 .7 .5-1.5 .5 1 .5 .3 .5-.8 .5 .2 .5 .2 .5-.4 .5 1.1 .5-.4 .5-.9 .5 .4 .5 .1 .5-1.2 .5-.7 .5 1.4 .5-1.3 .5 .8 .5 .1 .5-.8 .5 .3 .5 .2 .5-.1 .5 1.4 .5-1.5 .5-.6 .5 .8 .5-.3 .5 0 .5 1.4 .5-1.4 .5-.3 .5 .5 .5-.7 .5 .2 .5 1.7 .5-.7 .5 1.3 .5 1.4 .5 .5 .5-.3 .5 .2 .5 1.3 .5-.1 .5-.6 .5-.7" fill="none" stroke="#8f2a8f" stroke-width="2.4" stroke-linejoin="round" />
<path d="M673.6 752.2l.5-.3 .5-.8 .5-.1 .5 .7 .5-.9 .5 .3 .5-.4 .5 1 .5-1.1 .5 .5 .5-.3 .5-1 .5 1.2 .5-1 .5 .2 .5-.8 .5-.1 .5-.2 .5 .2 .5-.4 .5-.6 .5-.6 .5 .6 .5-.4 .5-.4 .5 .6 .5-2 .5 1.6 .5-.6 .5-1.3 .5 1.1 .5-.4 .5 .4 .5-1 .5 .7 .5-1 .5 1.2 .5 .9 .5-2.1 .5-.2 .5 1.5 .5-2.3 .5 1.6 .5 0 .5-1.1 .5 .6 .5 .6 .5-1 .5 1.5 .5 .4 .5-1.3 .5 .6 .5 0 .5 .2 .5 .4 .5 .7 .5-1.2 .5 .2 .5-.9 .5 1.2 .5-.7 .5 .1 .5 .5 .5-2.2 .5 0 .5 2 .5-1 .5 .3 .5-.5 .5 1.8 .5-.9 .5-.7 .5-.7 .5 .3 .5 .7 .5 0 .5-.6 .4 .5 .5 .3 .5-.7 .5 2.1 .5-2.1 .5 .5 .5 1.3 .5-.6 .5-.2 .5 1 .5-.9 .5 1.3 .5-.3 .5-.3 .5-.8 .5 1.3 .5 .6 .5-.2 .5-.7 .5 1 .5-.3 .5 .5 .5-.3 .5-.8 .5 1.2 .5-1.4 .5-1.3 .5 1.6 .5-.4 .5 .8 .5-1.5 .5 .5 .5-1.2 .5 0 .5-1.3 .5 .4 .5 2.4 .5 .7 .5 1.6 .5-.4 .5-.1 .5 .3 .5 1.4 .5 .5 .5 .4 .5-2.7" fill="none" stroke="#8f2a8f" stroke-width="2.4" stroke-linejoin="round" />
<path d="M673.6 750.8l.5-.1 .5-1 .5-1.1 .5 1.3 .5 .3 .5-1.4 .5-.4 .5 1 .5-1.8 .5-.1 .5 .4 .5 .9 .5-1.4 .5 .2 .5 .4 .5 .4 .5-.7 .5-.5 .5-.5 .5 .6 .5-.5 .5-.3 .5 .9 .5-1.8 .5 2.2 .5 .2 .5-1.8 .5-.1 .5 .3 .5 1.1 .5-1.5 .5 .5 .5-1.3 .5 .1 .5 .2 .5 .5 .5-.3 .5 .2 .5-1 .5-1.4 .5 .9 .5 0 .5 .5 .5 .3 .5-2 .5 1.8 .5-1 .5 .3 .5 .1 .5 1.3 .5-.3 .5-1.6 .5 .4 .5 1.8 .5-1.5 .5 .3 .5 0 .5-.2 .5 .2 .5 .8 .5-.7 .5 .3 .5-.8 .5-.4 .5 .7 .5-.3 .5 0 .5-.1 .5 1 .5-.5 .5 .3 .5 .5 .5-1.2 .5 .4 .5 .3 .5 .1 .5-.7 .4-.9 .5 1.4 .5-.9 .5 1.6 .5 .2 .5-1.2 .5-1.2 .5 .4 .5 .1 .5-.1 .5 .6 .5 .5 .5-1.4 .5 .2 .5 .9 .5 .4 .5-.4 .5-.4 .5 0 .5 .7 .5-.7 .5 .3 .5 .5 .5-1.4 .5 1.3 .5 .2 .5-.4 .5-.1 .5-.4 .5-.4 .5 1.6 .5-2.5 .5 .9 .5-.6 .5 1.2 .5 .1 .5 1.6 .5 1.8 .5 2.2 .5-.5 .5 0 .5-.1 .5 .4 .5 1.2 .5 .4 .5 1.1" fill="none" stroke="#8f2a8f" stroke-width="2.6" stroke-linejoin="round" />
<path d="M617.7 753.6l2-.6 .5-5.7 1.5 6" fill="none" stroke="#d83b2d" stroke-width="1.5" stroke-linejoin="round" />
<line x1="1151.25" y1="498.15" x2="1151.25" y2="756.10" stroke="#000" stroke-width="2.2" stroke-linecap="butt"/>
<line x1="1150.15" y1="755.00" x2="1572.10" y2="755.00" stroke="#000" stroke-width="2.2" stroke-linecap="butt"/>
<line x1="1145.05" y1="755.00" x2="1151.25" y2="755.00" stroke="#000" stroke-width="2.2" stroke-linecap="butt"/>
<text x="1141.8" y="760.6" font-size="22.5" text-anchor="end">0</text>
<line x1="1145.05" y1="691.05" x2="1151.25" y2="691.05" stroke="#000" stroke-width="2.2" stroke-linecap="butt"/>
<text x="1141.8" y="696.6" font-size="22.5" text-anchor="end">5</text>
<line x1="1145.05" y1="627.10" x2="1151.25" y2="627.10" stroke="#000" stroke-width="2.2" stroke-linecap="butt"/>
<text x="1141.8" y="632.7" font-size="22.5" text-anchor="end">10</text>
<line x1="1145.05" y1="563.15" x2="1151.25" y2="563.15" stroke="#000" stroke-width="2.2" stroke-linecap="butt"/>
<text x="1141.8" y="568.8" font-size="22.5" text-anchor="end">15</text>
<line x1="1145.05" y1="499.20" x2="1151.25" y2="499.20" stroke="#000" stroke-width="2.2" stroke-linecap="butt"/>
<text x="1141.8" y="504.8" font-size="22.5" text-anchor="end">20</text>
<line x1="1151.32" y1="755.00" x2="1151.32" y2="761.60" stroke="#000" stroke-width="2.2" stroke-linecap="butt"/>
<text x="1157.3" y="783.9" font-size="22.5" text-anchor="middle">-60</text>
<line x1="1211.25" y1="755.00" x2="1211.25" y2="761.60" stroke="#000" stroke-width="2.2" stroke-linecap="butt"/>
<text x="1213.8" y="783.9" font-size="22.5" text-anchor="middle">0</text>
<line x1="1271.18" y1="755.00" x2="1271.18" y2="761.60" stroke="#000" stroke-width="2.2" stroke-linecap="butt"/>
<text x="1275.6" y="783.9" font-size="22.5" text-anchor="middle">60</text>
<line x1="1331.11" y1="755.00" x2="1331.11" y2="761.60" stroke="#000" stroke-width="2.2" stroke-linecap="butt"/>
<text x="1338.1" y="783.9" font-size="22.5" text-anchor="middle">120</text>
<line x1="1391.04" y1="755.00" x2="1391.04" y2="761.60" stroke="#000" stroke-width="2.2" stroke-linecap="butt"/>
<text x="1398.5" y="783.9" font-size="22.5" text-anchor="middle">180</text>
<line x1="1450.97" y1="755.00" x2="1450.97" y2="761.60" stroke="#000" stroke-width="2.2" stroke-linecap="butt"/>
<text x="1457.5" y="783.9" font-size="22.5" text-anchor="middle">240</text>
<line x1="1510.90" y1="755.00" x2="1510.90" y2="761.60" stroke="#000" stroke-width="2.2" stroke-linecap="butt"/>
<text x="1516.9" y="783.9" font-size="22.5" text-anchor="middle">300</text>
<line x1="1570.83" y1="755.00" x2="1570.83" y2="761.60" stroke="#000" stroke-width="2.2" stroke-linecap="butt"/>
<text x="1576.3" y="783.9" font-size="22.5" text-anchor="middle">360</text>
<text x="1372.0" y="807.0" font-size="22.5" text-anchor="middle">Time (s)</text>
<text x="1102.6" y="474.2" font-size="30.6">FT827 - USP7</text>
<text x="1297.0" y="484.0" font-size="17.5">CD</text>
<line x1="1231.23" y1="753.72" x2="1450.97" y2="754.36" stroke="#231f20" stroke-width="1.3" stroke-linecap="butt"/>
<path d="M1151.3 752.4l1.5 .5 1.5-.1 1.5 .1 1.5 .2 1.5 .4 1.5 .2 1.5 0 1.5-.2 1.5 .2 1.5 .2 1.5 .1 1.5-.4 1.5 .3 1.5-.2 1.5 .2 1.5 .7 1.5-.6 1.5 0 1.5 .1 1.5 0 1.5 .2 1.5 .3 1.5 .4 1.5-.9 1.5 0 1.5 .3 1.5 0 1.5 0 1.5 0 1.5-.3 1.5 .8 1.5-.3 1.5 .4 1.5-.4 1.5 .2 1.5-.6 1.5 .5 1.5 .3 1.5-.2 1.4-.1 .4 0 .4-.5 .4 .6 .4-.8 .4-.1 .4 .2 .4-.3 .4-.2 .4-.3 .4 .5 .4-.8 .4 .4 .4-.7 .4 .5 .4-1.1 .4 0 .4-.1 .4-.3 .4 0 .4-.4 .4 .1 .4 .1 .4 0 .4-.9 .4 .6 1-.8 1-.4 1 .2 1-.2 1 .1 1-.2 1-1.1 1 .4 1-.4 1-.1 1-.4 1-.3 1-.2 1 .1 1-.1 1-.9 1 .4 1-.7 1 .2 1-.6 1 .9 1-.6 1-.3 1-.4 1 .2 1 .1 1-.7 1 0 1-.1 1-.2 1 .7 1-.8 1 .4 1-.3 1 .1 1-.8 1 .3 1-.2 1 .4 1-.1 1-.3 1 .5 1-1 1 .6 1 .1 1-.4 1 .2 1 .3 .5-.3 .5 .1 .5-.7 .5-1.3 .5-.8 .5 .3 .5 .6 .5 1.6 .5 1.2 .5 1.3 .5-.2 .5-.5 .5 .6 .5 .3 .5-.5 .5 .9 .5-.2 .5 .1 .5 .4 .5 0 .5-.4 .5 .3 .5 .2 .5-.4 .5 .8 .5-.3 .5 .6 .5-.4 .5-.5 .5 0 .5 .1 .5 .5 .5 0 .5-.2 1 .7 1-.4 1 0 1 .2 1 .3 1-.1 1 .3 1-.3 1 0 1 .1 .9 .5 1 0 1 0 1 .3 1-.1 1 .5 1-.3 1-.1 1 .1 1 0 1-.2 1 .4 1 .2 1-.3 1 .2 1 .1 1 0 1 .1 1 0 1 .1 1 .4 1-.4 1-.4 1 .4 1 .3 1-.4 1 0 1-.3 1 1.1 1-.4 1 0 1-.1 1 .3 1-1.3 1 .4 1 .4 1 .3 1-.3 1 .6 1 .1 1-.7 1 .3 1 0 1-.2 1-.4 1 .3 1 .1 1-.2 1 .5 1-.5 1 .1 1 0 1-.2 1 .2 1 .2 2 0 2-.1 2-.4 2 1 2-.5 2 .6 2 0 2-.2 2-.3 2 .6 2 0 2-.4 2 .7 2-1.1 2 .7 1.9 .1 2-.6 2 .8 2-.2 2 0 2 0 2-.2 2 .1 2-.6 2 .1 2 .3 2-.1 2 .1 2 .6 2-.2 2-.3 2 .8 2-.8 2 .8 2-.3 2 .5 2-.2 2-.1 2 0 2 .2 2 .3 2 0 2-.3 2 .1 2 .1 2 .4 2-.4 2 .3 2 .4 2-.3 2-.5 2 .6 2-.5 2 .3 2-.1 2 .1 2 .1 2-.6 1.9 1 2 0 2-.4 2-.2 2 .3 2 .2 2-.5 2 .2 2-.3 2 0 2 .2 2 .1 2 .3 2-.5 2 .5 2-.1 2 .4 2-.9 2 .5 2 0 2-.1 2-.5 2 .2 2 .1 2-.2 2 0 2 .5 2-.3 2-.2 2 .6 2-.5 2 .3 2 .5 2-.3 2-.2 2-.4 2 .5 2 .1 2-.4 2 .2 2 .2 2-.1 2-.2 1.9 .3 2 0 2 0 2-.3 2 .6 2-.6 2 .3 2-.4 2 .3" fill="none" stroke="#e3b07a" stroke-width="2.2" stroke-linejoin="round" />
<path d="M1151.3 751.6l1.5 1 1.5 .4 1.5 .1 1.5-.1 1.5 .8 1.5-.5 1.5 .5 1.5 0 1.5 .4 1.5 0 1.5 .1 1.5 .7 1.5-.8 1.5 .3 1.5 .3 1.5-.7 1.5 .5 1.5-.1 1.5 .5 1.5-.4 1.5 .3 1.5 .1 1.5-.3 1.5 .1 1.5 .2 1.5-.3 1.5-.1 1.5-.4 1.5 0 1.5 .7 1.5-.6 1.5 .7 1.5-.5 1.5-.5 1.5 .2 1.5 .5 1.5-.8 1.5 .3 1.5 .1 1.4-.1 .4-.3 .4 .2 .4-.4 .4 .3 .4-.4 .4-.2 .4-.2 .4-.1 .4 .2 .4-.7 .4 0 .4 .4 .4-.1 .4-.7 .4 .1 .4-.5 .4-.2 .4 .3 .4 .3 .4-.7 .4-.1 .4-.1 .4 .3 .4-.3 .4-.5 1-.3 1-.4 1 .8 1-.5 1-.5 1 .3 1-.7 1-.4 1-.1 1-.2 1-.5 1-.5 1-.2 1 .1 1-.7 1 .2 1-.4 1-.1 1-.6 1-.2 1 .5 1-.5 1-.3 1 0 1-.9 1-.2 1 .1 1-.8 1 .4 1 0 1-.9 1 .3 1-.4 1 .3 1 .2 1-.4 1-.1 1 .2 1-.7 1 1.2 1-1 1-.1 1 .1 1-.2 1-.4 1 .4 1 .2 1-.3 .5-.9 .5 .1 .5 1 .5-5.9 .5-4.8 .5 1.7 .5 5.2 .5 3.9 .5-.7 .5 1.2 .5 0 .5 .6 .5-.2 .5 .2 .5 .6 .5 0 .5 .4 .5-.8 .5 .4 .5 .8 .5 .1 .5-.2 .5 .6 .5-.7 .5 .8 .5-.4 .5 .3 .5-.4 .5 .1 .5 .3 .5 .3 .5 .2 .5-.6 .5 .3 1 0 1 .4 1 .5 1-.3 1 .1 1 .2 1 .5 1 0 1 .2 1-.4 .9 .2 1 .3 1-.4 1 .5 1-.8 1 .7 1-.3 1 .8 1-.2 1-.4 1 .8 1-.1 1-.4 1 .4 1-.3 1 0 1 .3 1 .4 1-.7 1 .1 1 .5 1-.2 1 .1 1 .3 1 .2 1 .3 1-1.2 1 .4 1 .3 1-.2 1 0 1-.7 1 1 1-.3 1 .3 1 .2 1-.3 1-.4 1 .5 1 .1 1-.1 1 .2 1 .5 1-.6 1 .5 1-.6 1 .1 1-.3 1 .5 1-.7 1 .6 1 .1 1 0 1-.2 1-.7 2 .4 2 .4 2-.5 2 .3 2 .6 2 .2 2-.3 2-.3 2 0 2 .3 2 .3 2-.3 2 .3 2-1 2 1 1.9 0 2-.8 2 .9 2-.1 2 .2 2-.4 2 0 2 .2 2 .8 2 .3 2-1.3 2 1.1 2 0 2-.7 2 .2 2 .3 2 0 2-.3 2-.1 2 .5 2-.5 2 .7 2 .3 2-.6 2-.6 2 .5 2 0 2 .5 2-.9 2 .5 2 .2 2-.3 2 .5 2-.6 2 .2 2-.3 2 .7 2-.8 2 .6 2-.2 2-.1 2 0 2-.2 1.9 .6 2-.4 2 .1 2 0 2 0 2 .2 2-.2 2 .1 2 .3 2 .3 2-.3 2-.4 2 .4 2-.5 2 .1 2-.2 2 1 2-.8 2 .7 2-.6 2 .2 2 .1 2-.3 2 .2 2-.2 2 0 2 .5 2-1.1 2 1 2-.3 2-.1 2-.2 2 .5 2-1.4 2 .4 2 .4 2-.1 2-.3 2 0 2 .1 2 .2 2-.1 2 .4 1.9 .3 2-1 2 .8 2 .3 2-.1 2 .1 2 .7 2-.4 2 .8" fill="none" stroke="#e8782c" stroke-width="2.2" stroke-linejoin="round" />
<path d="M1151.3 752.3l1.5 .5 1.5 .7 1.5-.4 1.5 .2 1.5-.5 1.5 .3 1.5 .4 1.5-.5 1.5 .4 1.5 .4 1.5 1 1.5-.3 1.5-.3 1.5 .5 1.5-.7 1.5 .5 1.5-.1 1.5 .3 1.5-.7 1.5 .9 1.5-.4 1.5-.3 1.5 .2 1.5 .6 1.5-.4 1.5 .4 1.5-.6 1.5 .5 1.5 .1 1.5-.2 1.5-.2 1.5 .3 1.5 .1 1.5-.2 1.5-.1 1.5 .2 1.5-.5 1.5 .6 1.5-.1 1.4 .1 .4-.1 .4-.6 .4 .6 .4-.7 .4-.2 .4 0 .4 .5 .4-.3 .4-.4 .4-.8 .4 .1 .4 .1 .4 0 .4-.2 .4 .1 .4-.8 .4-.1 .4 0 .4-.6 .4 0 .4 .1 .4 .1 .4-.6 .4 0 .4-.7 1 .1 1 .1 1-1 1-.1 1-.3 1-1 1 .4 1-.7 1-.2 1-.4 1-.7 1-.5 1 0 1-.5 1 .1 1-.1 1-.2 1-1.1 1 .1 1-.1 1-.2 1-.6 1 0 1-.1 1-.1 1 .2 1-1 1 0 1 .1 1-.4 1 .1 1-.3 1 0 1-.1 1-.1 1-.2 1-.1 1 0 1-.2 1 .5 1-.2 1 .1 1-.6 1 .3 1 .1 1 .1 1-.7 1-.1 .5 .6 .5-.5 .5-.2 .5-1.6 .5-2.7 .5 1.1 .5 1.4 .5 1.2 .5 1.2 .5 .4 .5 .5 .5 .5 .5 .1 .5 .1 .5 .2 .5 .3 .5 .1 .5 0 .5 .1 .5-.2 .5 0 .5 .8 .5 .2 .5-.2 .5 .6 .5-.8 .5 .3 .5-.4 .5 .6 .5 0 .5 .3 .5-.2 .5 0 .5 .9 1-.5 1-.1 1 .1 1 .6 1-.2 1-.1 1 .2 1 .3 1-.7 1 .7 .9 0 1-.2 1 .4 1-.1 1 .3 1 .1 1-.3 1 .9 1-.4 1-.3 1 .4 1 .2 1-.1 1 .4 1-.4 1 .5 1 0 1-.2 1 0 1 .1 1 .1 1 0 1 0 1-.1 1 .1 1 .1 1 .4 1-.2 1-.3 1 .6 1 0 1 .1 1-.6 1 .2 1 0 1 .7 1-.6 1 .5 1-.7 1 .5 1-.4 1 .2 1 .6 1-.3 1 0 1 .2 1-.2 1 .3 1-.4 1 .3 1 0 1-.2 1 0 1-.1 1 .4 2 .1 2 .1 2-1 2 .5 2 .4 2-.5 2 .7 2 .2 2-.6 2-.1 2 .6 2-.8 2 .6 2 .4 2-.1 1.9-.2 2-.2 2 .2 2 .5 2 .2 2-.6 2 .2 2 0 2 .4 2 .2 2-.6 2-.1 2 .4 2-.2 2-.3 2-.6 2 .7 2 .3 2-.6 2 .2 2-.3 2-.5 2 .2 2 .3 2-.3 2 .4 2-.6 2 .6 2-.6 2 .8 2 .7 2 0 2 .2 2-.4 2-.1 2 .1 2-.2 2 .1 2 .6 2-.1 2-.4 2 .3 2-.1 1.9-.2 2 .3 2-.3 2-.6 2 .2 2 .4 2-.1 2-.5 2 0 2-.5 2 .6 2 .1 2 .3 2-.6 2 1 2-.7 2-.3 2 .8 2-.1 2 0 2 .1 2 .6 2-.5 2-.6 2 .2 2 .1 2 .2 2-.1 2 .3 2 .2 2 0 2-.3 2 .2 2 .4 2 .2 2-.7 2 .5 2-.3 2 .3 2 .4 2-.4 2 .3 2-.5 1.9 .3 2-.5 2 .3 2 .2 2-.1 2-.2 2 0 2 .1 2 0" fill="none" stroke="#e8d43a" stroke-width="2.2" stroke-linejoin="round" />
<path d="M1151.3 751.9l1.5 .2 1.5 .5 1.5-.1 1.5 .6 1.5-.6 1.5 1.1 1.5 .2 1.5 .2 1.5-.3 1.5 .6 1.5-.6 1.5 .7 1.5-.4 1.5-.3 1.5 1 1.5 .3 1.5-.6 1.5 0 1.5 .3 1.5 0 1.5-.3 1.5 .6 1.5-.2 1.5-.6 1.5 .8 1.5-.2 1.5 0 1.5-.3 1.5 .5 1.5-.1 1.5-.4 1.5-.2 1.5 .7 1.5-.4 1.5 .2 1.5-.2 1.5-.3 1.5 .7 1.5 0 1.4-.1 .4 .1 .4 0 .4-.7 .4-.5 .4 0 .4 0 .4-.4 .4-.4 .4-.1 .4 .4 .4-.2 .4-1 .4 .7 .4-1.1 .4-.1 .4 .3 .4-.5 .4-.3 .4 .1 .4-.1 .4-.6 .4-.2 .4-.3 .4 .5 .4-.6 1-.4 1-.8 1 0 1-.2 1-.9 1 .2 1-.7 1-.6 1-.9 1 .5 1-.7 1-.4 1 .1 1-1.1 1 0 1-.5 1-.5 1 .2 1-.3 1-1.1 1 .3 1-.6 1-.4 1 .2 1 .2 1-1.1 1 .4 1 0 1-.5 1-.3 1-.1 1 .2 1-.6 1 .4 1-.4 1 .1 1 .1 1-.5 1 0 1 .3 1 0 1-.3 1-.3 1-.1 1 .5 1-.4 1-.2 1 .6 .5-.4 .5 .3 .5-.5 .5-2.5 .5-2.1 .5 .5 .5 1.7 .5 2.3 .5 1.2 .5 .4 .5 1.1 .5-.9 .5 .9 .5 .2 .5 .5 .5-.6 .5 1.6 .5-1.1 .5-.1 .5 .5 .5 .1 .5-.5 .5 1.1 .5-.6 .5 .7 .5-.2 .5-.4 .5 .7 .5-.3 .5 .5 .5-.2 .5-.2 .5 .1 .5 .4 1 0 1 0 1 .3 1 .3 1-.8 1 .7 1 .5 1-1.2 1 .9 1 .5 .9-.1 1 .4 1-.4 1 .1 1 1 1 0 1-.3 1 .4 1-.1 1 .1 1-.4 1 .1 1 .3 1 .7 1-.2 1 .2 1-.1 1 .1 1 .1 1-.2 1 .2 1 .4 1-.4 1 .2 1 0 1 0 1 .3 1-.4 1 .5 1-.9 1 .5 1 0 1 .6 1-.4 1 .5 1-.1 1-.4 1-.3 1 .4 1-.1 1 .5 1 .4 1-1.3 1 1 1-.2 1-.2 1 .7 1-.1 1-.6 1 .4 1-.3 1-.3 1 .2 1 .1 1-.2 2 .7 2-.5 2-.9 2 .3 2 .5 2 .4 2-.4 2-.4 2 .5 2-.9 2 .9 2-.2 2 0 2-.2 2 .3 1.9-.9 2 1.4 2-.7 2 .1 2 .7 2-.3 2 .3 2 0 2-.3 2-.4 2 .7 2-.4 2 .3 2 .4 2-.4 2-.1 2-.8 2 .7 2 .1 2-.2 2-.2 2 .3 2-.2 2 1 2-.6 2 .1 2-.3 2-.1 2-.1 2 .1 2-.1 2 .2 2-.4 2 .3 2 .4 2-.8 2 .4 2-.4 2 .3 2 .1 2 .1 2 .4 2-.7 1.9-.4 2 .9 2-.2 2 .2 2 .3 2 .1 2-.6 2 .1 2 .5 2-.5 2 .5 2 .1 2 0 2-.6 2 .4 2 .3 2-.4 2 .1 2 .4 2 .5 2-.2 2 0 2-.4 2 .1 2-.2 2 .5 2-.1 2-1 2 .5 2-.4 2 .5 2 .1 2 .1 2-.3 2-.7 2 .9 2 0 2-.1 2 .5 2-.3 2 0 2-.2 2-.1 1.9-.1 2 .5 2-.2 2 .2 2 .4 2 .4 2-.7 2 .4 2 0" fill="none" stroke="#9dc93c" stroke-width="2.2" stroke-linejoin="round" />
<path d="M1151.3 752.3l1.5 .1 1.5 .2 1.5 .2 1.5 .4 1.5 .2 1.5-.1 1.5 .3 1.5-.3 1.5 .4 1.5 .3 1.5 0 1.5-.3 1.5 .2 1.5 .7 1.5-.2 1.5-.6 1.5 .5 1.5 .7 1.5-.4 1.5-.3 1.5-.3 1.5 .2 1.5 .8 1.5-.4 1.5-.2 1.5-.2 1.5 .6 1.5 .1 1.5-.6 1.5-.5 1.5 .9 1.5-.3 1.5 .2 1.5-.2 1.5 .5 1.5-.1 1.5 .2 1.5-.6 1.5-.6 1.4 .7 .4-.2 .4-.1 .4-.1 .4-1.3 .4 .3 .4-.1 .4-.6 .4 .8 .4-.7 .4-.6 .4-.5 .4 0 .4-.3 .4-.1 .4 .2 .4-.4 .4-.1 .4-.4 .4 .1 .4-.8 .4 .2 .4-.5 .4-.4 .4-.7 .4 .4 1 0 1-1.9 1-.3 1-.3 1-.2 1-.8 1-1 1-1 1-.2 1-.6 1-.1 1-.1 1-.2 1-1.2 1 .6 1-1.1 1-.9 1-.1 1 .4 1-1.1 1 .5 1-.1 1-.7 1-.3 1-1.2 1 .5 1 .2 1 0 1-.5 1-.5 1 .2 1-.3 1-.1 1-.7 1 .5 1-.6 1 .5 1-.3 1-.8 1 .4 1-.1 1 .1 1 .3 1-.5 1 .5 1-1 1 0 1 .1 .5-.1 .5 0 .5-.3 .5-6.5 .5-6.7 .5 3.8 .5 5 .5 3.2 .5 2.1 .5 1.9 .5-.7 .5 .3 .5 .6 .5 .7 .5-.2 .5 .2 .5 .4 .5 .2 .5 .2 .5-.1 .5 .1 .5 .6 .5 .3 .5 0 .5 0 .5 .2 .5 .2 .5-.1 .5-.1 .5 .6 .5 0 .5-.6 .5 .3 .5-.1 1 .7 1 .2 1-1.2 1 1.1 1 .1 1-.2 1 .7 1 .4 1-.4 1 .1 .9 .2 1 .2 1 .7 1 0 1-.2 1 .1 1 .3 1-.3 1 .2 1 .2 1 0 1 .3 1 .3 1 .1 1-.2 1 .4 1-.2 1-.1 1 .2 1-.4 1 .6 1 .8 1-.2 1 0 1-.7 1 .6 1-.2 1 .4 1 .3 1-.1 1-.5 1-.1 1 .8 1-.2 1 .3 1-.4 1 .3 1 .5 1-.6 1 .5 1 .2 1-.1 1-.2 1 .4 1-.1 1 .7 1-.9 1 .4 1-.3 1 0 1 .8 1-.6 1 .1 1 .2 1-.3 2 .4 2 .3 2-.6 2-.2 2 .6 2-.1 2-.5 2 .7 2 .1 2-.6 2 0 2 0 2 .2 2 .4 2 1 1.9-1.4 2 0 2 .4 2 0 2 .1 2-.4 2-.1 2 1.1 2-.8 2-.1 2 .5 2-1 2 .5 2 0 2 .4 2 0 2-.2 2 0 2 .3 2 0 2 .1 2 .1 2-.4 2 .1 2-.2 2 .3 2 0 2 .1 2 .1 2-.8 2 .3 2 .2 2 0 2-.5 2-.4 2 .1 2 .3 2-.3 2 .4 2 .5 2-.4 2 .1 2 .6 1.9-.8 2 .1 2 .5 2 .2 2 .2 2-.3 2-.1 2 .1 2 .2 2 0 2-.3 2 .1 2-.1 2 .2 2-.4 2 .2 2 .4 2-.7 2 .3 2-.2 2-.1 2 .9 2 0 2-1.2 2 .8 2 .2 2 .4 2-.3 2 .2 2-.2 2 0 2 .4 2-.1 2 .1 2 .2 2-.3 2 0 2-.7 2 .4 2 .1 2 .2 2-.4 2 .2 1.9 .1 2 .5 2-.6 2-.5 2 .4 2-.5 2 .3 2-.5 2 .2" fill="none" stroke="#2c9a4a" stroke-width="2.2" stroke-linejoin="round" />
<path d="M1151.3 751.8l1.5 1.1 1.5-.4 1.5 .5 1.5 .1 1.5 .8 1.5 .1 1.5-.3 1.5-.2 1.5 .5 1.5 .1 1.5-.1 1.5 .2 1.5 .1 1.5 0 1.5 .2 1.5 .1 1.5 .1 1.5-.2 1.5 .3 1.5-.6 1.5 .4 1.5 .4 1.5-.9 1.5 .7 1.5 .2 1.5 0 1.5-.2 1.5 .2 1.5-.4 1.5 .4 1.5-.3 1.5 .3 1.5-.5 1.5 .2 1.5 .2 1.5 0 1.5-.1 1.5-.1 1.5 .3 1.4 0 .4-.5 .4-.5 .4-.4 .4 .3 .4-.9 .4 .1 .4-.7 .4 0 .4-.8 .4 .1 .4-.3 .4 .2 .4-.5 .4-.5 .4-.1 .4 .3 .4-.5 .4 .2 .4 0 .4-.7 .4-.3 .4 .3 .4 .3 .4-1 .4 .4 1-.2 1-.5 1 .1 1 .3 1-.5 1-.4 1-.4 1 .2 1-.1 1-.1 1-.1 1-.4 1-.2 1 .2 1-.5 1 .3 1-.7 1 .7 1 .1 1-.5 1-.8 1 .4 1-.6 1 .6 1-.1 1-.1 1-.4 1-.2 1-.3 1 .8 1-.9 1 .6 1-.1 1 .1 1 .2 1-.7 1 .4 1-.2 1 .1 1 .6 1-.9 1 .4 1-.2 1-.1 1 .3 1-.1 1-.1 1-.4 .5 .3 .5 .2 .5-.1 .5-2.8 .5 2.8 .5 2.6 .5 1.3 .5 .8 .5 .1 .5-.2 .5 .2 .5-.4 .5 .8 .5-.3 .5-.2 .5 .8 .5-.6 .5 .2 .5 .2 .5 .2 .5 0 .5-.6 .5 .5 .5-.5 .5 .8 .5 .4 .5-.4 .5-.2 .5 .3 .5-.7 .5 .6 .5 .4 .5-.3 .5 .5 1-.3 1 .1 1 .1 1-.5 1 .6 1 0 1 .1 1-.6 1 .5 1-.2 .9-.5 1 .1 1 .6 1-.2 1 .1 1-.4 1 .6 1 .1 1-.4 1 .8 1-1 1-.1 1 .3 1 .5 1-1 1 .5 1 .2 1 .5 1-1 1 .2 1 .4 1-.4 1 .2 1 .1 1 0 1 .2 1 .6 1-.7 1 .6 1 0 1 .3 1-.3 1 0 1 .1 1-.3 1 0 1 .1 1 .7 1-.2 1-.1 1 .1 1-.6 1 .4 1 0 1-.5 1 1 1 0 1 0 1-.5 1 .2 1 .2 1-.4 1 .4 1-.1 1 .5 2-.5 2-.1 2 .3 2 .4 2-.4 2 .4 2-.3 2-.3 2 .6 2-.1 2-.4 2 1.1 2-.3 2 .2 2-.2 1.9-.3 2-.1 2 .3 2 0 2 .4 2-.4 2 0 2 .2 2-.2 2-.1 2 .3 2-.4 2 .8 2-.1 2 .2 2-.1 2 .6 2-.4 2 .2 2-.5 2 .1 2 .5 2-.7 2 .4 2 .2 2 .1 2-.2 2 .3 2-.1 2-.1 2 .2 2 0 2-.3 2 .3 2 0 2 0 2 0 2 0 2-.2 2-.5 2 .6 2-.4 2 .1 1.9 .2 2 .2 2-.7 2 .4 2 .1 2-.3 2-.3 2 .6 2 .2 2 0 2-.4 2-.2 2 .6 2-.3 2 .3 2 0 2 0 2-.1 2 .1 2 0 2-.1 2-.5 2 .1 2 .5 2 0 2-.7 2 .7 2 0 2-.2 2 0 2 .2 2 0" fill="none" stroke="#808285" stroke-width="2.2" stroke-linejoin="round" />
<path d="M1211.2 755l.4-1.5 .4-1.6 .4-.5 .4-2 .4-.1 .4-1.4 .4-1.2 .4-2 .4-.2 .4-1.4 .4-1 .4-.6 .4-1.1 .4-1 .4-.3 .4-2.1 .4-.9 .4-.9 .4-.6 .4-.5 .4-1.2 .4-1 .4-1.2 .4-.9 .4 0 1-2.4 1-1.2 1-1.2 1-1.7 1-1 1-1.7 1-.9 1-1.1 1-1.6 1-1.3 1-.6 1-.9 1-.9 1-1.4 1-.7 1-1.3 1-1.1 1-.6 1-.6 1-1.4 1 .2 1-1.4 1-1.5 1 .2 1-1.2 1-.3 1-1.9 1 .8 1-1.2 1-.2 1-.4 1-.8 1-.8 1-.6 1 0 1-1.4 1 .2 1-1.8 1 .2 1 .1 1-.4 1 .2 1-.7 1-.3 1-1 1-.3 1 .4 1-.7 .5-.2 .5 .4 .5-.3 .5-5.2 .5 5 .5 1.9 .5 2 .5 2.8 .5 2.9 .5 .9 .5 2.2 .5 .7 .5 .9 .5 1.1 .5 .1 .5 1.7 .5 .6 .5 .4 .5 .7 .5 .8 .5 1.2 .5 .3 .5 0 .5 .3 .5 1.7 .5-.3 .5 .9 .5-.2 .5 1 .5 .3 .5 .3 .5 .6 .5 .4 .5 .4 1 0 1 1.4 1 .6 1 .6 1 1.4 1-.1 1 .9 1 0 1 .4 1 1 .9 .6 1 .1 1 1 1-.5 1 1.2 1 .2 1-.1 1 1.2 1 .2 1-.1 1 1.3 1 .2 1 .3 1 .7 1-.5 1 .4 1 .5 1 .9 1-.2 1 .2 1 .2 1 .5 1 .5 1-.1 1-.6 1 0 1 .5 1 1.2 1 .5 1 .2 1-.4 1-.3 1-.3 1 1.3 1 .4 1-.3 1 .3 1-.3 1 .3 1 .7 1 .2 1 .7 1-.9 1 .5 1 .9 1-.1 1-.1 1 .2 1 .1 1 .1 1 0 1 .7 1 .5 1-.7 1-.1 2 .5 2 2.1 2-1.3 2 .8 2-.3 2 .3 2 .7 2 .1 2 .1 2 .1 2 1.5 2-1.3 2 .6 2 .6 2-.5 1.9-.4 2 2 2-.3 2 .1 2 0 2 0 2 1 2 .3 2-.2 2 .8 2-.9 2 .9 2 .6 2-.2 2-.5 2 .6 2 0 2 .1 2 .6 2-.7 2 .1 2 .4 2 .3 2-.2 2-.1 2 .3 2-.4 2 .2 2 .3 2 0 2-.4 2 0 2 .2 2-.6 2 .1 2 .5 2-.2 2-.3 2-.4 2 .7 2-1.1 2 .8 2 .2 1.9-.6 2 .9 2-.9 2 1 2-.3 2-.3 2 .5 2-.4 2 .2 2-.5 2-.2 2 .9 2 .2 2-.6 2-.2 2 0 2 .5 2-.2 2 .3 2-.7 2 .5 2 .3 2-.5 2-.8 2 .7 2 .5 2-.5 2 .4 2-.1 2 .2 2 .7 2-.4 2-.6 2 1.3 2-.1 2-.6 2-.1 2 .8 2-.4 2 .3 2 .1 2-.5 2 .4 1.9 .3 2-.3 2 .2 2 .2 2 .2 2 .1 2 0 2-.8 2 .8" fill="none" stroke="#1d97b5" stroke-width="2.4" stroke-linejoin="round" />
<path d="M1211.2 754.7l.4-2 .4-2.6 .4-2.1 .4-2.4 .4-2.4 .4-1.3 .4-2.6 .4-1.8 .4-1.7 .4-1.8 .4-1.9 .4-2.1 .4-2.3 .4-1.7 .4-2.4 .4-.2 .4-3.4 .4-.9 .4-1.5 .4-1.7 .4-1.2 .4-1.3 .4-1.5 .4-2.2 .4-.6 1-3 1-1.6 1-3.2 1-1.9 1-1.7 1-2.9 1-1.2 1-1.7 1-2.1 1-1.3 1-2.1 1-1 1-2 1-1.2 1-1.4 1-1.5 1-1.4 1-1.3 1-.9 1-.6 1-1.8 1-1.5 1-.2 1-1.1 1-.1 1-2 1-1.1 1-.4 1-1.5 1 0 1-1.1 1 .2 1-1.8 1-.6 1 0 1-.7 1-.8 1-1 1-.2 1-.5 1-.2 1-.6 1-.5 1-1.2 1 .5 1 .4 1-1.5 1 0 .5-.9 .5-.1 .5 1.3 .5-4.2 .5 3.2 .5 2.8 .5 4.5 .5 3.3 .5 2.4 .5 2.5 .5 2.3 .5 1.1 .5 2.1 .5 .7 .5 2.1 .5 1.1 .5 .9 .5 2.4 .5 1.3 .5 .4 .5 1.3 .5 .8 .5 1.2 .5 .7 .5 .7 .5 .9 .5 1.2 .5 .6 .5 0 .5 1.7 .5-.4 .5 1.6 .5 .9 .5 .7 1 .5 1 2 1 1.1 1 .7 1 1.2 1 1.4 1 .2 1 1.7 1 .5 1 .3 .9 2.4 1 .8 1-.7 1 1.1 1 1.2 1 1.2 1 .1 1 1 1 .6 1 .6 1 .4 1 .2 1 1.6 1 .8 1-.5 1 1.9 1-.1 1 .3 1 .6 1 .5 1 .6 1-.2 1 1.2 1 .6 1 .2 1-.2 1 1.2 1 .1 1 1.1 1-.4 1 .6 1 .9 1-.2 1 .7 1 .1 1 1.4 1-.9 1 .4 1 .5 1 .2 1 .6 1 .2 1 .5 1-.4 1 .8 1 0 1 .7 1 .1 1 .6 1 .3 1 0 1 .5 1 .5 1 .3 1-.4 2 .4 2 .4 2 .4 2 .6 2 .7 2-.3 2 1.2 2 .6 2 .3 2 0 2 .2 2 1.1 2 0 2 .1 2 .3 1.9 .5 2 .6 2-.2 2-.1 2 0 2 .3 2 .1 2 .4 2 .6 2 .6 2-.6 2 .5 2 0 2 1 2 .2 2 .3 2 0 2 .1 2-.4 2 .2 2 .5 2 .7 2-.4 2 .8 2-.7 2 1.7 2-1 2 .2 2 .4 2-.3 2-.2 2 .4 2 .4 2 .3 2-.1 2 .3 2-1.7 2 1.5 2 .1 2 .1 2-.7 2 .5 2-.1 1.9 .9 2-.5 2-.5 2 .1 2 .1 2-.4 2-.1 2-.9 2 1.5 2-.6 2-.5 2 .5 2-.3 2 .6 2-.8 2 .1 2 .1 2 0 2 .7 2-.2 2-.9 2 .7 2-.1 2-.4 2 0 2 .2 2-.4 2 1.1 2-.3 2 .1 2-.2 2-.1 2 .3 2 .1 2-.1 2 0 2-.7 2 .9 2-.6 2 1.4 2-.7 2-.3 2 .4 1.9-.8 2 .2 2 .7 2 .2 2-.1 2 0 2 .1 2-.5 2 0" fill="none" stroke="#2b3fa6" stroke-width="2.4" stroke-linejoin="round" />
<path d="M1211.2 755l.4-3.8 .4-3.4 .4-4.7 .4-3.6 .4-4.7 .4-3.1 .4-4 .4-4.4 .4-2.3 .4-4.2 .4-2 .4-3.8 .4-3 .4-3.4 .4-1.7 .4-2.7 .4-2.8 .4-2 .4-3 .4-1.5 .4-2 .4-2.2 .4-2.8 .4-1.8 .4-1 1-4.3 1-3 1-3.3 1-3.4 1-2.6 1-2.4 1-2.8 1-2.9 1-1.9 1-1.4 1-2.6 1-2 1-2 1-2.4 1-.3 1-1.9 1-2.1 1-1.4 1-1.8 1-.7 1-2.3 1-.6 1-1.2 1-.6 1-1.7 1-1.2 1-.9 1-.7 1-.4 1-1.6 1-.9 1-.8 1-1.2 1-1.1 1-.2 1-1.2 1-.2 1 0 1-1.3 1-.9 1-.4 1-.3 1-1.8 1-.3 1-.3 1 0 1-.3 1-1.3 .5 .4 .5 .2 .5-.6 .5-2.1 .5 2.2 .5 4.7 .5 5.4 .5 4.9 .5 3.9 .5 4.7 .5 2.2 .5 4.2 .5 2.8 .5 1.9 .5 2.5 .5 2.4 .5 2.9 .5 2 .5 1.3 .5 1.7 .5 1.9 .5 2.1 .5 1.2 .5 1.5 .5 1.6 .5 1.1 .5 .8 .5 1.3 .5 1.3 .5 1.7 .5 .3 .5 1.1 .5 1 .5 .3 1 3 1 2.1 1 1.5 1 2 1 1.5 1 1.1 1 2.2 1 1.4 1 1.9 1 1.3 .9 .7 1 1.6 1 .9 1 1.2 1 1.5 1 1.3 1 .2 1 .1 1 1.9 1 .3 1 1.5 1 1.2 1-.3 1 1.2 1 .7 1 .6 1 1.3 1 .3 1 .4 1 1.1 1 .9 1 .2 1 .7 1 .4 1 .9 1 1.4 1 .1 1 .7 1 0 1 .7 1 1.9 1-1 1 1.3 1 .3 1 .1 1 .3 1 .8 1 .8 1 .6 1 0 1 1.3 1 .6 1 .1 1 0 1 1.6 1-.5 1 .5 1 .6 1-.4 1 .8 1 .2 1 .9 1-.6 1 1.7 1-.6 2 1.3 2 .3 2 .6 2-.7 2 .8 2 1 2-.5 2 1.1 2 0 2 .9 2 .1 2-.1 2 1 2 .3 2 .3 1.9 .2 2 .9 2 .4 2 .1 2 .2 2 .6 2 .5 2 .4 2 .4 2 .1 2 .5 2-.1 2 1.1 2-.6 2 .7 2-.5 2 .5 2 .8 2 .3 2 .5 2 0 2 .8 2-.7 2 .4 2-.1 2 .3 2-.5 2 .2 2 .8 2-.6 2 .5 2-.7 2-.3 2-.3 2 .3 2 .1 2 .1 2-.1 2-.2 2 .6 2-.6 2 .3 2 .4 1.9 .4 2 .1 2-.6 2 .6 2-.6 2 .1 2-.3 2 .2 2 0 2 1.4 2-1.1 2 .1 2 .2 2-.3 2-.3 2 .6 2 .3 2-.1 2-.1 2-.9 2 .6 2-.3 2 0 2-.1 2 .5 2-.4 2 .2 2 .4 2-.4 2 0 2 .1 2 .6 2 .9 2-.6 2-.9 2 1.2 2-.4 2-.2 2 0 2-.1 2 .5 2 .2 2 .5 1.9-1 2 .2 2-1.2 2 1.2 2-.5 2 .7 2-.5 2-.3 2 .5" fill="none" stroke="#8d3ea9" stroke-width="2.4" stroke-linejoin="round" />
<path d="M1211.2 754.8l.4-18.4 .4-17 .4-16.7 .4-15.7 .4-15.1 .4-15.4 .4-10.6 .4-6.2 .4-5.6 .4-5.5 .4-4.3 .4-3.3 .4-3.7 .4-2.8 .4-3.9 .4-2.7 .4-3.2 .4-1.4 .4-3.3 .4-1.9 .4-1.6 .4-1.6 .4-1.9 .4-2.4 .4-2 1-4.6 1-4.3 1-4.6 1-4.5 1-3.7 1-2.4 1-3.5 1-2.4 1-2.5 1-2.2 1-2.7 1-1.5 1-2.5 1-1.4 1-1.9 1-1.4 1-2.2 1-.6 1-1.6 1-1.6 1-1 1-1.3 1-1.1 1-1.2 1-.8 1-1.3 1-.4 1-1.6 1-.7 1-1.5 1 0 1-1.6 1 .6 1-1.8 1-.2 1-.6 1-1 1-1.1 1-.7 1 .7 1-1.4 1-.5 1-.6 1-.6 1-.5 1-.5 1-.6 1 .1 .5-1 .5 .2 .5-.3 .5-2.6 .5 3.1 .5 11.9 .5 10.7 .5 11.3 .5 9.6 .5 9.2 .5 6.8 .5 6.8 .5 5.7 .5 6 .5 4.9 .5 5.1 .5 4.3 .5 3.3 .5 4.3 .5 3 .5 2.9 .5 2.7 .5 3.4 .5 2 .5 2.2 .5 1.6 .5 2.4 .5 1.5 .5 2.5 .5 1.6 .5 2.5 .5 1.4 .5 1.6 .5 1.6 1 2.9 1 3.4 1 3.7 1 1.9 1 1.9 1 2.7 1 2.3 1 1.5 1 1.4 1 1.6 .9 .4 1 2.4 1 1.4 1 1.5 1 1.2 1 2.3 1 1.1 1 1.3 1 1.5 1 1.4 1 1 1 1.5 1 .8 1 2.2 1-.6 1 2.2 1 .6 1 .9 1 1.1 1 .7 1 .8 1 .6 1 1.7 1 .4 1 .9 1 .2 1 1.4 1 .9 1 .2 1 1.5 1 .1 1 .9 1 .9 1 .4 1 .7 1 .6 1 1.6 1 .3 1 .7 1 .6 1-.2 1 1.6 1 .3 1 .4 1 .5 1 .7 1 1.1 1 .5 1 1.3 1 .6 1-.5 1 1.3 1 0 1 1.2 1-.9 2 1.8 2 1.1 2 .2 2 .8 2 .9 2 1.3 2 .5 2 .4 2 1 2 .1 2 .9 2 0 2 1.6 2 .6 2-.6 1.9 .8 2 1.6 2-.8 2 1.2 2 1 2-.6 2 1.5 2-.5 2 .6 2 0 2 1.6 2 0 2 .7 2-.3 2 .7 2-.3 2 .8 2 0 2 .3 2 .8 2-.2 2-.3 2 .8 2-.9 2 1.1 2 .2 2 .4 2 .1 2-.4 2-.2 2 .2 2-.1 2 .3 2 .5 2 .1 2-.1 2-.4 2 .2 2 .7 2-.7 2 0 2 .4 2-.4 1.9 0 2 .5 2-.6 2-.1 2 .8 2-.2 2-.4 2 1.1 2-.4 2-.1 2 .7 2 .5 2-1.4 2 .2 2-.3 2-.3 2 .3 2 .2 2 .4 2-.9 2 0 2-.1 2 .6 2-1.1 2 .4 2 .2 2 1 2-.6 2 0 2 .7 2 .1 2 .2 2-.9 2 .6 2 .4 2 0 2-.8 2 .7 2-.1 2-.3 2 .7 2 .2 2-.5 1.9-.4 2 .3 2 .4 2-.3 2 0 2-.5 2 .5 2-.2 2-.2" fill="none" stroke="#7b1e5e" stroke-width="2.4" stroke-linejoin="round" />
<path d="M1211.2 754.9l.4-11.5 .4-10.1 .4-10.6 .4-9.4 .4-10.2 .4-9.5 .4-7.2 .4-6.3 .4-4.3 .4-3.5 .4-3.2 .4-3.4 .4-2.9 .4-2.9 .4-1.7 .4-2.4 .4-2.2 .4-2.3 .4-2.3 .4-.8 .4-2.4 .4-.7 .4-2.4 .4-1.9 .4-1.4 1-4.2 1-5.4 1-3.3 1-3.8 1-2.6 1-3.3 1-2.8 1-1.7 1-3.1 1-2.8 1-1.1 1-2.2 1-1 1-2.9 1-1.5 1-.8 1-2 1-1.1 1-1.6 1-.9 1-1.9 1-.3 1-1.1 1-.8 1-1.2 1-.6 1-1.3 1-.3 1-1.4 1-.5 1-.8 1-.2 1-1.1 1-.6 1-.5 1-1.1 1-.4 1-.4 1-.9 1 .1 1-1.2 1-.2 1-.3 1-.7 1-.8 1 .7 1-1.7 1 .4 .5 .5 .5-.9 .5 .6 .5-3 .5 3 .5 9.3 .5 7.7 .5 7.7 .5 6.5 .5 6.8 .5 5.8 .5 3.8 .5 4.4 .5 3.9 .5 4.3 .5 3.3 .5 2.2 .5 2.7 .5 2.6 .5 2.4 .5 1.6 .5 2.4 .5 1.7 .5 1.5 .5 1.7 .5 1.7 .5 1.8 .5 1.3 .5 1.1 .5 1.7 .5 1 .5 1.3 .5 1.6 .5 .7 1 3 1 2.6 1 1.8 1 1.5 1 2.7 1 2 1 .6 1 1.9 1 1 1 1.9 .9 .7 1 1.3 1 1.3 1 .7 1 1.3 1 1.2 1 .1 1 1.6 1 .9 1 .7 1 1.7 1 .7 1 .5 1 .6 1 1.4 1 1.3 1 .7 1 .3 1 .5 1 .9 1 1.3 1 .4 1 .4 1 1 1 .4 1 .6 1 .4 1 1.1 1 .2 1 .8 1 .3 1 1.3 1 .5 1 .6 1 .2 1 .8 1 1.1 1-.6 1 1.1 1 .2 1 .9 1 .6 1 .7 1 .2 1 .8 1 .4 1 1 1 .9 1 .2 1 .7 1 .5 1 .4 1-.1 1 .8 1 .6 2 .4 2 1.7 2-.4 2 1.1 2 1 2 .8 2 .8 2 .3 2 .5 2 .4 2 .5 2 .8 2 .5 2 1.1 2 0 1.9 .2 2 .3 2 .8 2 .4 2-.1 2 .5 2 1.6 2-1.3 2 1.5 2 .1 2 .1 2 .6 2 .7 2 .3 2 0 2 0 2-.6 2 .4 2 1 2 .2 2-1.1 2 .9 2-.7 2 .5 2 .5 2-.7 2 .7 2 .1 2-.4 2 1.1 2-.6 2 .9 2-1.4 2 1.6 2-1.3 2 .7 2 0 2 .2 2 .3 2 .3 2-.3 2-.4 2-.3 1.9 .2 2 .7 2-.3 2 .3 2 .3 2-.5 2 1.2 2-.6 2-1 2 .4 2 .1 2-.4 2 .6 2-.1 2 .2 2 .3 2-.8 2 1.1 2-.3 2-.1 2 .6 2-.6 2-.8 2 .8 2 .1 2-.6 2 .5 2-.7 2 .3 2-.3 2 .3 2-.5 2-.4 2 .2 2-.2 2-.9 2 .5 2 .4 2-.2 2-.7 2 .9 2-.1 2 0 1.9-.2 2 .5 2-.2 2 .2 2 .1 2 .4 2-.5 2 .6 2 .3" fill="none" stroke="#e8478c" stroke-width="2.4" stroke-linejoin="round" />
<path d="M1211.2 755l.4-11 .4-10.4 .4-11.9 .4-10.5 .4-11 .4-10 .4-7.1 .4-5.7 .4-5.5 .4-4 .4-4.4 .4-3 .4-3.1 .4-2.5 .4-2.7 .4-2.9 .4-2.2 .4-2.2 .4-1.6 .4-2 .4-3 .4-1 .4-1.3 .4-3 .4-.6 1-4.4 1-4.3 1-4.3 1-4.3 1-3.5 1-3.3 1-2.7 1-2.6 1-2.8 1-2.3 1-2.3 1-1.5 1-2.8 1-1.2 1-1.4 1-1.8 1-1.4 1-1.9 1-1.8 1-1 1-1.3 1-1.3 1 .1 1-2.3 1-.5 1-.6 1-1.5 1-1.3 1-.3 1-1.1 1-.9 1-.3 1-1.1 1-.2 1-.9 1-1.6 1-.1 1-.4 1-.4 1-.6 1-1.3 1-.5 1-.4 1 0 1-.5 1-.7 1-.2 1-.3 .5-.2 .5-.6 .5 1 .5-4.6 .5 4.3 .5 8.6 .5 9.4 .5 7.4 .5 8.9 .5 7.1 .5 5.1 .5 4.7 .5 4.8 .5 3.5 .5 4.3 .5 4.3 .5 2.3 .5 3.4 .5 1.6 .5 3.6 .5 2.3 .5 2.1 .5 1.8 .5 1.5 .5 1.3 .5 2.2 .5 1.7 .5 1.4 .5 1.6 .5 1.2 .5 .6 .5 2.1 .5 2.2 .5 1.2 1 2 1 3.3 1 2.2 1 1.4 1 2 1 2.7 1 1.4 1 1.1 1 .9 1 1.4 .9 1.1 1 1.7 1 .7 1 .9 1 1.4 1 1.2 1 1.6 1 .9 1 .7 1 .4 1 2.1 1 1.1 1 .8 1 .9 1-.1 1 1.3 1 1 1 .8 1 .7 1 1.2 1 .1 1 1 1 .8 1 .5 1 .8 1 .3 1 1.1 1-.2 1 1.1 1 1.6 1-.4 1 .9 1 .5 1 .2 1 1 1-.1 1 .9 1 1.3 1-.1 1 1.2 1 .1 1 1 1 .8 1 .1 1 .8 1 .4 1 .7 1-.1 1 1.4 1-.4 1 1 1 1.2 1 .1 1 .5 1 .1 2 2.2 2-.1 2 .8 2 .6 2 2 2 .5 2 .8 2 .7 2 .1 2 .3 2 .5 2 1 2 .8 2-.3 2 1.2 1.9 .4 2 1 2 .1 2 .8 2-.2 2 .7 2 .8 2 .5 2-.1 2 .6 2 .1 2 .7 2-.6 2 .8 2 .3 2 0 2 .3 2 .8 2 .1 2-.8 2 1.1 2 .8 2-.6 2 1.3 2-.7 2 .1 2 .1 2 0 2 .7 2-.6 2 .3 2 .8 2-.4 2 .5 2-.5 2 .3 2-.6 2 1.1 2 .8 2-1.7 2 .8 2 .5 2-.3 1.9-.4 2 0 2-.8 2 1.4 2-1 2 1 2-.5 2-1 2 1.1 2-.2 2-.4 2-.3 2 1 2-.7 2 .4 2 .4 2 .3 2-1.2 2 .2 2 .2 2 .2 2-.5 2 .8 2-.2 2 .2 2-.7 2 .7 2-.6 2 .1 2-.1 2 .4 2-.2 2 0 2 .3 2-.2 2-.1 2 .4 2-.7 2 .5 2-.1 2 .9 2-1.1 2 .7 1.9-.1 2-.3 2 .3 2-.6 2-.4 2 .6 2 0 2-.7 2 .5" fill="none" stroke="#de2a7b" stroke-width="2.4" stroke-linejoin="round" />
<path d="M1211.2 755l.4-17.3 .4-17.7 .4-15.3 .4-15.8 .4-15 .4-14.2 .4-9.6 .4-6.9 .4-6.4 .4-4.2 .4-4.4 .4-3.7 .4-3.1 .4-3 .4-3 .4-2.4 .4-3.2 .4-1.4 .4-2.8 .4-2.1 .4-1.9 .4-1.4 .4-2.4 .4-1.3 .4-2.5 1-4.7 1-4.5 1-4.8 1-3.6 1-4.5 1-3.3 1-1.2 1-3.7 1-1.8 1-2 1-2.6 1-2.1 1-1.9 1-1.6 1-2.3 1-1.1 1-1.6 1-1.6 1-.9 1-1.5 1-.7 1-.4 1-2.3 1-1.1 1-.3 1-1.9 1-1 1-.7 1-1 1-.7 1-.6 1-.1 1-1.1 1-1.4 1 .2 1-.7 1-.4 1-1.4 1-.6 1 .1 1-.7 1-1.3 1-.3 1-.4 1-.5 1-1.3 1 .6 1 .5 .5-2.4 .5 .7 .5 .2 .5-3.7 .5 3.2 .5 11.8 .5 10.8 .5 10.9 .5 9.7 .5 8 .5 7.2 .5 6.7 .5 5.8 .5 5.7 .5 5.1 .5 4 .5 4.3 .5 3.9 .5 4.4 .5 1.9 .5 3.5 .5 1.7 .5 2.7 .5 2.5 .5 2.9 .5 1.6 .5 2.4 .5 1.6 .5 2.6 .5 .8 .5 1.9 .5 2.1 .5 1.6 .5 1 1 3.3 1 3.9 1 2.5 1 2.7 1 2.3 1 2.5 1 .9 1 2.5 1 1.4 1 1.2 .9 1.4 1 1.2 1 1.4 1 1.3 1 1.7 1 1.1 1 1.9 1 .9 1 .8 1 1.5 1 1.5 1 1.4 1 1.5 1 .2 1 1.3 1 1.8 1-.2 1 1.9 1 0 1 1.3 1 1 1 .7 1 .2 1 1.2 1 .9 1 1 1 0 1 .4 1 1.4 1 .6 1 1.3 1 .3 1 .6 1 .3 1 .3 1 .9 1 .2 1 1.4 1 .6 1 .2 1 1.5 1 .2 1 .6 1 1.1 1 1.2 1-.1 1 .1 1 0 1 .5 1 1.4 1 1.3 1-.2 1 .5 1 .3 1 .8 2 1.1 2 .7 2 .7 2 .9 2 .8 2 .8 2 0 2 .3 2 1.8 2 .6 2 .8 2 .7 2-.3 2 .6 2 1 1.9-.1 2 1.3 2-.4 2 .6 2 .3 2 .3 2 .1 2 .7 2 .2 2 .7 2 .8 2-.4 2 .7 2 .5 2-.4 2 .7 2-.2 2 .3 2 1.4 2-1 2 2.1 2-.4 2 .4 2-.6 2 1 2-.5 2 .5 2-.4 2 .7 2-.2 2-.9 2 .4 2 .5 2-.2 2 .7 2-.8 2 .1 2-.1 2-.2 2 .2 2-.2 2 .8 2 .2 1.9-.3 2 .9 2-.3 2 .3 2 .2 2 .3 2-.2 2-.1 2 .6 2-.1 2 .8 2 0 2-1.1 2 .6 2 .2 2-.7 2 1 2 0 2-.4 2 .5 2-.6 2-.2 2-.1 2 0 2 .2 2-.3 2 .5 2-.1 2 .4 2 .1 2-.5 2-.3 2 1 2-.2 2 .1 2-.6 2 .2 2-.5 2 1 2-.1 2-.6 2-.2 2-.2 1.9 1.2 2-.8 2-.6 2 1 2-.4 2-.3 2 .6 2-1.2 2 1.4" fill="none" stroke="#c5184e" stroke-width="2.4" stroke-linejoin="round" />
<text x="1312.5" y="571.9" font-size="27.5" font-style="italic">K</text>
<text x="1330.2" y="580.6" font-size="16.5" font-style="italic">d</text>
<text x="1344.5" y="571.9" font-size="27.6">7.8 (5.9 - 10.2) µM</text>
<line x1="1644.30" y1="498.15" x2="1644.30" y2="756.10" stroke="#000" stroke-width="2.2" stroke-linecap="butt"/>
<line x1="1643.20" y1="755.00" x2="2064.80" y2="755.00" stroke="#000" stroke-width="2.2" stroke-linecap="butt"/>
<line x1="1638.10" y1="755.00" x2="1644.30" y2="755.00" stroke="#000" stroke-width="2.2" stroke-linecap="butt"/>
<text x="1630.8" y="760.6" font-size="22.5" text-anchor="end">0</text>
<line x1="1638.10" y1="691.05" x2="1644.30" y2="691.05" stroke="#000" stroke-width="2.2" stroke-linecap="butt"/>
<text x="1630.8" y="696.6" font-size="22.5" text-anchor="end">5</text>
<line x1="1638.10" y1="627.10" x2="1644.30" y2="627.10" stroke="#000" stroke-width="2.2" stroke-linecap="butt"/>
<text x="1634.8" y="632.7" font-size="22.5" text-anchor="end">10</text>
<line x1="1638.10" y1="563.15" x2="1644.30" y2="563.15" stroke="#000" stroke-width="2.2" stroke-linecap="butt"/>
<text x="1634.8" y="568.8" font-size="22.5" text-anchor="end">15</text>
<line x1="1638.10" y1="499.20" x2="1644.30" y2="499.20" stroke="#000" stroke-width="2.2" stroke-linecap="butt"/>
<text x="1634.8" y="504.8" font-size="22.5" text-anchor="end">20</text>
<line x1="1644.28" y1="755.00" x2="1644.28" y2="761.60" stroke="#000" stroke-width="2.2" stroke-linecap="butt"/>
<text x="1650.3" y="783.9" font-size="22.5" text-anchor="middle">-60</text>
<line x1="1704.20" y1="755.00" x2="1704.20" y2="761.60" stroke="#000" stroke-width="2.2" stroke-linecap="butt"/>
<text x="1706.7" y="783.9" font-size="22.5" text-anchor="middle">0</text>
<line x1="1764.12" y1="755.00" x2="1764.12" y2="761.60" stroke="#000" stroke-width="2.2" stroke-linecap="butt"/>
<text x="1768.5" y="783.9" font-size="22.5" text-anchor="middle">60</text>
<line x1="1824.04" y1="755.00" x2="1824.04" y2="761.60" stroke="#000" stroke-width="2.2" stroke-linecap="butt"/>
<text x="1831.0" y="783.9" font-size="22.5" text-anchor="middle">120</text>
<line x1="1883.96" y1="755.00" x2="1883.96" y2="761.60" stroke="#000" stroke-width="2.2" stroke-linecap="butt"/>
<text x="1891.5" y="783.9" font-size="22.5" text-anchor="middle">180</text>
<line x1="1943.88" y1="755.00" x2="1943.88" y2="761.60" stroke="#000" stroke-width="2.2" stroke-linecap="butt"/>
<text x="1950.4" y="783.9" font-size="22.5" text-anchor="middle">240</text>
<line x1="2003.80" y1="755.00" x2="2003.80" y2="761.60" stroke="#000" stroke-width="2.2" stroke-linecap="butt"/>
<text x="2009.8" y="783.9" font-size="22.5" text-anchor="middle">300</text>
<line x1="2063.72" y1="755.00" x2="2063.72" y2="761.60" stroke="#000" stroke-width="2.2" stroke-linecap="butt"/>
<text x="2069.2" y="783.9" font-size="22.5" text-anchor="middle">360</text>
<text x="1864.4" y="807.0" font-size="22.5" text-anchor="middle">Time (s)</text>
<text x="1594.8" y="474.2" font-size="30.6">FT827 - AktPH</text>
<path d="M1646.3 753.7l1 .7 1-1.4 1 .9 1 .8 1-.2 1-.2 1 1.1 1 0 1-.6 1 .6 1-.6 1 .6 1 0 1 0 1-.3 1 .3 1 0 1 0 1 0 1 0 .9 0 1 0 1 0 1 0 1 0 1 0 1 0 1 0 1 0 1 0 1 0 1 0 1 0 1-.6 1 .5 1-.9 1 .3 1 .2 1-.5 1-.5 1 0 1 .6 1-.3 1 .1 1-.5 1 .5 1-.5 1 .3 1 .4 1 .1 1-.4 1 .8 1-.2 1-1.5 1 .8 1 .4 1-.3 1-1.1 1.5 .1 1.5 .3 1.5 .2 1.5-.2 1.5-.5 1.5 .7 1.5-.8 1.5-.3 1.5 2.2 1.5-1.5 1.5-.3 1.5 .1 1.5 .2 1.5-.3 1.5 1.7 1.5-1.4 1.5-.6 1.5 .2 1.5 .3 1.5-.2 1.5-.5 1.5 .7 1.5 .2 1.5-.8 1.4 .4 1.5 .8 1.5 .1 1.5 .6 1.5-1.3 1.5 1.2 1.5-.8 1.5 0 1.5 .1 1.5 1.2 1.5-1.3 1.5 .1 1.5-.1 1.5-1.6 1.5 1.5 1.5 1.9 1.5 0 1.5 0 1.5 0 1.5 0 1.5 0 1.5 0 1.5-.1 1.5 0 1.5-.7 1.5 .1 1.5 .6 1.5-.6 1.5-.7 1.5 .7 1.5 .2 1.5 0 1.5-.7 1.5 .5 1.5-.9 1.5 .9 1.5-.4 1.5 .3 1.5-.7 1.5 .6 1.5-1.1 1.5 .3 1.5-.8 1.5 .9 1.5-.8 1.5 1.6 1.5-1.6 1.5 .2 1.5 .7 1.5 .1 1.5-1.3 1.4 1 1.5-.7 1.5 .6 1.5 .1 1.5-.4 1.5 .3 1.5-.6 1.5 .9 1.5-.3 1.5-.2 1.5 .1 1.5 .1 1.5 .5 1.5 0 1.5-.1 1.5 .2 1.5 .3 1.5-.2 1.5-.2 1.5-.5 1.5 .4 1.5 .1 1.5 0 1.5-.2 1.5-.1 1.5-.4 1.5 .9 1.5-.8 1.5 .3 1.5-.5 1.5 .6 1.5 .1 1.5-.2 1.5-.3 1.5-1.1 1.5 .4 1.5 .3 1.5-.3 1.5-.7 1.5 .7 1.5-.4 1.5 .2 1.5-.5 1.5 0 1.5 .4 1.5 .3 1.5-.3 1.5-.5 1.5-.2 1.4 1.2 1.5-.4 1.5-.3 1.5 .2 1.5-.1 1.5 1 1.5-.4 1.5-.5 1.5 .3 1.5-.3 1.5 .7 1.5 0 1.5 .5 1.5-1.1 1.5 1.4 1.5-.9 1.5-.5 1.5 .5 1.5 1.5 1.5-1.4 1.5 1.2 1.5-.6 1.5-.3 1.5 .6 1.5-.5 1.5 0 1.5 0 1.5-.6 1.5 .9 1.5 .2 1.5-.5 1.5 .5 1.5-1 1.5 1 1.5 .2 1.5-.5 1.5-1.2 1.5 .7 1.5 .1 1.5 .2 1.5 0 1.5 .7 1.5-.5 1.5 .5 1.5-.2 1.5-.9 1.5 .4 1.5-.1 1.5 .3 1.5 0 1.5 .2 1.4 .3 1.5-.5 1.5-.2 1.5 .5 1.5 .8 1.5 0 1.5-.3 1.5-.7 1.5 1 1.5-1.3 1.5 1.1 1.5-.1 1.5-.7 1.5-.3 1.5 1.4 1.5-.4 1.5 .2 1.5-.9 1.5 1.2 1.5 .3 1.5 0 1.5-1.8 1.5 .5 1.5 .5 1.5-.6 1.5 .7 1.5 .3 1.5-1.1 1.5 .6 1.5-.4 1.5 0 1.5-.5 1.5-.4 1.5 .9 1.5-.2 1.5-.3 1.5-.7 1.5 .8 1.5-1.3 1.5 1.2 1.5 0 1.5 .2 1.5 .6 1.5-.9 1.5 .3 1.5 .3 1.5 .6 1.5-1.5 1.5 1.3 1.4 .6 1.5-1 1.5-.4 1.5 .2 1.5 .5 1.5 .2 1.5-1 1.5 .2 1.5 1.1 1.5-1.1 1.5 .4 1.5 .5 1.5-.4 1.5 .3 1.5 0 1.5-.1" fill="none" stroke="#e3b07a" stroke-width="1.7" stroke-linejoin="round" />
<path d="M1646.3 753.1l1-.4 1-.3 1 1 1-.2 1 .6 1-1 1-.1 1 .4 1 .3 1-.7 1 .7 1 .4 1-.2 1 .4 1-.4 1 .3 1 .7 1-.8 1 1 1-.6 .9-.2 1-.5 1 .8 1-.3 1 .3 1 0 1 .1 1 .1 1-.1 1 .6 1 .2 1 .2 1-.3 1 .3 1 0 1 0 1 0 1 0 1 0 1 0 1 0 1 0 1-.1 1 0 1 .1 1 0 1 0 1-.1 1-.4 1 .4 1 .1 1-.7 1 .4 1 .3 1-.9 1 .9 1-1.1 1-.4 1.5-.5 1.5-.1 1.5 .7 1.5-.2 1.5 .6 1.5-.6 1.5-.9 1.5 .6 1.5-1.3 1.5 .7 1.5 .6 1.5-.6 1.5 .4 1.5-.3 1.5-.1 1.5 0 1.5-.2 1.5 .2 1.5-.4 1.5 .6 1.5 .8 1.5-1.5 1.5 0 1.5 .1 1.4 1.2 1.5 .1 1.5-1.4 1.5 .8 1.5-.3 1.5 .1 1.5 1.5 1.5-1.8 1.5 .6 1.5-.3 1.5 .8 1.5-.3 1.5-.5 1.5 .4 1.5 .1 1.5 .8 1.5 .8 1.5 0 1.5-.3 1.5-.1 1.5 .1 1.5 0 1.5 .6 1.5-.5 1.5-.4 1.5 .3 1.5-.9 1.5 .3 1.5 .1 1.5 .5 1.5-.6 1.5 1.2 1.5-.2 1.5-.6 1.5 0 1.5 .1 1.5 .3 1.5-.4 1.5-.3 1.5 .2 1.5-.4 1.5 .5 1.5-.5 1.5-.4 1.5 .6 1.5 0 1.5 0 1.5 .2 1.5-1.2 1.5 .7 1.5 .6 1.4-1.2 1.5-.2 1.5 .7 1.5-.6 1.5 .4 1.5 0 1.5 .5 1.5-1.5 1.5 .4 1.5 .1 1.5-.3 1.5-.3 1.5 .5 1.5-.9 1.5 0 1.5 .9 1.5 .3 1.5-.6 1.5-.2 1.5-.4 1.5 .1 1.5 .7 1.5-.3 1.5 .9 1.5-1.5 1.5 .7 1.5-.1 1.5 .8 1.5 .1 1.5 .2 1.5-.4 1.5 .7 1.5-.5 1.5-.3 1.5 .1 1.5 .5 1.5-1 1.5 .5 1.5 .1 1.5 .1 1.5-.7 1.5 .9 1.5-.8 1.5 .1 1.5-.2 1.5 .1 1.5 .3 1.5-.5 1.5 .3 1.4 .4 1.5-.3 1.5-.3 1.5 .6 1.5 .3 1.5 .3 1.5-.5 1.5 .3 1.5 .8 1.5-.4 1.5-1 1.5-.2 1.5 .8 1.5 .3 1.5-1 1.5 .8 1.5-.3 1.5-.8 1.5 .7 1.5 .4 1.5-.4 1.5-.9 1.5 .6 1.5 .4 1.5 0 1.5 .2 1.5-.2 1.5 .7 1.5-1.1 1.5 0 1.5 .6 1.5-1.4 1.5 .3 1.5 1.2 1.5-.9 1.5 .7 1.5-.2 1.5-.1 1.5-.9 1.5 .1 1.5 1 1.5 0 1.5-.1 1.5-.5 1.5 .2 1.5-.1 1.5 .2 1.5 .3 1.5-.3 1.5-.2 1.5 .3 1.4 .1 1.5 .1 1.5 .6 1.5 .3 1.5-.3 1.5-.2 1.5 .1 1.5-.2 1.5-.1 1.5 .4 1.5 .5 1.5-1.1 1.5 0 1.5-.6 1.5 .7 1.5 .7 1.5-.8 1.5 .1 1.5 .6 1.5 0 1.5 .1 1.5-.8 1.5 .4 1.5 .1 1.5 .6 1.5-.5 1.5-.3 1.5 .5 1.5-1.8 1.5 1.5 1.5-.3 1.5-.4 1.5 .2 1.5 .7 1.5 .3 1.5-1 1.5-.1 1.5 .1 1.5 0 1.5 .8 1.5-.3 1.5-.4 1.5-.7 1.5 1 1.5-.8 1.5-.4 1.5 1 1.5-.7 1.5 0 1.4 .5 1.5-.6 1.5 .8 1.5-.9 1.5 .9 1.5-2 1.5 1 1.5 .9 1.5-.1 1.5-1.5 1.5 1.5 1.5 0 1.5 .3 1.5 .3 1.5-.7 1.5 .2" fill="none" stroke="#e8782c" stroke-width="1.7" stroke-linejoin="round" />
<path d="M1646.3 752.6l1 .8 1 .6 1-1.1 1 1.4 1-1.1 1 .6 1-.5 1 1 1 0 1 .2 1-.4 1 0 1 .1 1 .4 1-.3 1-.4 1 .7 1 .3 1-.5 1-.1 .9 .5 1 0 1-.5 1 .4 1 .7 1-.6 1-.1 1-.3 1 .4 1 .6 1-1.5 1 1.5 1-.5 1 .5 1 0 1-.8 1 0 1 .5 1 .3 1 0 1-.8 1-.1 1 .2 1-.5 1 .3 1 .5 1-.1 1 .1 1 .2 1-.1 1-.7 1 .5 1-1.4 1 1.7 1-.8 1-1 1 1.2 1-1.3 1.5-1.5 1.5 1.5 1.5-.4 1.5-.3 1.5-.5 1.5-.6 1.5 1.6 1.5-.5 1.5 .1 1.5 .8 1.5-.3 1.5 0 1.5-.6 1.5 .8 1.5-1.2 1.5 1.7 1.5-.3 1.5 .2 1.5-.2 1.5 .1 1.5-.4 1.5 .5 1.5 .3 1.5-.6 1.4 .2 1.5 .6 1.5-1.7 1.5 1 1.5-.3 1.5-.2 1.5 .6 1.5-.4 1.5 .2 1.5-1.4 1.5 .8 1.5-.8 1.5 1.3 1.5-.4 1.5 .7 1.5 .7 1.5 .9 1.5 .1 1.5-.3 1.5-.3 1.5 .6 1.5 0 1.5 0 1.5 0 1.5-.2 1.5 .2 1.5 0 1.5-.4 1.5 .4 1.5-.1 1.5-.5 1.5-.3 1.5 .9 1.5-.5 1.5-1 1.5-.1 1.5 .4 1.5 0 1.5 .2 1.5-.5 1.5 .3 1.5-.6 1.5-.2 1.5 .8 1.5-.4 1.5-.1 1.5-.2 1.5 .4 1.5 .3 1.5-.3 1.5 .4 1.4-.1 1.5-.5 1.5 1.7 1.5-1.5 1.5-1 1.5 1.6 1.5-.4 1.5-.8 1.5 .1 1.5 .2 1.5 1 1.5 .2 1.5-1.1 1.5-.6 1.5 1.9 1.5-.7 1.5 .4 1.5-.5 1.5-.2 1.5-.5 1.5 .5 1.5 .5 1.5-.3 1.5 .5 1.5 .1 1.5-.8 1.5 .5 1.5 .3 1.5 0 1.5 0 1.5 .6 1.5 0 1.5-.7 1.5 0 1.5 .5 1.5-.6 1.5-.7 1.5 1.5 1.5-1.3 1.5-.3 1.5 .6 1.5 .4 1.5-.4 1.5-.9 1.5-.3 1.5 .8 1.5 0 1.5 0 1.5-.1 1.4-.1 1.5-.7 1.5 .9 1.5-.1 1.5-.2 1.5-.3 1.5 .7 1.5 .3 1.5-.4 1.5 .1 1.5-.1 1.5 0 1.5-.3 1.5 0 1.5 .5 1.5-.2 1.5 .1 1.5-.4 1.5-.3 1.5 .1 1.5-.2 1.5 .7 1.5-.2 1.5 .7 1.5-1.1 1.5 1.6 1.5-.9 1.5 .5 1.5-.2 1.5 0 1.5 .6 1.5-1 1.5 .6 1.5-.1 1.5 .3 1.5-.5 1.5 .9 1.5-.1 1.5-.1 1.5-.5 1.5 .2 1.5 .4 1.5-.7 1.5 .1 1.5 .6 1.5-1.2 1.5 .7 1.5-.5 1.5 .5 1.5-.1 1.5 0 1.4 .3 1.5-.6 1.5 .3 1.5-.2 1.5-.1 1.5 .1 1.5-.2 1.5 .2 1.5-.7 1.5 .7 1.5-.1 1.5-.3 1.5 .7 1.5-.4 1.5-.3 1.5 .3 1.5-.2 1.5 .3 1.5 .2 1.5-.7 1.5 .5 1.5-.1 1.5-.3 1.5 .4 1.5 .1 1.5-.4 1.5 .1 1.5-.9 1.5 1 1.5-.4 1.5 .4 1.5-.2 1.5-.2 1.5 .6 1.5 .8 1.5-.9 1.5-.9 1.5 .8 1.5-.8 1.5 .4 1.5 .4 1.5-.8 1.5 .7 1.5 .5 1.5-1 1.5 .2 1.5-.3 1.5 1.1 1.5-.2 1.4-1.1 1.5 1.2 1.5-.4 1.5-.4 1.5-.6 1.5 .7 1.5 .6 1.5-1 1.5 .8 1.5-.5 1.5-.4 1.5 1 1.5-.3 1.5-.1 1.5 .1 1.5-.2" fill="none" stroke="#d83b2d" stroke-width="1.7" stroke-linejoin="round" />
<path d="M1646.3 753.6l1 0 1 .5 1-.2 1-.2 1 .1 1 .8 1-.4 1 0 1 .2 1-.7 1 1.6 1-1.8 1 .7 1 .4 1 0 1 .2 1 .3 1-1.2 1 .9 1 .5 .9-.2 1-.8 1 .7 1-1.5 1 1 1 .4 1-.5 1 1 1 0 1-.5 1 .4 1-.6 1 .7 1 0 1 0 1-1.1 1 .4 1 .1 1 .6 1 0 1-.6 1 .3 1-.4 1 .6 1-.3 1 .4 1 0 1-.6 1 .4 1 .1 1-.8 1 .3 1-.5 1-.7 1 1.6 1-1.2 1 .7 1-1.7 1.5 .6 1.5-.4 1.5 .4 1.5 .2 1.5-.8 1.5 .3 1.5 .1 1.5-.4 1.5-.2 1.5-.5 1.5 .7 1.5 .7 1.5-.1 1.5-1.1 1.5 1 1.5-.6 1.5 .5 1.5-.2 1.5 .8 1.5-1.1 1.5 .9 1.5 0 1.5 .1 1.5 .3 1.4-.6 1.5-.3 1.5-.2 1.5 .5 1.5 .3 1.5 0 1.5 .5 1.5-.2 1.5 0 1.5-.3 1.5-.6 1.5 0 1.5 0 1.5 .4 1.5 .2 1.5 1.5 1.5 0 1.5 0 1.5 0 1.5 0 1.5 0 1.5 0 1.5-.2 1.5-.4 1.5-1 1.5 .8 1.5-.1 1.5 .3 1.5-.6 1.5 .4 1.5-1 1.5 .2 1.5-.5 1.5 0 1.5 1 1.5-1.1 1.5-.2 1.5 .2 1.5-1 1.5 1 1.5 .1 1.5 .7 1.5-.7 1.5-.2 1.5-.4 1.5 1.3 1.5-.9 1.5 .1 1.5-.1 1.5-.2 1.5 .1 1.4 .4 1.5 .2 1.5-.5 1.5-.3 1.5 .8 1.5-.7 1.5-.7 1.5 1.8 1.5-1.4 1.5 .4 1.5 .2 1.5-.3 1.5 .1 1.5 .2 1.5-.5 1.5 0 1.5 .3 1.5-.1 1.5 .1 1.5-.3 1.5-.5 1.5 .3 1.5 1 1.5-.3 1.5-.9 1.5 1.1 1.5 .2 1.5 .9 1.5-1.1 1.5 .8 1.5-.4 1.5-.2 1.5 1.7 1.5-.9 1.5 .2 1.5-1.2 1.5 .5 1.5 .2 1.5 .3 1.5-.3 1.5 .4 1.5-.3 1.5 .7 1.5-.8 1.5 0 1.5 .2 1.5-.4 1.5 .3 1.5 .5 1.4 0 1.5-.1 1.5 .2 1.5-.6 1.5 0 1.5-.9 1.5 .9 1.5 .4 1.5-.6 1.5-.2 1.5 .7 1.5-.9 1.5 .5 1.5 .4 1.5-1 1.5 1.1 1.5-.5 1.5-.9 1.5-.2 1.5 .2 1.5 .3 1.5 .1 1.5 .4 1.5-.7 1.5-.6 1.5 .1 1.5 .2 1.5 .1 1.5 0 1.5 .2 1.5 0 1.5 .3 1.5-.2 1.5 .3 1.5-.4 1.5-.7 1.5 .4 1.5 0 1.5 .8 1.5-.5 1.5 .1 1.5 .2 1.5-.9 1.5 .6 1.5-.6 1.5 .3 1.5 .3 1.5-.3 1.5 0 1.5 .2 1.5-.3 1.4 .1 1.5 .6 1.5 .6 1.5-.7 1.5 .3 1.5 0 1.5-.7 1.5-.1 1.5 1.1 1.5-.6 1.5-.4 1.5 .6 1.5-.1 1.5 .5 1.5-.9 1.5 .4 1.5 .6 1.5-.8 1.5 .4 1.5 .2 1.5-.9 1.5 .1 1.5 .1 1.5 .2 1.5 .4 1.5 .9 1.5-1.3 1.5 .3 1.5 .5 1.5-.7 1.5 1.1 1.5-1.1 1.5 1 1.5-.3 1.5 .1 1.5-.7 1.5 1 1.5-1.1 1.5 .8 1.5-.5 1.5-.9 1.5 .9 1.5-.4 1.5-.2 1.5 .2 1.5-.5 1.5 .6 1.5-.3 1.5-1.4 1.4 .8 1.5 .7 1.5-.3 1.5 .1 1.5-.6 1.5 .3 1.5-.1 1.5 1.1 1.5-.3 1.5-.3 1.5 .2 1.5 .1 1.5-.3 1.5 .4 1.5 .3 1.5 .5" fill="none" stroke="#2b3fa6" stroke-width="1.7" stroke-linejoin="round" />
<path d="M1646.3 753.7l1 .5 1-.3 1-.1 1 .4 1 .2 1 0 1-.4 1 1.4 1-1.3 1 1 1 0 1 .2 1 .1 1-.1 1-.2 1 .1 1 .1 1 .1 1-.2 1 .2 .9 0 1 0 1-.1 1-.1 1 .2 1 0 1 0 1 0 1 0 1-.2 1-.1 1 .2 1 .1 1 0 1 0 1 0 1 0 1-.3 1-.2 1 .5 1-.1 1-1.1 1 1.2 1 0 1-.2 1-.1 1-.2 1 0 1-.4 1 .5 1 .2 1-1 1 .4 1 .5 1-.8 1 .1 1 0 1-.7 1.5-.1 1.5-.2 1.5-.8 1.5 1.5 1.5-1.3 1.5 0 1.5-.4 1.5 .9 1.5 .3 1.5 .2 1.5-.4 1.5-.5 1.5 1 1.5-.8 1.5 .3 1.5-.4 1.5 .4 1.5 .1 1.5 .3 1.5 .1 1.5-.2 1.5 .4 1.5-.9 1.5 .7 1.4-.1 1.5 0 1.5-.8 1.5 .3 1.5-.3 1.5 .8 1.5 0 1.5-.3 1.5 .4 1.5-.7 1.5 .6 1.5 .4 1.5 0 1.5 .4 1.5-.4 1.5 .3 1.5 .9 1.5 0 1.5 0 1.5-.6 1.5 .1 1.5-.4 1.5-.6 1.5 .2 1.5 .1 1.5-1.1 1.5 0 1.5-.6 1.5 .7 1.5-.2 1.5-.1 1.5-.2 1.5-.1 1.5 .1 1.5-1.2 1.5 .6 1.5 .5 1.5 .3 1.5-.7 1.5 0 1.5 .5 1.5-1.3 1.5 0 1.5 .4 1.5 .2 1.5-.8 1.5 1.6 1.5 0 1.5-.2 1.5 .1 1.5-.1 1.4 .1 1.5-.2 1.5 0 1.5 .5 1.5-.9 1.5-.2 1.5 .3 1.5-.2 1.5-.1 1.5-.2 1.5 .6 1.5-.1 1.5 .4 1.5-.2 1.5-1.4 1.5 .7 1.5 .4 1.5-.5 1.5 .8 1.5-.2 1.5-1.3 1.5 1.6 1.5-.4 1.5 0 1.5 0 1.5 .5 1.5-1 1.5 .9 1.5-.5 1.5 0 1.5 .5 1.5-.3 1.5 1 1.5-1 1.5 .8 1.5-.6 1.5 0 1.5-.9 1.5 .7 1.5-.4 1.5 0 1.5 .3 1.5 .2 1.5-.2 1.5 .5 1.5-1.1 1.5 1.2 1.5-1 1.5 1.1 1.4-.6 1.5 .1 1.5-.1 1.5 0 1.5 .9 1.5-1.5 1.5 .1 1.5 1.3 1.5-.7 1.5-.1 1.5-.3 1.5 .7 1.5 .4 1.5-1 1.5 .3 1.5-.4 1.5 .4 1.5 .1 1.5 0 1.5 .7 1.5-1 1.5 .3 1.5 .1 1.5-.1 1.5 .7 1.5-.1 1.5-.7 1.5 .3 1.5 .6 1.5-.6 1.5 .9 1.5 0 1.5-1.8 1.5 1.5 1.5-.3 1.5 .5 1.5 .3 1.5-.6 1.5 .2 1.5-.9 1.5 .9 1.5-.9 1.5 1.4 1.5-.3 1.5 .3 1.5 .1 1.5-1 1.5 1 1.5-1.1 1.5 .3 1.5 .2 1.4-1.5 1.5 .9 1.5 .1 1.5 .2 1.5 .8 1.5 0 1.5-.9 1.5-.1 1.5-.9 1.5 1.8 1.5-.8 1.5 .6 1.5 .1 1.5-1 1.5 .4 1.5-.1 1.5 .4 1.5-.3 1.5-1.4 1.5-.3 1.5 .8 1.5 1.1 1.5-.2 1.5 .5 1.5-1 1.5 .5 1.5 .1 1.5-.5 1.5 .7 1.5-.2 1.5 .5 1.5-.1 1.5 .2 1.5-.4 1.5 .2 1.5-.4 1.5 0 1.5 .3 1.5-.9 1.5 .7 1.5-.3 1.5 .7 1.5-1.3 1.5 1.2 1.5-.6 1.5 .1 1.5 .4 1.5-.8 1.5 .2 1.4 0 1.5 .2 1.5-.4 1.5 .1 1.5 0 1.5 1.4 1.5-1.1 1.5-.8 1.5 .6 1.5 .1 1.5 .6 1.5-.4 1.5 0 1.5 0 1.5 .1 1.5 .2" fill="none" stroke="#8d3ea9" stroke-width="1.7" stroke-linejoin="round" />
<path d="M1646.3 753.1l1-.8 1 1.5 1-.3 1 .8 1-.1 1 0 1-.3 1-.6 1 .6 1-.4 1 .6 1-.4 1-.4 1 .3 1 .1 1 .9 1 0 1-.9 1 .3 1 .6 .9-.4 1 1.2 1-.9 1 .1 1-.3 1 1.1 1-.8 1 .8 1-.6 1 0 1-.1 1-.3 1 .4 1 .2 1-.7 1 1.1 1-.4 1 .3 1-.4 1-.1 1 .6 1-.9 1 .4 1-.5 1 .2 1-.2 1 0 1 .4 1-.8 1 .6 1 .1 1-1.7 1 1 1 0 1 .2 1 0 1-.5 1-1.7 1.5 .7 1.5-.1 1.5 .4 1.5-.2 1.5 0 1.5-.3 1.5 .2 1.5 .1 1.5 .1 1.5-.1 1.5 .3 1.5-.6 1.5 .4 1.5 .9 1.5-1 1.5 .7 1.5-.1 1.5-.2 1.5 0 1.5-.6 1.5 .3 1.5 .5 1.5 0 1.5-.1 1.4 0 1.5 .1 1.5-.3 1.5 .1 1.5-.6 1.5 .6 1.5 0 1.5 .6 1.5 0 1.5 .1 1.5-.3 1.5-.3 1.5-.1 1.5 .7 1.5 .3 1.5 0 1.5 1.1 1.5 .1 1.5 0 1.5 0 1.5 0 1.5 0 1.5-.2 1.5-.4 1.5-.6 1.5 .3 1.5-.1 1.5 .3 1.5-1.1 1.5-.2 1.5-.8 1.5 1 1.5-1 1.5 .2 1.5-1.3 1.5-.2 1.5 .7 1.5-.6 1.5-.7 1.5 .2 1.5-.3 1.5 0 1.5 .7 1.5 .1 1.5-.9 1.5 .8 1.5 .6 1.5-1.1 1.5 1.3 1.5-.5 1.5 .2 1.4-.8 1.5 .2 1.5 .2 1.5 1.4 1.5-.9 1.5 1.3 1.5-.7 1.5-.3 1.5 .2 1.5-.2 1.5-.7 1.5 .2 1.5 .2 1.5 .2 1.5 0 1.5-.5 1.5-.7 1.5 .6 1.5 .7 1.5 0 1.5 .1 1.5-.5 1.5-.4 1.5-.4 1.5 .8 1.5-.1 1.5 .5 1.5 1.2 1.5-1.9 1.5 1 1.5-.2 1.5 .1 1.5 0 1.5-.4 1.5 .5 1.5-.5 1.5-.3 1.5 1.1 1.5-1.8 1.5 1.6 1.5-1 1.5 0 1.5 .3 1.5-.5 1.5 .6 1.5 .1 1.5-.9 1.5 .7 1.5-.4 1.4-.8 1.5 .8 1.5 .4 1.5-.4 1.5-.1 1.5 .6 1.5 .2 1.5-.4 1.5 .5 1.5 .2 1.5-.7 1.5 .1 1.5 .9 1.5 0 1.5-1.1 1.5-.3 1.5 1 1.5-.4 1.5-1 1.5 1.7 1.5-1 1.5 .8 1.5-.5 1.5 .1 1.5-.8 1.5 .5 1.5-.2 1.5 .3 1.5-.9 1.5 .4 1.5 .3 1.5-1 1.5 1.1 1.5-.6 1.5 .2 1.5 .3 1.5-.6 1.5 .7 1.5-1.4 1.5 .4 1.5 .8 1.5 .3 1.5-.4 1.5-.2 1.5 .2 1.5 .8 1.5-.4 1.5-.9 1.5 1.2 1.5-.7 1.5 .3 1.4-.2 1.5-.4 1.5 .4 1.5 .3 1.5-.1 1.5-.1 1.5-.3 1.5-.1 1.5 .7 1.5-.8 1.5 .9 1.5-.8 1.5 .6 1.5 .4 1.5-1.2 1.5 .3 1.5 .7 1.5 .1 1.5-.5 1.5 .1 1.5-.3 1.5 .3 1.5-.5 1.5-.2 1.5 1.3 1.5-.7 1.5 .3 1.5-1.1 1.5 1.7 1.5-2.5 1.5 2 1.5-.1 1.5-.5 1.5 .3 1.5 .7 1.5-1 1.5 .7 1.5-1.3 1.5 .1 1.5-.3 1.5 .4 1.5 .5 1.5-.8 1.5 0 1.5 .5 1.5-.1 1.5 0 1.5-.2 1.5 .5 1.4-.3 1.5-.6 1.5 .9 1.5-.5 1.5-.1 1.5 .1 1.5-.6 1.5 .7 1.5 .6 1.5 .2 1.5-.1 1.5-.6 1.5 .6 1.5-.4 1.5 1 1.5-.3" fill="none" stroke="#2c9a4a" stroke-width="1.7" stroke-linejoin="round" />
<path d="M1646.3 753.1l1 1.2 1-.1 1 .3 1 0 1-1.3 1 .3 1 .3 1 .4 1-.5 1-.1 1 .9 1-.6 1 .5 1-1.1 1 .1 1 .8 1-.4 1 0 1 .6 1-1.1 .9 .5 1 .4 1-.1 1 1.1 1-.9 1 .4 1-.2 1 .2 1-.6 1-.6 1 1.3 1-.1 1 .4 1-.7 1 0 1 1 1-1.2 1 .3 1-.3 1 .3 1-.1 1-.9 1 .8 1 1 1-.5 1-.4 1-.4 1 .7 1-.2 1 .4 1 0 1-1.2 1 1.3 1-.1 1-.2 1-.2 1 .4 1-1.7 1.5 .5 1.5-.2 1.5 .9 1.5-1.3 1.5 1.5 1.5-.3 1.5-.8 1.5 0 1.5 .3 1.5-.5 1.5 .6 1.5-.4 1.5 .5 1.5-1 1.5 .7 1.5-.7 1.5 .7 1.5 0 1.5-.4 1.5-.4 1.5 0 1.5-.4 1.5-.5 1.5 .4 1.4 1 1.5-.3 1.5 .4 1.5-.4 1.5-.3 1.5 1 1.5-.4 1.5-.5 1.5 .3 1.5 .6 1.5 .5 1.5-.6 1.5-.5 1.5 .2 1.5 1 1.5-.4 1.5 1.4 1.5 0 1.5 0 1.5 0 1.5 0 1.5-.3 1.5-1.7 1.5 1.7 1.5-.4 1.5-.3 1.5-.3 1.5 .5 1.5 .1 1.5-1.1 1.5-.4 1.5 .1 1.5-.4 1.5 0 1.5-.7 1.5 .1 1.5-.3 1.5 .6 1.5-.9 1.5 .6 1.5-.6 1.5-1.3 1.5 1.3 1.5-.5 1.5 .7 1.5-1.1 1.5 .3 1.5 .6 1.5-.5 1.5 .7 1.5-.4 1.4 1.1 1.5-1 1.5 .5 1.5-.3 1.5 .1 1.5 .3 1.5-.3 1.5 0 1.5 .2 1.5 0 1.5-.2 1.5-1.3 1.5-.1 1.5 .2 1.5 .4 1.5-.2 1.5-.2 1.5-.2 1.5 .1 1.5-.1 1.5 .2 1.5-.3 1.5 1.7 1.5-.9 1.5 .1 1.5 .9 1.5-.3 1.5-.2 1.5 .2 1.5 .4 1.5 .1 1.5-.3 1.5 .3 1.5-.1 1.5 .3 1.5 .8 1.5-.4 1.5-.2 1.5 .1 1.5 .6 1.5-1.6 1.5 1.2 1.5-.4 1.5 .1 1.5-.3 1.5 .1 1.5-.7 1.5 1.1 1.5 .6 1.4-1.2 1.5 1.3 1.5-.8 1.5-.4 1.5 .1 1.5 0 1.5 .3 1.5-.5 1.5-.6 1.5 1.4 1.5 0 1.5-.6 1.5 1 1.5-1.2 1.5 .4 1.5 .7 1.5-1.4 1.5 .2 1.5 .3 1.5-.5 1.5 0 1.5 .3 1.5 .3 1.5-.1 1.5-.3 1.5 .1 1.5 0 1.5 .2 1.5 .3 1.5-.2 1.5-.2 1.5-.2 1.5 .7 1.5-.7 1.5-.2 1.5-.2 1.5 .1 1.5-.4 1.5 .4 1.5 .5 1.5 0 1.5-.3 1.5-.1 1.5-.1 1.5 .1 1.5-.3 1.5 .6 1.5-.7 1.5 .6 1.5-.2 1.5-.8 1.4 .2 1.5 .4 1.5 .4 1.5-.4 1.5 .4 1.5 .2 1.5-.6 1.5-.4 1.5 .4 1.5-.2 1.5 .5 1.5-1.4 1.5 .9 1.5-.4 1.5 .1 1.5-.2 1.5 .4 1.5-.1 1.5-.1 1.5-.9 1.5 .3 1.5-.1 1.5 .5 1.5-.3 1.5-.1 1.5 .2 1.5 .6 1.5-1.1 1.5 0 1.5 .1 1.5 .5 1.5-.2 1.5 0 1.5-.2 1.5 0 1.5 .5 1.5 .4 1.5-.7 1.5-.3 1.5 .2 1.5-.1 1.5-.6 1.5 .3 1.5-.1 1.5 .4 1.5 .1 1.5-1 1.5-1.3 1.5 1.5 1.4 .1 1.5-.7 1.5 .1 1.5-.2 1.5-.2 1.5-.3 1.5 .4 1.5 .8 1.5 .3 1.5-.1 1.5 0 1.5 0 1.5 .3 1.5-.9 1.5 .1 1.5 .5" fill="none" stroke="#de2a7b" stroke-width="1.7" stroke-linejoin="round" />
<path d="M1646.3 754.5l1 .2 1-.5 1 .8 1-.9 1 .4 1-.3 1-.1 1 .4 1-.3 1 .7 1-1.1 1 .1 1 .9 1-1.4 1 .6 1 .4 1-.2 1 .1 1-.4 1 .3 .9-.2 1 1.1 1-.6 1-.5 1 1.4 1-.8 1-.4 1-.4 1 .5 1 0 1 .1 1 .3 1-.2 1 .7 1-.1 1-.4 1 .2 1-1.2 1 1.6 1-1 1 .3 1 .4 1-.3 1-.5 1 .7 1 .2 1-.2 1 .3 1 0 1-.4 1 0 1-.2 1 .2 1-.1 1 .3 1-.2 1-.4 1-.8 1.5 0 1.5 .2 1.5 .1 1.5-1.4 1.5 1 1.5-.5 1.5 .4 1.5 .3 1.5-.8 1.5 1 1.5 .2 1.5-.1 1.5-.4 1.5 .4 1.5-.3 1.5 .4 1.5 .2 1.5 .6 1.5-1.1 1.5 .2 1.5 .6 1.5-.8 1.5 .7 1.5-.1 1.4-.3 1.5-.4 1.5 .4 1.5 0 1.5 .1 1.5-.7 1.5-.1 1.5-.2 1.5 .6 1.5-.9 1.5 .6 1.5 0 1.5 .7 1.5-.2 1.5-.5 1.5 .9 1.5 1 1.5 0 1.5 0 1.5 0 1.5 0 1.5 0 1.5 0 1.5 0 1.5 0 1.5 0 1.5-.1 1.5-.4 1.5-.5 1.5-.6 1.5-.5 1.5-.1 1.5 .4 1.5-1.1 1.5 .1 1.5 1 1.5-1.3 1.5 .4 1.5-.7 1.5 .3 1.5-.6 1.5-.1 1.5 .6 1.5-.2 1.5 .2 1.5-.3 1.5 0 1.5 .3 1.5-.7 1.5 .8 1.5 .3 1.4-.3 1.5-.2 1.5 .7 1.5 .4 1.5-.8 1.5-.6 1.5 .4 1.5 .3 1.5-.1 1.5 .3 1.5-.3 1.5-.1 1.5-.2 1.5 .7 1.5-.7 1.5 .5 1.5-1.3 1.5 .1 1.5 1.2 1.5-1 1.5-.4 1.5 1.3 1.5-.8 1.5-.4 1.5 .3 1.5-.2 1.5 .5 1.5-.4 1.5-.7 1.5 .8 1.5 .5 1.5-.4 1.5 .8 1.5-.6 1.5-.7 1.5 .6 1.5 0 1.5-.4 1.5 .8 1.5-.7 1.5 .8 1.5 .5 1.5-1 1.5 .6 1.5 .1 1.5 .6 1.5-.2 1.5 .4 1.5-.9 1.4-.2 1.5 1.2 1.5-.9 1.5 .2 1.5 .2 1.5-.3 1.5 1.6 1.5-1.4 1.5 .2 1.5-.3 1.5 1.1 1.5-.4 1.5-.2 1.5 .5 1.5-.2 1.5-.3 1.5 .5 1.5-1.6 1.5 .2 1.5 .3 1.5-.1 1.5 .1 1.5 .2 1.5-.7 1.5 .1 1.5-.1 1.5-.2 1.5 0 1.5 0 1.5-.3 1.5 .6 1.5 .1 1.5-.1 1.5 .2 1.5-.4 1.5-.3 1.5 1.1 1.5-.9 1.5-.7 1.5 .5 1.5-.1 1.5 .2 1.5 1.2 1.5-1.4 1.5 0 1.5-.1 1.5-.1 1.5 .7 1.5-.4 1.5 .7 1.5-.9 1.4 .5 1.5 .2 1.5-.6 1.5 .6 1.5-.1 1.5 0 1.5-.2 1.5 .3 1.5-.6 1.5 1.3 1.5 .3 1.5-.6 1.5-.5 1.5 .2 1.5 .1 1.5-.1 1.5-.7 1.5 .7 1.5-.3 1.5 .1 1.5 .3 1.5-.3 1.5 .1 1.5-.7 1.5 .5 1.5-.2 1.5 .6 1.5 .1 1.5-.4 1.5 .3 1.5-.5 1.5 0 1.5 .2 1.5-.2 1.5 .6 1.5-.3 1.5-.5 1.5 .4 1.5-.1 1.5 .3 1.5-.3 1.5-.5 1.5 1.2 1.5-.8 1.5-.3 1.5 .4 1.5 .7 1.5-1.1 1.5 .2 1.4 .2 1.5 .2 1.5-.6 1.5 .5 1.5-.6 1.5 1.4 1.5-.4 1.5-.8 1.5-.4 1.5 .4 1.5 .2 1.5-.2 1.5-.1 1.5 .4 1.5 0 1.5 .2" fill="none" stroke="#808285" stroke-width="2.2" stroke-linejoin="round" />
<path d="M1655.3 753.7l1.5-.6 .5-3.9 1.5 4.5" fill="none" stroke="#8d3ea9" stroke-width="1.5" stroke-linejoin="round" />
<path d="M1707.2 753.1l1.5-4.5 .5 .6 2 3.9" fill="none" stroke="#8d3ea9" stroke-width="1.8" stroke-linejoin="round" />
<text x="-2.5" y="878.5" font-size="54" font-weight="bold">c</text>
<text x="128.5" y="928.0" font-size="34">IC</text>
<text x="164.0" y="939.5" font-size="19.5">50</text>
<text x="196.5" y="928.0" font-size="34">FT671</text>
<line x1="183.55" y1="986.55" x2="183.55" y2="1325.40" stroke="#000" stroke-width="2.3" stroke-linecap="butt"/>
<line x1="182.40" y1="1324.25" x2="603.75" y2="1324.25" stroke="#000" stroke-width="2.3" stroke-linecap="butt"/>
<line x1="174.05" y1="1324.21" x2="183.55" y2="1324.21" stroke="#000" stroke-width="2.3" stroke-linecap="butt"/>
<text x="164.0" y="1333.7" font-size="35.7" text-anchor="end">-20</text>
<line x1="174.05" y1="1276.10" x2="183.55" y2="1276.10" stroke="#000" stroke-width="2.3" stroke-linecap="butt"/>
<text x="164.0" y="1285.6" font-size="35.7" text-anchor="end">0</text>
<line x1="174.05" y1="1227.99" x2="183.55" y2="1227.99" stroke="#000" stroke-width="2.3" stroke-linecap="butt"/>
<text x="164.0" y="1237.5" font-size="35.7" text-anchor="end">20</text>
<line x1="174.05" y1="1179.88" x2="183.55" y2="1179.88" stroke="#000" stroke-width="2.3" stroke-linecap="butt"/>
<text x="164.0" y="1189.4" font-size="35.7" text-anchor="end">40</text>
<line x1="174.05" y1="1131.76" x2="183.55" y2="1131.76" stroke="#000" stroke-width="2.3" stroke-linecap="butt"/>
<text x="164.0" y="1141.3" font-size="35.7" text-anchor="end">60</text>
<line x1="174.05" y1="1083.65" x2="183.55" y2="1083.65" stroke="#000" stroke-width="2.3" stroke-linecap="butt"/>
<text x="164.0" y="1093.2" font-size="35.7" text-anchor="end">80</text>
<line x1="174.05" y1="1035.54" x2="183.55" y2="1035.54" stroke="#000" stroke-width="2.3" stroke-linecap="butt"/>
<text x="164.0" y="1045.0" font-size="35.7" text-anchor="end">100</text>
<line x1="174.05" y1="987.43" x2="183.55" y2="987.43" stroke="#000" stroke-width="2.3" stroke-linecap="butt"/>
<text x="164.0" y="996.9" font-size="35.7" text-anchor="end">120</text>
<line x1="183.60" y1="1324.25" x2="183.60" y2="1334.25" stroke="#000" stroke-width="2.3" stroke-linecap="butt"/>
<text x="182.3" y="1371.7" font-size="34" text-anchor="middle">0.1</text>
<line x1="309.80" y1="1324.25" x2="309.80" y2="1334.25" stroke="#000" stroke-width="2.3" stroke-linecap="butt"/>
<text x="306.0" y="1371.7" font-size="34" text-anchor="middle">10</text>
<line x1="436.00" y1="1324.25" x2="436.00" y2="1334.25" stroke="#000" stroke-width="2.3" stroke-linecap="butt"/>
<text x="440.3" y="1371.7" font-size="34" text-anchor="middle">1000</text>
<line x1="562.20" y1="1324.25" x2="562.20" y2="1334.25" stroke="#000" stroke-width="2.3" stroke-linecap="butt"/>
<text x="576.5" y="1371.7" font-size="34" text-anchor="middle">100,000</text>
<text x="386.8" y="1434.0" font-size="35.2" text-anchor="middle">[FT671] (nM)</text>
<text x="84.0" y="1145.0" font-size="34.5" text-anchor="middle" transform="rotate(-90 84.0 1145.0)">% Inhibition</text>
<path d="M208.2 1272.5l3-.2 3-.1 3-.2 2.9-.2 3-.2 3-.2 2.9-.2 3-.3 3-.3 3-.4 2.9-.3 3-.4 3-.5 2.9-.5 3-.5 3-.6 3-.7 2.9-.7 3-.8 3-.9 2.9-1 3-1.1 3-1.1 2.9-1.3 3-1.4 3-1.6 3-1.6 2.9-1.9 3-2 3-2.1 2.9-2.4 3-2.5 3-2.8 2.9-3 3-3.1 3-3.4 3-3.7 2.9-3.9 3-4.1 3-4.3 2.9-4.6 3-4.8 3-5 3-5.2 2.9-5.4 3-5.6 3-5.6 2.9-5.9 3-5.8 3-6 3-5.9 2.9-6 3-5.9 3-5.8 2.9-5.8 3-5.6 3-5.5 2.9-5.3 3-5.1 3-4.8 3-4.7 2.9-4.5 3-4.2 3-4 2.9-3.7 3-3.5 3-3.3 2.9-3 3-2.9 3-2.6 3-2.4 2.9-2.3 3-2.1 3-1.9 2.9-1.7 3-1.6 3-1.5 3-1.3 2.9-1.2 3-1.1 3-1.1 2.9-.9 3-.8 3-.8 3-.7 2.9-.6 3-.6 3-.5 2.9-.5 3-.4 3-.4 2.9-.3 3-.3 3-.3 3-.3 2.9-.2 3-.2 3-.2 2.9-.2 3-.1 3-.2 2.9-.1 3-.1 3-.1 3-.1 2.9-.1 3-.1 3 0 2.9-.1 3 0 3-.1 3 0 2.9-.1 3 0 3-.1 2.9 0 3 0 3 0 3-.1" fill="none" stroke="#000" stroke-width="2.0" stroke-linejoin="round" />
<path d="M208.2 1281l3-.2 3-.2 3-.1 2.9-.3 3-.2 3-.2 2.9-.3 3-.3 3-.4 3-.3 2.9-.4 3-.5 3-.5 2.9-.6 3-.6 3-.6 3-.8 2.9-.8 3-.9 3-1 2.9-1.1 3-1.2 3-1.3 2.9-1.4 3-1.6 3-1.7 3-1.9 2.9-2 3-2.2 3-2.4 2.9-2.6 3-2.9 3-3 2.9-3.2 3-3.5 3-3.8 3-3.9 2.9-4.2 3-4.5 3-4.7 2.9-4.9 3-5.2 3-5.4 3-5.5 2.9-5.7 3-5.9 3-6 2.9-6.1 3-6.2 3-6.2 3-6.1 2.9-6.2 3-6.1 3-5.9 2.9-5.9 3-5.7 3-5.5 2.9-5.3 3-5.2 3-4.9 3-4.6 2.9-4.4 3-4.2 3-3.9 2.9-3.7 3-3.5 3-3.2 2.9-3 3-2.7 3-2.6 3-2.4 2.9-2.2 3-2 3-1.8 2.9-1.7 3-1.5 3-1.5 3-1.2 2.9-1.2 3-1.1 3-1 2.9-.9 3-.8 3-.7 3-.7 2.9-.6 3-.5 3-.5 2.9-.4 3-.5 3-.3 2.9-.4 3-.3 3-.2 3-.3 2.9-.2 3-.2 3-.2 2.9-.1 3-.2 3-.1 2.9-.1 3-.2 3-.1 3 0 2.9-.1 3-.1 3-.1 2.9 0 3-.1 3 0 3-.1 2.9 0 3 0 3-.1 2.9 0 3 0 3 0 3-.1" fill="none" stroke="#000" stroke-width="2.0" stroke-linejoin="round" />
<rect x="203.0" y="1282.2" width="10.5" height="10.5" fill="#000"/>
<rect x="241.5" y="1287.8" width="10.5" height="10.5" fill="#000"/>
<rect x="271.0" y="1268.0" width="10.5" height="10.5" fill="#000"/>
<rect x="301.5" y="1212.8" width="10.5" height="10.5" fill="#000"/>
<rect x="301.5" y="1225.2" width="10.5" height="10.5" fill="#000"/>
<rect x="301.5" y="1241.0" width="10.5" height="10.5" fill="#000"/>
<rect x="331.8" y="1150.2" width="10.5" height="10.5" fill="#000"/>
<rect x="331.8" y="1218.5" width="10.5" height="10.5" fill="#000"/>
<rect x="331.8" y="1229.8" width="10.5" height="10.5" fill="#000"/>
<rect x="362.0" y="1081.0" width="10.5" height="10.5" fill="#000"/>
<rect x="362.0" y="1154.0" width="10.5" height="10.5" fill="#000"/>
<rect x="362.0" y="1178.0" width="10.5" height="10.5" fill="#000"/>
<rect x="394.8" y="1076.8" width="10.5" height="10.5" fill="#000"/>
<rect x="394.8" y="1096.8" width="10.5" height="10.5" fill="#000"/>
<rect x="394.8" y="1087.8" width="10.5" height="10.5" fill="#000"/>
<rect x="424.8" y="1037.2" width="10.5" height="10.5" fill="#000"/>
<rect x="424.8" y="1041.0" width="10.5" height="10.5" fill="#000"/>
<rect x="455.2" y="1034.2" width="10.5" height="10.5" fill="#000"/>
<rect x="455.2" y="1038.5" width="10.5" height="10.5" fill="#000"/>
<rect x="485.5" y="1031.0" width="10.5" height="10.5" fill="#000"/>
<rect x="485.5" y="1046.5" width="10.5" height="10.5" fill="#000"/>
<rect x="485.5" y="1034.8" width="10.5" height="10.5" fill="#000"/>
<rect x="518.5" y="1031.8" width="10.5" height="10.5" fill="#000"/>
<rect x="518.5" y="1036.0" width="10.5" height="10.5" fill="#000"/>
<rect x="556.5" y="1055.5" width="10.5" height="10.5" fill="#000"/>
<rect x="556.5" y="1034.8" width="10.5" height="10.5" fill="#000"/>
<path d="M201.8 1281.2L208.2 1269.8L214.8 1281.2Z" fill="#fff" stroke="#000" stroke-width="1.9" stroke-linejoin="miter"/>
<path d="M201.8 1291.7L208.2 1280.3L214.8 1291.7Z" fill="#fff" stroke="#000" stroke-width="1.9" stroke-linejoin="miter"/>
<path d="M240.2 1276.2L246.8 1264.8L253.2 1276.2Z" fill="#fff" stroke="#000" stroke-width="1.9" stroke-linejoin="miter"/>
<path d="M240.2 1287.4L246.8 1276.1L253.2 1287.4Z" fill="#fff" stroke="#000" stroke-width="1.9" stroke-linejoin="miter"/>
<path d="M269.8 1261.2L276.2 1249.8L282.8 1261.2Z" fill="#fff" stroke="#000" stroke-width="1.9" stroke-linejoin="miter"/>
<path d="M269.8 1269.2L276.2 1257.8L282.8 1269.2Z" fill="#fff" stroke="#000" stroke-width="1.9" stroke-linejoin="miter"/>
<path d="M300.2 1239.9L306.8 1228.6L313.2 1239.9Z" fill="#fff" stroke="#000" stroke-width="1.9" stroke-linejoin="miter"/>
<path d="M300.2 1255.7L306.8 1244.3L313.2 1255.7Z" fill="#fff" stroke="#000" stroke-width="1.9" stroke-linejoin="miter"/>
<path d="M330.5 1191.7L337.0 1180.3L343.5 1191.7Z" fill="#fff" stroke="#000" stroke-width="1.9" stroke-linejoin="miter"/>
<path d="M330.5 1206.9L337.0 1195.6L343.5 1206.9Z" fill="#fff" stroke="#000" stroke-width="1.9" stroke-linejoin="miter"/>
<path d="M330.5 1249.2L337.0 1237.8L343.5 1249.2Z" fill="#fff" stroke="#000" stroke-width="1.9" stroke-linejoin="miter"/>
<path d="M360.8 1101.2L367.2 1089.8L373.8 1101.2Z" fill="#fff" stroke="#000" stroke-width="1.9" stroke-linejoin="miter"/>
<path d="M360.8 1153.7L367.2 1142.3L373.8 1153.7Z" fill="#fff" stroke="#000" stroke-width="1.9" stroke-linejoin="miter"/>
<path d="M360.8 1196.7L367.2 1185.3L373.8 1196.7Z" fill="#fff" stroke="#000" stroke-width="1.9" stroke-linejoin="miter"/>
<path d="M393.5 1061.7L400.0 1050.3L406.5 1061.7Z" fill="#fff" stroke="#000" stroke-width="1.9" stroke-linejoin="miter"/>
<path d="M393.5 1098.2L400.0 1086.8L406.5 1098.2Z" fill="#fff" stroke="#000" stroke-width="1.9" stroke-linejoin="miter"/>
<path d="M393.5 1114.2L400.0 1102.8L406.5 1114.2Z" fill="#fff" stroke="#000" stroke-width="1.9" stroke-linejoin="miter"/>
<path d="M423.5 1051.2L430.0 1039.8L436.5 1051.2Z" fill="#fff" stroke="#000" stroke-width="1.9" stroke-linejoin="miter"/>
<path d="M423.5 1061.7L430.0 1050.3L436.5 1061.7Z" fill="#fff" stroke="#000" stroke-width="1.9" stroke-linejoin="miter"/>
<path d="M423.5 1078.2L430.0 1066.8L436.5 1078.2Z" fill="#fff" stroke="#000" stroke-width="1.9" stroke-linejoin="miter"/>
<path d="M454.0 1050.7L460.5 1039.3L467.0 1050.7Z" fill="#fff" stroke="#000" stroke-width="1.9" stroke-linejoin="miter"/>
<path d="M454.0 1054.9L460.5 1043.6L467.0 1054.9Z" fill="#fff" stroke="#000" stroke-width="1.9" stroke-linejoin="miter"/>
<path d="M484.2 1049.9L490.8 1038.6L497.2 1049.9Z" fill="#fff" stroke="#000" stroke-width="1.9" stroke-linejoin="miter"/>
<path d="M484.2 1051.2L490.8 1039.8L497.2 1051.2Z" fill="#fff" stroke="#000" stroke-width="1.9" stroke-linejoin="miter"/>
<path d="M517.2 1048.7L523.8 1037.3L530.2 1048.7Z" fill="#fff" stroke="#000" stroke-width="1.9" stroke-linejoin="miter"/>
<path d="M517.2 1056.2L523.8 1044.8L530.2 1056.2Z" fill="#fff" stroke="#000" stroke-width="1.9" stroke-linejoin="miter"/>
<path d="M517.2 1052.4L523.8 1041.1L530.2 1052.4Z" fill="#fff" stroke="#000" stroke-width="1.9" stroke-linejoin="miter"/>
<path d="M555.2 1043.7L561.8 1032.3L568.2 1043.7Z" fill="#fff" stroke="#000" stroke-width="1.9" stroke-linejoin="miter"/>
<path d="M555.2 1049.9L561.8 1038.6L568.2 1049.9Z" fill="#fff" stroke="#000" stroke-width="1.9" stroke-linejoin="miter"/>
<path d="M555.2 1071.7L561.8 1060.3L568.2 1071.7Z" fill="#fff" stroke="#000" stroke-width="1.9" stroke-linejoin="miter"/>
<path d="M555.2 1051.2L561.8 1039.8L568.2 1051.2Z" fill="#fff" stroke="#000" stroke-width="1.9" stroke-linejoin="miter"/>
<path d="M786.6 1024.1L794.0 1010.9L801.4 1024.1Z" fill="#fff" stroke="#000" stroke-width="2.1" stroke-linejoin="miter"/>
<rect x="784.80" y="1099.40" width="18.00" height="18.00" fill="#231f20"/>
<text x="838.0" y="1027.2" font-size="34">USP7</text>
<text x="929.5" y="1038.2" font-size="21">C-term</text>
<text x="1011.5" y="1027.2" font-size="35.5">69 (39-120) nM</text>
<text x="838.0" y="1118.8" font-size="34">USP7</text>
<text x="929.5" y="1130.1" font-size="21">CD</text>
<text x="1027.5" y="1118.8" font-size="35.5">52 (29-94) nM</text>
<text x="-3.0" y="1540.3" font-size="54" font-weight="bold">d</text>
<text x="44.5" y="1578.2" font-size="34.3">USP7</text>
<text x="137.5" y="1589.6" font-size="20.5">C-term</text>
<text x="210.5" y="1578.2" font-size="34.6">with FT827</text>
<line x1="197.30" y1="1647.55" x2="197.30" y2="2099.85" stroke="#000" stroke-width="2.5" stroke-linecap="butt"/>
<line x1="196.05" y1="2098.60" x2="873.25" y2="2098.60" stroke="#000" stroke-width="2.5" stroke-linecap="butt"/>
<line x1="184.30" y1="2098.60" x2="197.30" y2="2098.60" stroke="#000" stroke-width="2.5" stroke-linecap="butt"/>
<text x="173.5" y="2113.2" font-size="35.7" text-anchor="end">2000</text>
<line x1="184.30" y1="1986.15" x2="197.30" y2="1986.15" stroke="#000" stroke-width="2.5" stroke-linecap="butt"/>
<text x="173.5" y="2000.7" font-size="35.7" text-anchor="end">4000</text>
<line x1="184.30" y1="1873.70" x2="197.30" y2="1873.70" stroke="#000" stroke-width="2.5" stroke-linecap="butt"/>
<text x="173.5" y="1888.3" font-size="35.7" text-anchor="end">6000</text>
<line x1="184.30" y1="1761.25" x2="197.30" y2="1761.25" stroke="#000" stroke-width="2.5" stroke-linecap="butt"/>
<text x="173.5" y="1775.8" font-size="35.7" text-anchor="end">8000</text>
<line x1="184.30" y1="1648.80" x2="197.30" y2="1648.80" stroke="#000" stroke-width="2.5" stroke-linecap="butt"/>
<text x="173.5" y="1663.4" font-size="35.7" text-anchor="end">10000</text>
<line x1="197.30" y1="2098.60" x2="197.30" y2="2111.60" stroke="#000" stroke-width="2.5" stroke-linecap="butt"/>
<text x="197.3" y="2153.0" font-size="35.7" text-anchor="middle">0</text>
<line x1="309.75" y1="2098.60" x2="309.75" y2="2111.60" stroke="#000" stroke-width="2.5" stroke-linecap="butt"/>
<text x="309.8" y="2153.0" font-size="35.7" text-anchor="middle">600</text>
<line x1="422.20" y1="2098.60" x2="422.20" y2="2111.60" stroke="#000" stroke-width="2.5" stroke-linecap="butt"/>
<text x="422.2" y="2153.0" font-size="35.7" text-anchor="middle">1200</text>
<line x1="534.65" y1="2098.60" x2="534.65" y2="2111.60" stroke="#000" stroke-width="2.5" stroke-linecap="butt"/>
<text x="534.7" y="2153.0" font-size="35.7" text-anchor="middle">1800</text>
<line x1="647.10" y1="2098.60" x2="647.10" y2="2111.60" stroke="#000" stroke-width="2.5" stroke-linecap="butt"/>
<text x="647.1" y="2153.0" font-size="35.7" text-anchor="middle">2400</text>
<line x1="759.55" y1="2098.60" x2="759.55" y2="2111.60" stroke="#000" stroke-width="2.5" stroke-linecap="butt"/>
<text x="759.5" y="2153.0" font-size="35.7" text-anchor="middle">3000</text>
<line x1="872.00" y1="2098.60" x2="872.00" y2="2111.60" stroke="#000" stroke-width="2.5" stroke-linecap="butt"/>
<text x="872.0" y="2153.0" font-size="35.7" text-anchor="middle">3600</text>
<text x="529.0" y="2203.5" font-size="35.7" text-anchor="middle">Time (s)</text>
<text x="77.3" y="1858.5" font-size="34.5" text-anchor="middle" transform="rotate(-90 77.3 1858.5)">RFU</text>
<path d="M197.3 2072.9l17.3-1.1 17.3-1 17.3-1.1 17.3-1 17.3-.9 17.3-1 17.3-.9 17.3-.9 17.3-.9 17.3-.9 17.3-.8 17.3-.8 17.3-.8 17.3-.7 17.3-.8 17.3-.7 17.3-.6 17.3-.7 17.3-.6 17.3-.6 17.3-.6 17.3-.5 17.3-.6 17.3-.5 17.3-.4 17.3-.5 17.3-.4 17.3-.4 17.3-.4 17.3-.3 17.3-.4 17.3-.3 17.3-.2 17.3-.3 17.3-.2 17.3-.2 17.3-.2 17.3-.1 17.3-.1" fill="none" stroke="#a9a9ae" stroke-width="1.9" stroke-linejoin="round" />
<g fill="#a9a9ae"><circle cx="197.3" cy="2071.8" r="5.5"/><circle cx="212.7" cy="2073.7" r="5.5"/><circle cx="228.0" cy="2072.7" r="5.5"/><circle cx="243.4" cy="2071.3" r="5.5"/><circle cx="258.7" cy="2068.9" r="5.5"/><circle cx="274.1" cy="2068.5" r="5.5"/><circle cx="289.5" cy="2066.7" r="5.5"/><circle cx="304.8" cy="2066.7" r="5.5"/><circle cx="320.2" cy="2066.1" r="5.5"/><circle cx="335.5" cy="2066.1" r="5.5"/><circle cx="350.9" cy="2063.2" r="5.5"/><circle cx="366.3" cy="2065.3" r="5.5"/><circle cx="381.6" cy="2061.3" r="5.5"/><circle cx="397.0" cy="2064.5" r="5.5"/><circle cx="412.3" cy="2062.6" r="5.5"/><circle cx="427.7" cy="2061.5" r="5.5"/><circle cx="443.1" cy="2058.8" r="5.5"/><circle cx="458.4" cy="2058.3" r="5.5"/><circle cx="473.8" cy="2060.0" r="5.5"/><circle cx="489.2" cy="2058.2" r="5.5"/><circle cx="504.5" cy="2059.2" r="5.5"/><circle cx="519.9" cy="2055.1" r="5.5"/><circle cx="535.2" cy="2055.5" r="5.5"/><circle cx="550.6" cy="2056.0" r="5.5"/><circle cx="566.0" cy="2055.5" r="5.5"/><circle cx="581.3" cy="2056.3" r="5.5"/><circle cx="596.7" cy="2055.1" r="5.5"/><circle cx="612.0" cy="2056.0" r="5.5"/><circle cx="627.4" cy="2052.6" r="5.5"/><circle cx="642.8" cy="2052.5" r="5.5"/><circle cx="658.1" cy="2058.3" r="5.5"/><circle cx="673.5" cy="2053.3" r="5.5"/><circle cx="688.8" cy="2051.0" r="5.5"/><circle cx="704.2" cy="2049.2" r="5.5"/><circle cx="719.6" cy="2051.2" r="5.5"/><circle cx="734.9" cy="2053.3" r="5.5"/><circle cx="750.3" cy="2050.8" r="5.5"/><circle cx="765.6" cy="2049.7" r="5.5"/><circle cx="781.0" cy="2051.7" r="5.5"/><circle cx="796.4" cy="2049.0" r="5.5"/><circle cx="811.7" cy="2047.9" r="5.5"/><circle cx="827.1" cy="2048.3" r="5.5"/><circle cx="842.4" cy="2054.2" r="5.5"/><circle cx="857.8" cy="2047.2" r="5.5"/></g>
<path d="M197.3 2080.6l17.3-1.8 17.3-1.6 17.3-1.7 17.3-1.6 17.3-1.6 17.3-1.6 17.3-1.5 17.3-1.5 17.3-1.5 17.3-1.5 17.3-1.4 17.3-1.4 17.3-1.4 17.3-1.3 17.3-1.3 17.3-1.3 17.3-1.2 17.3-1.2 17.3-1.2 17.3-1.2 17.3-1.1 17.3-1.1 17.3-1.1 17.3-1.1 17.3-1 17.3-1 17.3-.9 17.3-.9 17.3-.9 17.3-.9 17.3-.9 17.3-.8 17.3-.8 17.3-.7 17.3-.7 17.3-.7 17.3-.7 17.3-.7 17.3-.6" fill="none" stroke="#908232" stroke-width="1.9" stroke-linejoin="round" />
<g fill="#908232"><circle cx="197.3" cy="2080.6" r="5.5"/><circle cx="212.7" cy="2076.8" r="5.5"/><circle cx="228.0" cy="2077.5" r="5.5"/><circle cx="243.4" cy="2075.8" r="5.5"/><circle cx="258.7" cy="2076.4" r="5.5"/><circle cx="274.1" cy="2075.1" r="5.5"/><circle cx="289.5" cy="2072.4" r="5.5"/><circle cx="304.8" cy="2071.1" r="5.5"/><circle cx="320.2" cy="2069.0" r="5.5"/><circle cx="335.5" cy="2065.4" r="5.5"/><circle cx="350.9" cy="2066.0" r="5.5"/><circle cx="366.3" cy="2062.3" r="5.5"/><circle cx="381.6" cy="2062.7" r="5.5"/><circle cx="397.0" cy="2061.1" r="5.5"/><circle cx="412.3" cy="2059.0" r="5.5"/><circle cx="427.7" cy="2058.9" r="5.5"/><circle cx="443.1" cy="2060.7" r="5.5"/><circle cx="458.4" cy="2057.1" r="5.5"/><circle cx="473.8" cy="2056.3" r="5.5"/><circle cx="489.2" cy="2055.8" r="5.5"/><circle cx="504.5" cy="2052.9" r="5.5"/><circle cx="519.9" cy="2053.8" r="5.5"/><circle cx="535.2" cy="2050.4" r="5.5"/><circle cx="550.6" cy="2050.2" r="5.5"/><circle cx="566.0" cy="2052.6" r="5.5"/><circle cx="581.3" cy="2050.5" r="5.5"/><circle cx="596.7" cy="2050.1" r="5.5"/><circle cx="612.0" cy="2049.5" r="5.5"/><circle cx="627.4" cy="2050.1" r="5.5"/><circle cx="642.8" cy="2046.6" r="5.5"/><circle cx="658.1" cy="2044.5" r="5.5"/><circle cx="673.5" cy="2045.9" r="5.5"/><circle cx="688.8" cy="2044.1" r="5.5"/><circle cx="704.2" cy="2043.6" r="5.5"/><circle cx="719.6" cy="2041.7" r="5.5"/><circle cx="734.9" cy="2041.8" r="5.5"/><circle cx="750.3" cy="2040.3" r="5.5"/><circle cx="765.6" cy="2039.1" r="5.5"/><circle cx="781.0" cy="2043.2" r="5.5"/><circle cx="796.4" cy="2037.2" r="5.5"/><circle cx="811.7" cy="2036.4" r="5.5"/><circle cx="827.1" cy="2032.6" r="5.5"/><circle cx="842.4" cy="2035.7" r="5.5"/><circle cx="857.8" cy="2038.7" r="5.5"/></g>
<path d="M197.3 2097.5l17.3-3.2 17.3-3.2 17.3-3 17.3-3 17.3-2.9 17.3-2.8 17.3-2.7 17.3-2.7 17.3-2.6 17.3-2.5 17.3-2.4 17.3-2.3 17.3-2.3 17.3-2.2 17.3-2.1 17.3-2 17.3-2 17.3-1.8 17.3-1.8 17.3-1.7 17.3-1.7 17.3-1.5 17.3-1.5 17.3-1.4 17.3-1.3 17.3-1.2 17.3-1.2 17.3-1.1 17.3-1 17.3-.9 17.3-.9 17.3-.7 17.3-.7 17.3-.6 17.3-.6 17.3-.4 17.3-.4 17.3-.3 17.3-.2" fill="none" stroke="#e27d8b" stroke-width="1.9" stroke-linejoin="round" />
<g fill="#e27d8b"><circle cx="197.3" cy="2094.8" r="5.5"/><circle cx="212.7" cy="2096.9" r="5.5"/><circle cx="228.0" cy="2090.1" r="5.5"/><circle cx="243.4" cy="2088.0" r="5.5"/><circle cx="258.7" cy="2084.5" r="5.5"/><circle cx="274.1" cy="2084.5" r="5.5"/><circle cx="289.5" cy="2082.7" r="5.5"/><circle cx="304.8" cy="2080.3" r="5.5"/><circle cx="320.2" cy="2076.7" r="5.5"/><circle cx="335.5" cy="2075.7" r="5.5"/><circle cx="350.9" cy="2066.9" r="5.5"/><circle cx="366.3" cy="2066.9" r="5.5"/><circle cx="381.6" cy="2066.1" r="5.5"/><circle cx="397.0" cy="2061.7" r="5.5"/><circle cx="412.3" cy="2065.1" r="5.5"/><circle cx="427.7" cy="2058.4" r="5.5"/><circle cx="443.1" cy="2052.7" r="5.5"/><circle cx="458.4" cy="2056.4" r="5.5"/><circle cx="473.8" cy="2056.4" r="5.5"/><circle cx="489.2" cy="2051.3" r="5.5"/><circle cx="504.5" cy="2052.9" r="5.5"/><circle cx="519.9" cy="2050.1" r="5.5"/><circle cx="535.2" cy="2046.2" r="5.5"/><circle cx="550.6" cy="2047.5" r="5.5"/><circle cx="566.0" cy="2045.5" r="5.5"/><circle cx="581.3" cy="2044.0" r="5.5"/><circle cx="596.7" cy="2041.6" r="5.5"/><circle cx="612.0" cy="2039.8" r="5.5"/><circle cx="627.4" cy="2038.5" r="5.5"/><circle cx="642.8" cy="2040.8" r="5.5"/><circle cx="658.1" cy="2038.0" r="5.5"/><circle cx="673.5" cy="2037.5" r="5.5"/><circle cx="688.8" cy="2037.1" r="5.5"/><circle cx="704.2" cy="2037.0" r="5.5"/><circle cx="719.6" cy="2040.8" r="5.5"/><circle cx="734.9" cy="2033.8" r="5.5"/><circle cx="750.3" cy="2031.2" r="5.5"/><circle cx="765.6" cy="2029.9" r="5.5"/><circle cx="781.0" cy="2035.6" r="5.5"/><circle cx="796.4" cy="2029.3" r="5.5"/><circle cx="811.7" cy="2032.0" r="5.5"/><circle cx="827.1" cy="2032.6" r="5.5"/><circle cx="842.4" cy="2032.7" r="5.5"/><circle cx="857.8" cy="2031.8" r="5.5"/></g>
<path d="M197.3 2077.5l17.3-4.5 17.3-4.4 17.3-4.4 17.3-4.2 17.3-4.2 17.3-4.1 17.3-4 17.3-3.9 17.3-3.8 17.3-3.8 17.3-3.6 17.3-3.6 17.3-3.5 17.3-3.4 17.3-3.4 17.3-3.2 17.3-3.2 17.3-3 17.3-3 17.3-2.9 17.3-2.8 17.3-2.8 17.3-2.6 17.3-2.6 17.3-2.5 17.3-2.4 17.3-2.3 17.3-2.2 17.3-2.2 17.3-2 17.3-2 17.3-1.9 17.3-1.8 17.3-1.7 17.3-1.7 17.3-1.5 17.3-1.5 17.3-1.4 17.3-1.3" fill="none" stroke="#f2a24c" stroke-width="1.9" stroke-linejoin="round" />
<g fill="#f2a24c"><circle cx="197.3" cy="2078.2" r="5.5"/><circle cx="212.7" cy="2070.4" r="5.5"/><circle cx="228.0" cy="2066.7" r="5.5"/><circle cx="243.4" cy="2061.0" r="5.5"/><circle cx="258.7" cy="2062.3" r="5.5"/><circle cx="274.1" cy="2054.5" r="5.5"/><circle cx="289.5" cy="2055.9" r="5.5"/><circle cx="304.8" cy="2052.5" r="5.5"/><circle cx="320.2" cy="2046.1" r="5.5"/><circle cx="335.5" cy="2041.7" r="5.5"/><circle cx="350.9" cy="2040.3" r="5.5"/><circle cx="366.3" cy="2038.4" r="5.5"/><circle cx="381.6" cy="2034.0" r="5.5"/><circle cx="397.0" cy="2031.7" r="5.5"/><circle cx="412.3" cy="2026.7" r="5.5"/><circle cx="427.7" cy="2026.5" r="5.5"/><circle cx="443.1" cy="2022.2" r="5.5"/><circle cx="458.4" cy="2019.8" r="5.5"/><circle cx="473.8" cy="2015.2" r="5.5"/><circle cx="489.2" cy="2011.4" r="5.5"/><circle cx="504.5" cy="2014.7" r="5.5"/><circle cx="519.9" cy="2009.0" r="5.5"/><circle cx="535.2" cy="2002.9" r="5.5"/><circle cx="550.6" cy="2004.1" r="5.5"/><circle cx="566.0" cy="1999.1" r="5.5"/><circle cx="581.3" cy="1995.3" r="5.5"/><circle cx="596.7" cy="1995.0" r="5.5"/><circle cx="612.0" cy="1993.2" r="5.5"/><circle cx="627.4" cy="1989.5" r="5.5"/><circle cx="642.8" cy="1986.4" r="5.5"/><circle cx="658.1" cy="1984.7" r="5.5"/><circle cx="673.5" cy="1983.0" r="5.5"/><circle cx="688.8" cy="1981.2" r="5.5"/><circle cx="704.2" cy="1981.8" r="5.5"/><circle cx="719.6" cy="1980.3" r="5.5"/><circle cx="734.9" cy="1977.8" r="5.5"/><circle cx="750.3" cy="1973.6" r="5.5"/><circle cx="765.6" cy="1973.8" r="5.5"/><circle cx="781.0" cy="1975.5" r="5.5"/><circle cx="796.4" cy="1970.6" r="5.5"/><circle cx="811.7" cy="1968.7" r="5.5"/><circle cx="827.1" cy="1967.2" r="5.5"/><circle cx="842.4" cy="1964.8" r="5.5"/><circle cx="857.8" cy="1963.7" r="5.5"/></g>
<path d="M197.3 2067.9l17.3-5.6 17.3-5.6 17.3-5.4 17.3-5.5 17.3-5.3 17.3-5.3 17.3-5.2 17.3-5.1 17.3-5 17.3-5 17.3-4.9 17.3-4.9 17.3-4.8 17.3-4.7 17.3-4.6 17.3-4.6 17.3-4.5 17.3-4.4 17.3-4.3 17.3-4.3 17.3-4.2 17.3-4.2 17.3-4 17.3-4 17.3-4 17.3-3.8 17.3-3.8 17.3-3.7 17.3-3.7 17.3-3.6 17.3-3.5 17.3-3.4 17.3-3.4 17.3-3.3 17.3-3.2 17.3-3.1 17.3-3.1 17.3-3 17.3-3" fill="none" stroke="#5fba50" stroke-width="1.9" stroke-linejoin="round" />
<g fill="#5fba50"><circle cx="197.3" cy="2067.4" r="5.5"/><circle cx="212.7" cy="2063.4" r="5.5"/><circle cx="228.0" cy="2056.7" r="5.5"/><circle cx="243.4" cy="2054.3" r="5.5"/><circle cx="258.7" cy="2047.1" r="5.5"/><circle cx="274.1" cy="2043.0" r="5.5"/><circle cx="289.5" cy="2040.6" r="5.5"/><circle cx="304.8" cy="2036.0" r="5.5"/><circle cx="320.2" cy="2028.2" r="5.5"/><circle cx="335.5" cy="2025.3" r="5.5"/><circle cx="350.9" cy="2021.9" r="5.5"/><circle cx="366.3" cy="2010.7" r="5.5"/><circle cx="381.6" cy="2009.0" r="5.5"/><circle cx="397.0" cy="2008.2" r="5.5"/><circle cx="412.3" cy="2003.8" r="5.5"/><circle cx="427.7" cy="2000.9" r="5.5"/><circle cx="443.1" cy="1993.6" r="5.5"/><circle cx="458.4" cy="1990.3" r="5.5"/><circle cx="473.8" cy="1987.0" r="5.5"/><circle cx="489.2" cy="1982.8" r="5.5"/><circle cx="504.5" cy="1979.6" r="5.5"/><circle cx="519.9" cy="1974.1" r="5.5"/><circle cx="535.2" cy="1969.3" r="5.5"/><circle cx="550.6" cy="1969.3" r="5.5"/><circle cx="566.0" cy="1961.4" r="5.5"/><circle cx="581.3" cy="1958.8" r="5.5"/><circle cx="596.7" cy="1959.8" r="5.5"/><circle cx="612.0" cy="1951.3" r="5.5"/><circle cx="627.4" cy="1947.8" r="5.5"/><circle cx="642.8" cy="1940.8" r="5.5"/><circle cx="658.1" cy="1943.7" r="5.5"/><circle cx="673.5" cy="1937.0" r="5.5"/><circle cx="688.8" cy="1935.9" r="5.5"/><circle cx="704.2" cy="1928.6" r="5.5"/><circle cx="719.6" cy="1929.0" r="5.5"/><circle cx="734.9" cy="1928.4" r="5.5"/><circle cx="750.3" cy="1925.0" r="5.5"/><circle cx="765.6" cy="1919.5" r="5.5"/><circle cx="781.0" cy="1918.4" r="5.5"/><circle cx="796.4" cy="1913.9" r="5.5"/><circle cx="811.7" cy="1912.2" r="5.5"/><circle cx="827.1" cy="1912.9" r="5.5"/><circle cx="842.4" cy="1908.9" r="5.5"/><circle cx="857.8" cy="1902.0" r="5.5"/></g>
<path d="M197.3 2066l17.3-7.7 17.3-7.5 17.3-7.6 17.3-7.4 17.3-7.5 17.3-7.3 17.3-7.3 17.3-7.2 17.3-7.2 17.3-7.1 17.3-7.1 17.3-7 17.3-6.9 17.3-6.9 17.3-6.8 17.3-6.8 17.3-6.7 17.3-6.6 17.3-6.6 17.3-6.5 17.3-6.5 17.3-6.4 17.3-6.4 17.3-6.3 17.3-6.2 17.3-6.2 17.3-6.1 17.3-6 17.3-6 17.3-6 17.3-5.8 17.3-5.9 17.3-5.7 17.3-5.7 17.3-5.7 17.3-5.5 17.3-5.6 17.3-5.4 17.3-5.4" fill="none" stroke="#6ec3a3" stroke-width="1.9" stroke-linejoin="round" />
<g fill="#6ec3a3"><circle cx="197.3" cy="2063.5" r="5.5"/><circle cx="212.7" cy="2061.7" r="5.5"/><circle cx="228.0" cy="2051.6" r="5.5"/><circle cx="243.4" cy="2049.0" r="5.5"/><circle cx="258.7" cy="2039.6" r="5.5"/><circle cx="274.1" cy="2032.9" r="5.5"/><circle cx="289.5" cy="2024.6" r="5.5"/><circle cx="304.8" cy="2020.7" r="5.5"/><circle cx="320.2" cy="2011.6" r="5.5"/><circle cx="335.5" cy="2008.4" r="5.5"/><circle cx="350.9" cy="2001.4" r="5.5"/><circle cx="366.3" cy="1996.0" r="5.5"/><circle cx="381.6" cy="1983.9" r="5.5"/><circle cx="397.0" cy="1986.3" r="5.5"/><circle cx="412.3" cy="1973.8" r="5.5"/><circle cx="427.7" cy="1972.4" r="5.5"/><circle cx="443.1" cy="1962.8" r="5.5"/><circle cx="458.4" cy="1956.5" r="5.5"/><circle cx="473.8" cy="1948.7" r="5.5"/><circle cx="489.2" cy="1943.4" r="5.5"/><circle cx="504.5" cy="1941.2" r="5.5"/><circle cx="519.9" cy="1932.3" r="5.5"/><circle cx="535.2" cy="1925.3" r="5.5"/><circle cx="550.6" cy="1918.4" r="5.5"/><circle cx="566.0" cy="1916.8" r="5.5"/><circle cx="581.3" cy="1911.1" r="5.5"/><circle cx="596.7" cy="1903.9" r="5.5"/><circle cx="612.0" cy="1901.3" r="5.5"/><circle cx="627.4" cy="1892.2" r="5.5"/><circle cx="642.8" cy="1885.3" r="5.5"/><circle cx="658.1" cy="1883.6" r="5.5"/><circle cx="673.5" cy="1875.7" r="5.5"/><circle cx="688.8" cy="1870.2" r="5.5"/><circle cx="704.2" cy="1863.7" r="5.5"/><circle cx="719.6" cy="1862.3" r="5.5"/><circle cx="734.9" cy="1858.5" r="5.5"/><circle cx="750.3" cy="1854.4" r="5.5"/><circle cx="765.6" cy="1844.7" r="5.5"/><circle cx="781.0" cy="1838.3" r="5.5"/><circle cx="796.4" cy="1834.6" r="5.5"/><circle cx="811.7" cy="1828.6" r="5.5"/><circle cx="827.1" cy="1827.2" r="5.5"/><circle cx="842.4" cy="1819.3" r="5.5"/><circle cx="857.8" cy="1818.8" r="5.5"/></g>
<path d="M197.3 2064l17.3-8.8 17.3-8.7 17.3-8.7 17.3-8.6 17.3-8.5 17.3-8.5 17.3-8.4 17.3-8.4 17.3-8.2 17.3-8.3 17.3-8.1 17.3-8.1 17.3-8 17.3-8 17.3-7.8 17.3-7.9 17.3-7.7 17.3-7.7 17.3-7.6 17.3-7.6 17.3-7.5 17.3-7.4 17.3-7.4 17.3-7.3 17.3-7.2 17.3-7.2 17.3-7.1 17.3-7 17.3-7 17.3-6.9 17.3-6.8 17.3-6.8 17.3-6.7 17.3-6.6 17.3-6.6 17.3-6.5 17.3-6.5 17.3-6.4 17.3-6.3" fill="none" stroke="#5d9ddb" stroke-width="1.9" stroke-linejoin="round" />
<g fill="#5d9ddb"><circle cx="197.3" cy="2064.2" r="5.5"/><circle cx="212.7" cy="2057.0" r="5.5"/><circle cx="228.0" cy="2045.3" r="5.5"/><circle cx="243.4" cy="2042.8" r="5.5"/><circle cx="258.7" cy="2032.2" r="5.5"/><circle cx="274.1" cy="2025.0" r="5.5"/><circle cx="289.5" cy="2019.5" r="5.5"/><circle cx="304.8" cy="2009.0" r="5.5"/><circle cx="320.2" cy="2002.7" r="5.5"/><circle cx="335.5" cy="1995.4" r="5.5"/><circle cx="350.9" cy="1988.6" r="5.5"/><circle cx="366.3" cy="1980.1" r="5.5"/><circle cx="381.6" cy="1971.4" r="5.5"/><circle cx="397.0" cy="1966.2" r="5.5"/><circle cx="412.3" cy="1957.3" r="5.5"/><circle cx="427.7" cy="1950.6" r="5.5"/><circle cx="443.1" cy="1944.7" r="5.5"/><circle cx="458.4" cy="1940.4" r="5.5"/><circle cx="473.8" cy="1934.1" r="5.5"/><circle cx="489.2" cy="1928.4" r="5.5"/><circle cx="504.5" cy="1918.7" r="5.5"/><circle cx="519.9" cy="1908.7" r="5.5"/><circle cx="535.2" cy="1903.6" r="5.5"/><circle cx="550.6" cy="1896.0" r="5.5"/><circle cx="566.0" cy="1894.0" r="5.5"/><circle cx="581.3" cy="1883.2" r="5.5"/><circle cx="596.7" cy="1876.2" r="5.5"/><circle cx="612.0" cy="1870.7" r="5.5"/><circle cx="627.4" cy="1863.4" r="5.5"/><circle cx="642.8" cy="1859.3" r="5.5"/><circle cx="658.1" cy="1853.4" r="5.5"/><circle cx="673.5" cy="1845.1" r="5.5"/><circle cx="688.8" cy="1841.1" r="5.5"/><circle cx="704.2" cy="1829.7" r="5.5"/><circle cx="719.6" cy="1827.2" r="5.5"/><circle cx="734.9" cy="1820.4" r="5.5"/><circle cx="750.3" cy="1814.0" r="5.5"/><circle cx="765.6" cy="1809.1" r="5.5"/><circle cx="781.0" cy="1801.4" r="5.5"/><circle cx="796.4" cy="1796.5" r="5.5"/><circle cx="811.7" cy="1791.0" r="5.5"/><circle cx="827.1" cy="1789.3" r="5.5"/><circle cx="842.4" cy="1783.3" r="5.5"/><circle cx="857.8" cy="1776.4" r="5.5"/></g>
<path d="M197.3 2062.1l17.3-8.6 17.3-8.5 17.3-8.5 17.3-8.5 17.3-8.5 17.3-8.5 17.3-8.4 17.3-8.5 17.3-8.4 17.3-8.5 17.3-8.4 17.3-8.4 17.3-8.4 17.3-8.4 17.3-8.4 17.3-8.3 17.3-8.4 17.3-8.3 17.3-8.3 17.3-8.3 17.3-8.4 17.3-8.2 17.3-8.3 17.3-8.3 17.3-8.3 17.3-8.2 17.3-8.2 17.3-8.3 17.3-8.2 17.3-8.2 17.3-8.2 17.3-8.1 17.3-8.2 17.3-8.2 17.3-8.1 17.3-8.1 17.3-8.1 17.3-8.2 17.3-8.1" fill="none" stroke="#4b58b0" stroke-width="1.9" stroke-linejoin="round" />
<g fill="#4b58b0"><circle cx="197.3" cy="2061.5" r="5.5"/><circle cx="212.7" cy="2058.2" r="5.5"/><circle cx="228.0" cy="2049.1" r="5.5"/><circle cx="243.4" cy="2039.7" r="5.5"/><circle cx="258.7" cy="2032.0" r="5.5"/><circle cx="274.1" cy="2024.8" r="5.5"/><circle cx="289.5" cy="2015.3" r="5.5"/><circle cx="304.8" cy="2010.9" r="5.5"/><circle cx="320.2" cy="1999.2" r="5.5"/><circle cx="335.5" cy="1990.1" r="5.5"/><circle cx="350.9" cy="1984.2" r="5.5"/><circle cx="366.3" cy="1979.5" r="5.5"/><circle cx="381.6" cy="1973.1" r="5.5"/><circle cx="397.0" cy="1961.8" r="5.5"/><circle cx="412.3" cy="1955.8" r="5.5"/><circle cx="427.7" cy="1953.4" r="5.5"/><circle cx="443.1" cy="1942.1" r="5.5"/><circle cx="458.4" cy="1934.6" r="5.5"/><circle cx="473.8" cy="1926.3" r="5.5"/><circle cx="489.2" cy="1920.9" r="5.5"/><circle cx="504.5" cy="1916.6" r="5.5"/><circle cx="519.9" cy="1904.9" r="5.5"/><circle cx="535.2" cy="1898.3" r="5.5"/><circle cx="550.6" cy="1892.8" r="5.5"/><circle cx="566.0" cy="1882.8" r="5.5"/><circle cx="581.3" cy="1875.3" r="5.5"/><circle cx="596.7" cy="1867.5" r="5.5"/><circle cx="612.0" cy="1861.3" r="5.5"/><circle cx="627.4" cy="1851.8" r="5.5"/><circle cx="642.8" cy="1847.5" r="5.5"/><circle cx="658.1" cy="1837.6" r="5.5"/><circle cx="673.5" cy="1828.6" r="5.5"/><circle cx="688.8" cy="1825.1" r="5.5"/><circle cx="704.2" cy="1818.5" r="5.5"/><circle cx="719.6" cy="1809.8" r="5.5"/><circle cx="734.9" cy="1801.6" r="5.5"/><circle cx="750.3" cy="1798.0" r="5.5"/><circle cx="765.6" cy="1783.8" r="5.5"/><circle cx="781.0" cy="1778.8" r="5.5"/><circle cx="796.4" cy="1774.4" r="5.5"/><circle cx="811.7" cy="1764.0" r="5.5"/><circle cx="827.1" cy="1759.1" r="5.5"/><circle cx="842.4" cy="1752.7" r="5.5"/><circle cx="857.8" cy="1744.4" r="5.5"/></g>
<path d="M197.3 2057l17.3-8.8 17.3-8.8 17.3-8.8 17.3-8.9 17.3-8.8 17.3-8.8 17.3-8.8 17.3-8.8 17.3-8.8 17.3-8.9 17.3-8.8 17.3-8.8 17.3-8.8 17.3-8.9 17.3-8.8 17.3-8.8 17.3-8.9 17.3-8.8 17.3-8.8 17.3-8.9 17.3-8.8 17.3-8.9 17.3-8.8 17.3-8.8 17.3-8.9 17.3-8.8 17.3-8.9 17.3-8.8 17.3-8.9 17.3-8.8 17.3-8.9 17.3-8.8 17.3-8.9 17.3-8.9 17.3-8.8 17.3-8.9 17.3-8.8 17.3-8.9 17.3-8.9" fill="none" stroke="#a35cb1" stroke-width="1.9" stroke-linejoin="round" />
<g fill="#a35cb1"><circle cx="197.3" cy="2056.8" r="5.5"/><circle cx="212.7" cy="2049.3" r="5.5"/><circle cx="228.0" cy="2042.3" r="5.5"/><circle cx="243.4" cy="2035.7" r="5.5"/><circle cx="258.7" cy="2027.0" r="5.5"/><circle cx="274.1" cy="2022.0" r="5.5"/><circle cx="289.5" cy="2011.0" r="5.5"/><circle cx="304.8" cy="2006.7" r="5.5"/><circle cx="320.2" cy="1995.5" r="5.5"/><circle cx="335.5" cy="1986.8" r="5.5"/><circle cx="350.9" cy="1979.8" r="5.5"/><circle cx="366.3" cy="1971.2" r="5.5"/><circle cx="381.6" cy="1962.6" r="5.5"/><circle cx="397.0" cy="1951.8" r="5.5"/><circle cx="412.3" cy="1946.6" r="5.5"/><circle cx="427.7" cy="1937.0" r="5.5"/><circle cx="443.1" cy="1932.1" r="5.5"/><circle cx="458.4" cy="1924.2" r="5.5"/><circle cx="473.8" cy="1914.9" r="5.5"/><circle cx="489.2" cy="1906.4" r="5.5"/><circle cx="504.5" cy="1900.0" r="5.5"/><circle cx="519.9" cy="1892.8" r="5.5"/><circle cx="535.2" cy="1883.8" r="5.5"/><circle cx="550.6" cy="1880.1" r="5.5"/><circle cx="566.0" cy="1871.8" r="5.5"/><circle cx="581.3" cy="1863.6" r="5.5"/><circle cx="596.7" cy="1852.0" r="5.5"/><circle cx="612.0" cy="1844.7" r="5.5"/><circle cx="627.4" cy="1835.5" r="5.5"/><circle cx="642.8" cy="1829.4" r="5.5"/><circle cx="658.1" cy="1819.2" r="5.5"/><circle cx="673.5" cy="1814.5" r="5.5"/><circle cx="688.8" cy="1806.5" r="5.5"/><circle cx="704.2" cy="1797.1" r="5.5"/><circle cx="719.6" cy="1790.6" r="5.5"/><circle cx="734.9" cy="1782.6" r="5.5"/><circle cx="750.3" cy="1772.8" r="5.5"/><circle cx="765.6" cy="1768.4" r="5.5"/><circle cx="781.0" cy="1763.1" r="5.5"/><circle cx="796.4" cy="1752.9" r="5.5"/><circle cx="811.7" cy="1742.3" r="5.5"/><circle cx="827.1" cy="1733.5" r="5.5"/><circle cx="842.4" cy="1727.6" r="5.5"/><circle cx="857.8" cy="1720.9" r="5.5"/></g>
<path d="M197.3 2056.4l17.3-8.9 17.3-8.9 17.3-8.9 17.3-8.9 17.3-8.9 17.3-8.9 17.3-8.9 17.3-8.9 17.3-8.9 17.3-8.8 17.3-8.9 17.3-8.9 17.3-8.9 17.3-8.8 17.3-8.9 17.3-8.9 17.3-8.8 17.3-8.9 17.3-8.9 17.3-8.8 17.3-8.9 17.3-8.8 17.3-8.9 17.3-8.8 17.3-8.9 17.3-8.8 17.3-8.9 17.3-8.8 17.3-8.9 17.3-8.8 17.3-8.8 17.3-8.9 17.3-8.8 17.3-8.8 17.3-8.8 17.3-8.9 17.3-8.8 17.3-8.8 17.3-8.8" fill="none" stroke="#da5aa6" stroke-width="1.9" stroke-linejoin="round" />
<g fill="#da5aa6"><circle cx="197.3" cy="2058.6" r="5.5"/><circle cx="212.7" cy="2048.0" r="5.5"/><circle cx="228.0" cy="2041.1" r="5.5"/><circle cx="243.4" cy="2033.2" r="5.5"/><circle cx="258.7" cy="2023.3" r="5.5"/><circle cx="274.1" cy="2015.6" r="5.5"/><circle cx="289.5" cy="2006.9" r="5.5"/><circle cx="304.8" cy="2001.8" r="5.5"/><circle cx="320.2" cy="1993.9" r="5.5"/><circle cx="335.5" cy="1983.5" r="5.5"/><circle cx="350.9" cy="1975.1" r="5.5"/><circle cx="366.3" cy="1972.9" r="5.5"/><circle cx="381.6" cy="1963.2" r="5.5"/><circle cx="397.0" cy="1954.3" r="5.5"/><circle cx="412.3" cy="1945.5" r="5.5"/><circle cx="427.7" cy="1940.1" r="5.5"/><circle cx="443.1" cy="1928.9" r="5.5"/><circle cx="458.4" cy="1922.4" r="5.5"/><circle cx="473.8" cy="1912.5" r="5.5"/><circle cx="489.2" cy="1906.9" r="5.5"/><circle cx="504.5" cy="1897.4" r="5.5"/><circle cx="519.9" cy="1892.7" r="5.5"/><circle cx="535.2" cy="1886.5" r="5.5"/><circle cx="550.6" cy="1874.5" r="5.5"/><circle cx="566.0" cy="1866.2" r="5.5"/><circle cx="581.3" cy="1865.1" r="5.5"/><circle cx="596.7" cy="1850.6" r="5.5"/><circle cx="612.0" cy="1847.1" r="5.5"/><circle cx="627.4" cy="1835.1" r="5.5"/><circle cx="642.8" cy="1828.3" r="5.5"/><circle cx="658.1" cy="1819.4" r="5.5"/><circle cx="673.5" cy="1809.6" r="5.5"/><circle cx="688.8" cy="1803.0" r="5.5"/><circle cx="704.2" cy="1798.0" r="5.5"/><circle cx="719.6" cy="1789.5" r="5.5"/><circle cx="734.9" cy="1778.2" r="5.5"/><circle cx="750.3" cy="1773.9" r="5.5"/><circle cx="765.6" cy="1764.2" r="5.5"/><circle cx="781.0" cy="1760.4" r="5.5"/><circle cx="796.4" cy="1745.3" r="5.5"/><circle cx="811.7" cy="1742.7" r="5.5"/><circle cx="827.1" cy="1736.3" r="5.5"/><circle cx="842.4" cy="1727.6" r="5.5"/><circle cx="857.8" cy="1718.8" r="5.5"/></g>
<path d="M197.3 2052.6l17.3-9.7 17.3-9.6 17.3-9.5 17.3-9.6 17.3-9.6 17.3-9.5 17.3-9.5 17.3-9.5 17.3-9.5 17.3-9.5 17.3-9.5 17.3-9.5 17.3-9.4 17.3-9.4 17.3-9.5 17.3-9.4 17.3-9.4 17.3-9.3 17.3-9.4 17.3-9.3 17.3-9.4 17.3-9.3 17.3-9.3 17.3-9.3 17.3-9.3 17.3-9.3 17.3-9.2 17.3-9.3 17.3-9.2 17.3-9.2 17.3-9.2 17.3-9.2 17.3-9.2 17.3-9.2 17.3-9.1 17.3-9.2 17.3-9.1 17.3-9.1 17.3-9.1" fill="none" stroke="#dc5a8d" stroke-width="1.9" stroke-linejoin="round" />
<g fill="#dc5a8d"><circle cx="197.3" cy="2051.2" r="5.5"/><circle cx="212.7" cy="2045.7" r="5.5"/><circle cx="228.0" cy="2036.1" r="5.5"/><circle cx="243.4" cy="2025.8" r="5.5"/><circle cx="258.7" cy="2014.7" r="5.5"/><circle cx="274.1" cy="2012.7" r="5.5"/><circle cx="289.5" cy="2003.8" r="5.5"/><circle cx="304.8" cy="1992.3" r="5.5"/><circle cx="320.2" cy="1987.0" r="5.5"/><circle cx="335.5" cy="1978.6" r="5.5"/><circle cx="350.9" cy="1966.0" r="5.5"/><circle cx="366.3" cy="1959.0" r="5.5"/><circle cx="381.6" cy="1952.4" r="5.5"/><circle cx="397.0" cy="1942.0" r="5.5"/><circle cx="412.3" cy="1934.7" r="5.5"/><circle cx="427.7" cy="1927.1" r="5.5"/><circle cx="443.1" cy="1921.9" r="5.5"/><circle cx="458.4" cy="1907.6" r="5.5"/><circle cx="473.8" cy="1902.1" r="5.5"/><circle cx="489.2" cy="1892.7" r="5.5"/><circle cx="504.5" cy="1886.6" r="5.5"/><circle cx="519.9" cy="1874.6" r="5.5"/><circle cx="535.2" cy="1865.4" r="5.5"/><circle cx="550.6" cy="1855.9" r="5.5"/><circle cx="566.0" cy="1849.8" r="5.5"/><circle cx="581.3" cy="1840.3" r="5.5"/><circle cx="596.7" cy="1834.6" r="5.5"/><circle cx="612.0" cy="1828.5" r="5.5"/><circle cx="627.4" cy="1814.7" r="5.5"/><circle cx="642.8" cy="1809.4" r="5.5"/><circle cx="658.1" cy="1799.7" r="5.5"/><circle cx="673.5" cy="1793.2" r="5.5"/><circle cx="688.8" cy="1782.7" r="5.5"/><circle cx="704.2" cy="1772.9" r="5.5"/><circle cx="719.6" cy="1767.4" r="5.5"/><circle cx="734.9" cy="1757.9" r="5.5"/><circle cx="750.3" cy="1752.4" r="5.5"/><circle cx="765.6" cy="1741.1" r="5.5"/><circle cx="781.0" cy="1735.5" r="5.5"/><circle cx="796.4" cy="1725.9" r="5.5"/><circle cx="811.7" cy="1721.8" r="5.5"/><circle cx="827.1" cy="1710.6" r="5.5"/><circle cx="842.4" cy="1701.5" r="5.5"/><circle cx="857.8" cy="1694.7" r="5.5"/></g>
<text x="850.0" y="1631.6" font-size="35.4">[FT827] (µM)</text>
<circle cx="900.2" cy="1671.6" r="5.4" fill="#dc5a8d"/>
<text x="950.3" y="1684.2" font-size="35.7">0.04</text>
<circle cx="900.2" cy="1711.8" r="5.4" fill="#da5aa6"/>
<text x="950.3" y="1724.4" font-size="35.7">0.08</text>
<circle cx="900.2" cy="1752.0" r="5.4" fill="#a35cb1"/>
<text x="950.3" y="1764.6" font-size="35.7">0.15</text>
<circle cx="900.2" cy="1792.3" r="5.4" fill="#4b58b0"/>
<text x="950.3" y="1804.9" font-size="35.7">0.3</text>
<circle cx="900.2" cy="1832.5" r="5.4" fill="#5d9ddb"/>
<text x="950.3" y="1845.1" font-size="35.7">0.6</text>
<circle cx="900.2" cy="1872.7" r="5.4" fill="#6ec3a3"/>
<text x="950.3" y="1885.3" font-size="35.7">1.5</text>
<circle cx="900.2" cy="1912.9" r="5.4" fill="#5fba50"/>
<text x="950.3" y="1925.5" font-size="35.7">3</text>
<circle cx="900.2" cy="1953.1" r="5.4" fill="#f2a24c"/>
<text x="950.3" y="1965.7" font-size="35.7">6</text>
<circle cx="900.2" cy="1993.4" r="5.4" fill="#e27d8b"/>
<text x="950.3" y="2006.0" font-size="35.7">12</text>
<circle cx="900.2" cy="2033.6" r="5.4" fill="#908232"/>
<text x="950.3" y="2046.2" font-size="35.7">24</text>
<circle cx="900.2" cy="2073.8" r="5.4" fill="#a9a9ae"/>
<text x="950.3" y="2086.4" font-size="35.7">48</text>
<text x="1153.0" y="1578.1" font-size="33.5">FT827</text>
<text x="1266.5" y="1578.1" font-size="33.5" font-style="italic">k</text>
<text x="1284.0" y="1589.8" font-size="20" font-style="italic">obs</text>
<text x="1327.0" y="1578.1" font-size="33.5">plot</text>
<line x1="1357.10" y1="1658.40" x2="1357.10" y2="2111.30" stroke="#000" stroke-width="2.0" stroke-linecap="butt"/>
<line x1="1356.10" y1="2110.30" x2="2032.35" y2="2110.30" stroke="#000" stroke-width="2.0" stroke-linecap="butt"/>
<line x1="1343.80" y1="2110.30" x2="1357.10" y2="2110.30" stroke="#000" stroke-width="2.0" stroke-linecap="butt"/>
<text x="1332.0" y="2125.0" font-size="35.5" text-anchor="end">0.0000</text>
<line x1="1343.80" y1="1960.00" x2="1357.10" y2="1960.00" stroke="#000" stroke-width="2.0" stroke-linecap="butt"/>
<text x="1332.0" y="1974.7" font-size="35.5" text-anchor="end">0.0002</text>
<line x1="1343.80" y1="1809.70" x2="1357.10" y2="1809.70" stroke="#000" stroke-width="2.0" stroke-linecap="butt"/>
<text x="1332.0" y="1824.4" font-size="35.5" text-anchor="end">0.0004</text>
<line x1="1343.80" y1="1659.40" x2="1357.10" y2="1659.40" stroke="#000" stroke-width="2.0" stroke-linecap="butt"/>
<text x="1332.0" y="1674.1" font-size="35.5" text-anchor="end">0.0006</text>
<line x1="1357.10" y1="2110.30" x2="1357.10" y2="2123.60" stroke="#000" stroke-width="2.0" stroke-linecap="butt"/>
<text x="1357.1" y="2153.0" font-size="35.5" text-anchor="middle">0</text>
<line x1="1491.95" y1="2110.30" x2="1491.95" y2="2123.60" stroke="#000" stroke-width="2.0" stroke-linecap="butt"/>
<text x="1491.9" y="2153.0" font-size="35.5" text-anchor="middle">10</text>
<line x1="1626.80" y1="2110.30" x2="1626.80" y2="2123.60" stroke="#000" stroke-width="2.0" stroke-linecap="butt"/>
<text x="1626.8" y="2153.0" font-size="35.5" text-anchor="middle">20</text>
<line x1="1761.65" y1="2110.30" x2="1761.65" y2="2123.60" stroke="#000" stroke-width="2.0" stroke-linecap="butt"/>
<text x="1761.6" y="2153.0" font-size="35.5" text-anchor="middle">30</text>
<line x1="1896.50" y1="2110.30" x2="1896.50" y2="2123.60" stroke="#000" stroke-width="2.0" stroke-linecap="butt"/>
<text x="1896.5" y="2153.0" font-size="35.5" text-anchor="middle">40</text>
<line x1="2031.35" y1="2110.30" x2="2031.35" y2="2123.60" stroke="#000" stroke-width="2.0" stroke-linecap="butt"/>
<text x="2031.3" y="2153.0" font-size="35.5" text-anchor="middle">50</text>
<text x="1676.5" y="2215.9" font-size="35.5" text-anchor="middle">[Compound] (µM)</text>
<path d="M1357.1 2110.3l8.2-27.2 8.2-23.9 8.2-21.1 8.2-18.9 8.2-16.9 8.2-15.3 8.2-13.8 8.1-12.6 8.2-11.6 8.2-10.6 8.2-9.8 8.2-9 8.2-8.4 8.2-7.7 8.2-7.3 8.2-6.8 8.2-6.3 8.2-6 8.2-5.6 8.2-5.3 8.2-5 8.2-4.7 8.1-4.4 8.2-4.3 8.2-4 8.2-3.8 8.2-3.6 8.2-3.5 8.2-3.3 8.2-3.1 8.2-3 8.2-2.9 8.2-2.8 8.2-2.6 8.2-2.6 8.2-2.4 8.2-2.3 8.1-2.3 8.2-2.2 8.2-2.1 8.2-2 8.2-1.9 8.2-1.9 8.2-1.8 8.2-1.8 8.2-1.7 8.2-1.6 8.2-1.6 8.2-1.5 8.2-1.5 8.2-1.5 8.2-1.4 8.2-1.3 8.1-1.3 8.2-1.3 8.2-1.3 8.2-1.2 8.2-1.1 8.2-1.2 8.2-1.1 8.2-1.1 8.2-1 8.2-1.1 8.2-1 8.2-1 8.2-.9 8.2-.9 8.2-.9 8.1-.9 8.2-.9 8.2-.8 8.2-.9 8.2-.8 8.2-.8 8.2-.7 8.2-.8 8.2-.7 8.2-.7 8.2-.7" fill="none" stroke="#000" stroke-width="2.0" stroke-linejoin="round" />
<circle cx="1357.6" cy="2103.9" r="10.2" fill="#231f20"/>
<circle cx="1365.2" cy="2100.2" r="10.2" fill="#231f20"/>
<circle cx="1377.3" cy="2060.7" r="10.2" fill="#231f20"/>
<circle cx="1397.6" cy="1979.5" r="10.2" fill="#231f20"/>
<circle cx="1438.0" cy="1946.5" r="10.2" fill="#231f20"/>
<circle cx="1518.9" cy="1856.3" r="10.2" fill="#231f20"/>
<circle cx="1680.7" cy="1825.5" r="10.2" fill="#231f20"/>
<circle cx="2004.4" cy="1746.6" r="10.2" fill="#231f20"/>
<text x="1199.3" y="1978.5" font-size="35.5" font-style="italic" transform="rotate(-90 1199.3 1978.5)">k</text>
<text x="1211.0" y="1945.0" font-size="19.8" font-style="italic" transform="rotate(-90 1211.0 1945.0)">obs</text>
<text x="1199.3" y="1881.5" font-size="36" transform="rotate(-90 1199.3 1881.5)">(</text>
<text x="1199.3" y="1868.5" font-size="36.5" transform="rotate(-90 1199.3 1868.5)">s</text>
<text x="1186.5" y="1851.5" font-size="17.5" transform="rotate(-90 1186.5 1851.5)">-1</text>
<text x="1199.3" y="1823.5" font-size="36" transform="rotate(-90 1199.3 1823.5)">)</text>
<text x="1608.0" y="1939.8" font-size="35.5" font-style="italic">k</text>
<text x="1624.5" y="1950.8" font-size="20.8" font-style="italic">inact</text>
<text x="1803.5" y="1939.8" font-size="35.5">0.0003 ± 0.0001 s</text>
<text x="2086.0" y="1928.5" font-size="18.5">-1</text>
<text x="1608.0" y="2010.0" font-size="35.5" font-style="italic">K</text>
<text x="1632.0" y="2021.0" font-size="20" font-style="italic">I</text>
<text x="1803.5" y="2010.0" font-size="35.5">4.2 ± 1.5 µM</text>
<text x="1608.0" y="2075.7" font-size="35.5" font-style="italic">k</text>
<text x="1624.5" y="2086.7" font-size="20.8" font-style="italic">inact</text>
<text x="1680.0" y="2075.7" font-size="35.5" font-style="italic">/</text>
<text x="1698.0" y="2075.7" font-size="35.5" font-style="italic">K</text>
<text x="1722.0" y="2086.7" font-size="20" font-style="italic">I</text>
<text x="1803.5" y="2075.7" font-size="35.5">66 ± 25 M</text>
<text x="1962.0" y="2064.5" font-size="18.5">-1</text>
<text x="1988.0" y="2075.7" font-size="35.5">s</text>
<text x="2006.0" y="2064.5" font-size="18.5">-1</text>
</svg>
</body></html>
